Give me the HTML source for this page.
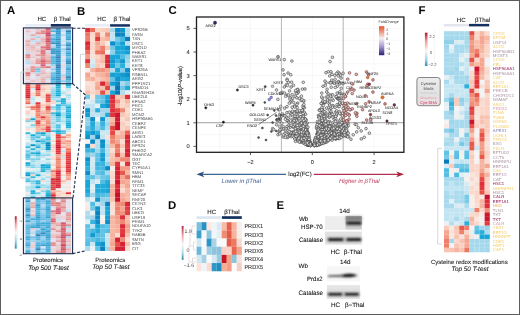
<!DOCTYPE html>
<html><head><meta charset="utf-8"><style>
html,body{margin:0;padding:0;background:#fff;width:520px;height:315px;overflow:hidden;}
svg{display:block;font-family:"Liberation Sans", sans-serif;text-rendering:geometricPrecision;-webkit-font-smoothing:antialiased;will-change:transform;filter:blur(0.3px);}
</style></head><body>
<svg width="520" height="315" viewBox="0 0 520 315" font-family='"Liberation Sans", sans-serif'>
<rect x="0.00" y="0.00" width="520.00" height="315.00" fill="#ffffff" />
<text x="6.90" y="14.30" font-size="11.4" fill="#0a0a0a" text-anchor="start" font-weight="bold" font-style="normal" >A</text>
<text x="77.10" y="14.50" font-size="11.4" fill="#0a0a0a" text-anchor="start" font-weight="bold" font-style="normal" >B</text>
<text x="168.40" y="14.30" font-size="11.4" fill="#0a0a0a" text-anchor="start" font-weight="bold" font-style="normal" >C</text>
<text x="168.10" y="208.80" font-size="11.4" fill="#0a0a0a" text-anchor="start" font-weight="bold" font-style="normal" >D</text>
<text x="276.50" y="208.80" font-size="11.4" fill="#0a0a0a" text-anchor="start" font-weight="bold" font-style="normal" >E</text>
<text x="418.40" y="14.30" font-size="11.4" fill="#0a0a0a" text-anchor="start" font-weight="bold" font-style="normal" >F</text>
<rect x="25.50" y="28.30" width="5.10" height="2.05" fill="#f8e2da" />
<rect x="25.50" y="30.30" width="5.10" height="2.05" fill="#f8c2b1" />
<rect x="25.50" y="32.30" width="5.10" height="2.05" fill="#f8e1d8" />
<rect x="25.50" y="34.30" width="5.10" height="2.05" fill="#f8e4dd" />
<rect x="25.50" y="36.30" width="5.10" height="2.05" fill="#e9f1f4" />
<rect x="25.50" y="38.30" width="5.10" height="2.05" fill="#f9e1d8" />
<rect x="25.50" y="40.30" width="5.10" height="2.05" fill="#f4a590" />
<rect x="25.50" y="42.30" width="5.10" height="2.05" fill="#f9c6b6" />
<rect x="25.50" y="44.30" width="5.10" height="2.05" fill="#f5a994" />
<rect x="25.50" y="46.30" width="5.10" height="2.05" fill="#facebf" />
<rect x="25.50" y="48.30" width="5.10" height="2.05" fill="#f9c8b7" />
<rect x="25.50" y="50.30" width="5.10" height="2.05" fill="#fad1c2" />
<rect x="25.50" y="52.30" width="5.10" height="2.05" fill="#bce6f1" />
<rect x="25.50" y="54.30" width="5.10" height="2.05" fill="#ec705f" />
<rect x="25.50" y="56.30" width="5.10" height="2.05" fill="#ee7a66" />
<rect x="25.50" y="58.30" width="5.10" height="2.05" fill="#f9c3b2" />
<rect x="25.50" y="60.30" width="5.10" height="2.05" fill="#bae5f1" />
<rect x="25.50" y="62.30" width="5.10" height="2.05" fill="#b7e4f0" />
<rect x="25.50" y="64.30" width="5.10" height="2.05" fill="#ecf2f4" />
<rect x="25.50" y="66.30" width="5.10" height="2.05" fill="#f6eae5" />
<rect x="25.50" y="68.30" width="5.10" height="2.05" fill="#faccbc" />
<rect x="25.50" y="70.30" width="5.10" height="2.05" fill="#fadbcf" />
<rect x="25.50" y="72.30" width="5.10" height="2.05" fill="#e75449" />
<rect x="25.50" y="74.30" width="5.10" height="2.05" fill="#ed7562" />
<rect x="25.50" y="76.30" width="5.10" height="2.05" fill="#fad1c2" />
<rect x="25.50" y="78.30" width="5.10" height="2.05" fill="#facdbd" />
<rect x="25.50" y="80.30" width="5.10" height="2.05" fill="#f5f2f1" />
<rect x="25.50" y="82.30" width="5.10" height="2.05" fill="#f18e79" />
<rect x="25.50" y="84.30" width="5.10" height="2.05" fill="#e44844" />
<rect x="25.50" y="86.30" width="5.10" height="2.05" fill="#e33f41" />
<rect x="25.50" y="88.30" width="5.10" height="2.05" fill="#df2f3c" />
<rect x="25.50" y="90.30" width="5.10" height="2.05" fill="#e0303c" />
<rect x="25.50" y="92.30" width="5.10" height="2.05" fill="#de2b3a" />
<rect x="25.50" y="94.30" width="5.10" height="2.05" fill="#db2838" />
<rect x="25.50" y="96.30" width="5.10" height="2.05" fill="#d52034" />
<rect x="25.50" y="98.30" width="5.10" height="2.05" fill="#f18e79" />
<rect x="25.50" y="100.30" width="5.10" height="2.05" fill="#f39b86" />
<rect x="25.50" y="102.30" width="5.10" height="2.05" fill="#e96254" />
<rect x="25.50" y="104.30" width="5.10" height="2.05" fill="#f6ece8" />
<rect x="25.50" y="106.30" width="5.10" height="2.05" fill="#f6af9a" />
<rect x="25.50" y="108.30" width="5.10" height="2.05" fill="#f4f4f4" />
<rect x="25.50" y="110.30" width="5.10" height="2.05" fill="#fbd4c6" />
<rect x="25.50" y="112.30" width="5.10" height="2.05" fill="#facdbe" />
<rect x="25.50" y="114.30" width="5.10" height="2.05" fill="#d2ecf3" />
<rect x="25.50" y="116.30" width="5.10" height="2.05" fill="#f6ece9" />
<rect x="25.50" y="118.30" width="5.10" height="2.05" fill="#f7b9a5" />
<rect x="25.50" y="120.30" width="5.10" height="2.05" fill="#78cee7" />
<rect x="25.50" y="122.30" width="5.10" height="2.05" fill="#ebf2f4" />
<rect x="25.50" y="124.30" width="5.10" height="2.05" fill="#f5f2f1" />
<rect x="25.50" y="126.30" width="5.10" height="2.05" fill="#cdebf2" />
<rect x="25.50" y="128.30" width="5.10" height="2.05" fill="#fadcd1" />
<rect x="25.50" y="130.30" width="5.10" height="2.05" fill="#f5f0ee" />
<rect x="25.50" y="132.30" width="5.10" height="2.05" fill="#2fb6dc" />
<rect x="25.50" y="134.30" width="5.10" height="2.05" fill="#d6edf3" />
<rect x="25.50" y="136.30" width="5.10" height="2.05" fill="#cceaf2" />
<rect x="25.50" y="138.30" width="5.10" height="2.05" fill="#ddeef3" />
<rect x="25.50" y="140.30" width="5.10" height="2.05" fill="#f5f0ee" />
<rect x="25.50" y="142.30" width="5.10" height="2.05" fill="#b8e5f1" />
<rect x="25.50" y="144.30" width="5.10" height="2.05" fill="#a8deee" />
<rect x="25.50" y="146.30" width="5.10" height="2.05" fill="#38b9de" />
<rect x="25.50" y="148.30" width="5.10" height="2.05" fill="#c9eaf2" />
<rect x="25.50" y="150.30" width="5.10" height="2.05" fill="#70cbe6" />
<rect x="25.50" y="152.30" width="5.10" height="2.05" fill="#7ed0e8" />
<rect x="25.50" y="154.30" width="5.10" height="2.05" fill="#3abade" />
<rect x="25.50" y="156.30" width="5.10" height="2.05" fill="#51c1e1" />
<rect x="25.50" y="158.30" width="5.10" height="2.05" fill="#77cee7" />
<rect x="25.50" y="160.30" width="5.10" height="2.05" fill="#f1f3f4" />
<rect x="25.50" y="162.30" width="5.10" height="2.05" fill="#0fa9d5" />
<rect x="25.50" y="164.30" width="5.10" height="2.05" fill="#2fb6dc" />
<rect x="25.50" y="166.30" width="5.10" height="2.05" fill="#b0e1ef" />
<rect x="25.50" y="168.30" width="5.10" height="2.05" fill="#f5f0ee" />
<rect x="25.50" y="170.30" width="5.10" height="2.05" fill="#c7e9f2" />
<rect x="25.50" y="172.30" width="5.10" height="2.05" fill="#16acd7" />
<rect x="25.50" y="174.30" width="5.10" height="2.05" fill="#069ac8" />
<rect x="25.50" y="176.30" width="5.10" height="2.05" fill="#b8e4f0" />
<rect x="25.50" y="178.30" width="5.10" height="2.05" fill="#65c8e4" />
<rect x="25.50" y="180.30" width="5.10" height="2.05" fill="#44bde0" />
<rect x="25.50" y="182.30" width="5.10" height="2.05" fill="#dfeff3" />
<rect x="25.50" y="184.30" width="5.10" height="2.05" fill="#e6f1f3" />
<rect x="25.50" y="186.30" width="5.10" height="2.05" fill="#aadfee" />
<rect x="25.50" y="188.30" width="5.10" height="2.05" fill="#b0e2ef" />
<rect x="25.50" y="190.30" width="5.10" height="2.05" fill="#bde6f1" />
<rect x="25.50" y="192.30" width="5.10" height="2.05" fill="#f6ebe6" />
<rect x="25.50" y="194.30" width="5.10" height="2.05" fill="#c9eaf2" />
<rect x="25.50" y="196.30" width="5.10" height="2.05" fill="#c3e8f2" />
<rect x="25.50" y="198.30" width="5.10" height="2.05" fill="#3dbbdf" />
<rect x="25.50" y="200.30" width="5.10" height="2.05" fill="#008abb" />
<rect x="25.50" y="202.30" width="5.10" height="2.05" fill="#71cce6" />
<rect x="25.50" y="204.30" width="5.10" height="2.05" fill="#5ac4e3" />
<rect x="25.50" y="206.30" width="5.10" height="2.05" fill="#3dbbde" />
<rect x="25.50" y="208.30" width="5.10" height="2.05" fill="#007aae" />
<rect x="25.50" y="210.30" width="5.10" height="2.05" fill="#0ca4d1" />
<rect x="25.50" y="212.30" width="5.10" height="2.05" fill="#51c2e1" />
<rect x="25.50" y="214.30" width="5.10" height="2.05" fill="#0080b3" />
<rect x="25.50" y="216.30" width="5.10" height="2.05" fill="#1aaed8" />
<rect x="25.50" y="218.30" width="5.10" height="2.05" fill="#5ec6e3" />
<rect x="25.50" y="220.30" width="5.10" height="2.05" fill="#0192c2" />
<rect x="25.50" y="222.30" width="5.10" height="2.05" fill="#89d3e9" />
<rect x="25.50" y="224.30" width="5.10" height="2.05" fill="#3ebbdf" />
<rect x="25.50" y="226.30" width="5.10" height="2.05" fill="#1caed8" />
<rect x="25.50" y="228.30" width="5.10" height="2.05" fill="#33b7dd" />
<rect x="25.50" y="230.30" width="5.10" height="2.05" fill="#44bddf" />
<rect x="25.50" y="232.30" width="5.10" height="2.05" fill="#29b3db" />
<rect x="25.50" y="234.30" width="5.10" height="2.05" fill="#67c9e4" />
<rect x="25.50" y="236.30" width="5.10" height="2.05" fill="#0ca3d0" />
<rect x="25.50" y="238.30" width="5.10" height="2.05" fill="#10aad6" />
<rect x="25.50" y="240.30" width="5.10" height="2.05" fill="#60c6e3" />
<rect x="25.50" y="242.30" width="5.10" height="2.05" fill="#24b2da" />
<rect x="25.50" y="244.30" width="5.10" height="2.05" fill="#089ecb" />
<rect x="25.50" y="246.30" width="5.10" height="2.05" fill="#59c4e2" />
<rect x="25.50" y="248.30" width="5.10" height="2.05" fill="#7ed0e8" />
<rect x="25.50" y="250.30" width="5.10" height="2.05" fill="#0fa9d5" />
<rect x="25.50" y="252.30" width="5.10" height="0.75" fill="#0091c0" />
<rect x="30.55" y="28.30" width="5.10" height="2.05" fill="#f7e7e1" />
<rect x="30.55" y="30.30" width="5.10" height="2.05" fill="#f7e7e1" />
<rect x="30.55" y="32.30" width="5.10" height="2.05" fill="#f6ede9" />
<rect x="30.55" y="34.30" width="5.10" height="2.05" fill="#f4a28d" />
<rect x="30.55" y="36.30" width="5.10" height="2.05" fill="#d4ecf3" />
<rect x="30.55" y="38.30" width="5.10" height="2.05" fill="#f5aa95" />
<rect x="30.55" y="40.30" width="5.10" height="2.05" fill="#c6e9f2" />
<rect x="30.55" y="42.30" width="5.10" height="2.05" fill="#e3f0f3" />
<rect x="30.55" y="44.30" width="5.10" height="2.05" fill="#f9c8b8" />
<rect x="30.55" y="46.30" width="5.10" height="2.05" fill="#f6b29d" />
<rect x="30.55" y="48.30" width="5.10" height="2.05" fill="#f8beac" />
<rect x="30.55" y="50.30" width="5.10" height="2.05" fill="#fbd5c7" />
<rect x="30.55" y="52.30" width="5.10" height="2.05" fill="#f9ddd2" />
<rect x="30.55" y="54.30" width="5.10" height="2.05" fill="#f9ddd2" />
<rect x="30.55" y="56.30" width="5.10" height="2.05" fill="#facbbb" />
<rect x="30.55" y="58.30" width="5.10" height="2.05" fill="#f7e8e3" />
<rect x="30.55" y="60.30" width="5.10" height="2.05" fill="#fbd8cb" />
<rect x="30.55" y="62.30" width="5.10" height="2.05" fill="#facbbb" />
<rect x="30.55" y="64.30" width="5.10" height="2.05" fill="#f8e2da" />
<rect x="30.55" y="66.30" width="5.10" height="2.05" fill="#f08671" />
<rect x="30.55" y="68.30" width="5.10" height="2.05" fill="#f18c77" />
<rect x="30.55" y="70.30" width="5.10" height="2.05" fill="#f0836e" />
<rect x="30.55" y="72.30" width="5.10" height="2.05" fill="#fad9cd" />
<rect x="30.55" y="74.30" width="5.10" height="2.05" fill="#f3f4f4" />
<rect x="30.55" y="76.30" width="5.10" height="2.05" fill="#f4f2f2" />
<rect x="30.55" y="78.30" width="5.10" height="2.05" fill="#f7e5df" />
<rect x="30.55" y="80.30" width="5.10" height="2.05" fill="#f8bfad" />
<rect x="30.55" y="82.30" width="5.10" height="2.05" fill="#f5f1f0" />
<rect x="30.55" y="84.30" width="5.10" height="2.05" fill="#fbd5c7" />
<rect x="30.55" y="86.30" width="5.10" height="2.05" fill="#f6b49f" />
<rect x="30.55" y="88.30" width="5.10" height="2.05" fill="#cfebf3" />
<rect x="30.55" y="90.30" width="5.10" height="2.05" fill="#f5f0ee" />
<rect x="30.55" y="92.30" width="5.10" height="2.05" fill="#fbd8ca" />
<rect x="30.55" y="94.30" width="5.10" height="2.05" fill="#fbd5c6" />
<rect x="30.55" y="96.30" width="5.10" height="2.05" fill="#c7e9f2" />
<rect x="30.55" y="98.30" width="5.10" height="2.05" fill="#b8e4f0" />
<rect x="30.55" y="100.30" width="5.10" height="2.05" fill="#cfebf3" />
<rect x="30.55" y="102.30" width="5.10" height="2.05" fill="#c8e9f2" />
<rect x="30.55" y="104.30" width="5.10" height="2.05" fill="#f8e2da" />
<rect x="30.55" y="106.30" width="5.10" height="2.05" fill="#ea6455" />
<rect x="30.55" y="108.30" width="5.10" height="2.05" fill="#f18c77" />
<rect x="30.55" y="110.30" width="5.10" height="2.05" fill="#f6ece8" />
<rect x="30.55" y="112.30" width="5.10" height="2.05" fill="#f8e4dc" />
<rect x="30.55" y="114.30" width="5.10" height="2.05" fill="#f7e6e0" />
<rect x="30.55" y="116.30" width="5.10" height="2.05" fill="#c8e9f2" />
<rect x="30.55" y="118.30" width="5.10" height="2.05" fill="#0fa8d4" />
<rect x="30.55" y="120.30" width="5.10" height="2.05" fill="#ace0ef" />
<rect x="30.55" y="122.30" width="5.10" height="2.05" fill="#f7e8e2" />
<rect x="30.55" y="124.30" width="5.10" height="2.05" fill="#79cee7" />
<rect x="30.55" y="126.30" width="5.10" height="2.05" fill="#c8e9f2" />
<rect x="30.55" y="128.30" width="5.10" height="2.05" fill="#f6eae5" />
<rect x="30.55" y="130.30" width="5.10" height="2.05" fill="#f6edea" />
<rect x="30.55" y="132.30" width="5.10" height="2.05" fill="#e2f0f3" />
<rect x="30.55" y="134.30" width="5.10" height="2.05" fill="#16acd7" />
<rect x="30.55" y="136.30" width="5.10" height="2.05" fill="#6ccae5" />
<rect x="30.55" y="138.30" width="5.10" height="2.05" fill="#6dcae5" />
<rect x="30.55" y="140.30" width="5.10" height="2.05" fill="#b0e1ef" />
<rect x="30.55" y="142.30" width="5.10" height="2.05" fill="#cceaf2" />
<rect x="30.55" y="144.30" width="5.10" height="2.05" fill="#0191c1" />
<rect x="30.55" y="146.30" width="5.10" height="2.05" fill="#cceaf2" />
<rect x="30.55" y="148.30" width="5.10" height="2.05" fill="#24b1da" />
<rect x="30.55" y="150.30" width="5.10" height="2.05" fill="#b4e3f0" />
<rect x="30.55" y="152.30" width="5.10" height="2.05" fill="#21b0d9" />
<rect x="30.55" y="154.30" width="5.10" height="2.05" fill="#93d7eb" />
<rect x="30.55" y="156.30" width="5.10" height="2.05" fill="#d2ecf3" />
<rect x="30.55" y="158.30" width="5.10" height="2.05" fill="#7ccfe7" />
<rect x="30.55" y="160.30" width="5.10" height="2.05" fill="#94d7eb" />
<rect x="30.55" y="162.30" width="5.10" height="2.05" fill="#bbe5f1" />
<rect x="30.55" y="164.30" width="5.10" height="2.05" fill="#91d6ea" />
<rect x="30.55" y="166.30" width="5.10" height="2.05" fill="#81d1e8" />
<rect x="30.55" y="168.30" width="5.10" height="2.05" fill="#e4f0f3" />
<rect x="30.55" y="170.30" width="5.10" height="2.05" fill="#caeaf2" />
<rect x="30.55" y="172.30" width="5.10" height="2.05" fill="#71cce6" />
<rect x="30.55" y="174.30" width="5.10" height="2.05" fill="#fbd5c7" />
<rect x="30.55" y="176.30" width="5.10" height="2.05" fill="#33b7dd" />
<rect x="30.55" y="178.30" width="5.10" height="2.05" fill="#c2e8f2" />
<rect x="30.55" y="180.30" width="5.10" height="2.05" fill="#73cce6" />
<rect x="30.55" y="182.30" width="5.10" height="2.05" fill="#90d6ea" />
<rect x="30.55" y="184.30" width="5.10" height="2.05" fill="#b5e3f0" />
<rect x="30.55" y="186.30" width="5.10" height="2.05" fill="#96d8eb" />
<rect x="30.55" y="188.30" width="5.10" height="2.05" fill="#b1e2ef" />
<rect x="30.55" y="190.30" width="5.10" height="2.05" fill="#1fb0d9" />
<rect x="30.55" y="192.30" width="5.10" height="2.05" fill="#20b0d9" />
<rect x="30.55" y="194.30" width="5.10" height="2.05" fill="#afe1ef" />
<rect x="30.55" y="196.30" width="5.10" height="2.05" fill="#3dbbde" />
<rect x="30.55" y="198.30" width="5.10" height="2.05" fill="#f7e9e3" />
<rect x="30.55" y="200.30" width="5.10" height="2.05" fill="#f4f3f3" />
<rect x="30.55" y="202.30" width="5.10" height="2.05" fill="#f5a691" />
<rect x="30.55" y="204.30" width="5.10" height="2.05" fill="#f7b8a4" />
<rect x="30.55" y="206.30" width="5.10" height="2.05" fill="#f39d88" />
<rect x="30.55" y="208.30" width="5.10" height="2.05" fill="#f7e7e0" />
<rect x="30.55" y="210.30" width="5.10" height="2.05" fill="#facebf" />
<rect x="30.55" y="212.30" width="5.10" height="2.05" fill="#f6ebe7" />
<rect x="30.55" y="214.30" width="5.10" height="2.05" fill="#f7b7a3" />
<rect x="30.55" y="216.30" width="5.10" height="2.05" fill="#8cd5ea" />
<rect x="30.55" y="218.30" width="5.10" height="2.05" fill="#14acd7" />
<rect x="30.55" y="220.30" width="5.10" height="2.05" fill="#8bd4e9" />
<rect x="30.55" y="222.30" width="5.10" height="2.05" fill="#6bcae5" />
<rect x="30.55" y="224.30" width="5.10" height="2.05" fill="#30b6dc" />
<rect x="30.55" y="226.30" width="5.10" height="2.05" fill="#0496c5" />
<rect x="30.55" y="228.30" width="5.10" height="2.05" fill="#fbd3c4" />
<rect x="30.55" y="230.30" width="5.10" height="2.05" fill="#d0ebf3" />
<rect x="30.55" y="232.30" width="5.10" height="2.05" fill="#afe1ef" />
<rect x="30.55" y="234.30" width="5.10" height="2.05" fill="#eef3f4" />
<rect x="30.55" y="236.30" width="5.10" height="2.05" fill="#52c2e1" />
<rect x="30.55" y="238.30" width="5.10" height="2.05" fill="#81d1e8" />
<rect x="30.55" y="240.30" width="5.10" height="2.05" fill="#92d7eb" />
<rect x="30.55" y="242.30" width="5.10" height="2.05" fill="#f9ddd2" />
<rect x="30.55" y="244.30" width="5.10" height="2.05" fill="#facfc0" />
<rect x="30.55" y="246.30" width="5.10" height="2.05" fill="#fad1c2" />
<rect x="30.55" y="248.30" width="5.10" height="2.05" fill="#cbeaf2" />
<rect x="30.55" y="250.30" width="5.10" height="2.05" fill="#a5deee" />
<rect x="30.55" y="252.30" width="5.10" height="0.75" fill="#f8e1d9" />
<rect x="35.60" y="28.30" width="5.10" height="2.05" fill="#f9c9b9" />
<rect x="35.60" y="30.30" width="5.10" height="2.05" fill="#f9c9b8" />
<rect x="35.60" y="32.30" width="5.10" height="2.05" fill="#f0836e" />
<rect x="35.60" y="34.30" width="5.10" height="2.05" fill="#fad9cd" />
<rect x="35.60" y="36.30" width="5.10" height="2.05" fill="#a2dced" />
<rect x="35.60" y="38.30" width="5.10" height="2.05" fill="#f9ded4" />
<rect x="35.60" y="40.30" width="5.10" height="2.05" fill="#c1e7f2" />
<rect x="35.60" y="42.30" width="5.10" height="2.05" fill="#f5a792" />
<rect x="35.60" y="44.30" width="5.10" height="2.05" fill="#f8c0ae" />
<rect x="35.60" y="46.30" width="5.10" height="2.05" fill="#f7e6df" />
<rect x="35.60" y="48.30" width="5.10" height="2.05" fill="#facfc0" />
<rect x="35.60" y="50.30" width="5.10" height="2.05" fill="#f7b4a0" />
<rect x="35.60" y="52.30" width="5.10" height="2.05" fill="#fad9cc" />
<rect x="35.60" y="54.30" width="5.10" height="2.05" fill="#f29681" />
<rect x="35.60" y="56.30" width="5.10" height="2.05" fill="#f9ded4" />
<rect x="35.60" y="58.30" width="5.10" height="2.05" fill="#f5a994" />
<rect x="35.60" y="60.30" width="5.10" height="2.05" fill="#f18c77" />
<rect x="35.60" y="62.30" width="5.10" height="2.05" fill="#f0846f" />
<rect x="35.60" y="64.30" width="5.10" height="2.05" fill="#f0f3f4" />
<rect x="35.60" y="66.30" width="5.10" height="2.05" fill="#f6b29e" />
<rect x="35.60" y="68.30" width="5.10" height="2.05" fill="#54c2e2" />
<rect x="35.60" y="70.30" width="5.10" height="2.05" fill="#76cde6" />
<rect x="35.60" y="72.30" width="5.10" height="2.05" fill="#ade1ef" />
<rect x="35.60" y="74.30" width="5.10" height="2.05" fill="#f4a28d" />
<rect x="35.60" y="76.30" width="5.10" height="2.05" fill="#dceef3" />
<rect x="35.60" y="78.30" width="5.10" height="2.05" fill="#fbd6c9" />
<rect x="35.60" y="80.30" width="5.10" height="2.05" fill="#f9ddd2" />
<rect x="35.60" y="82.30" width="5.10" height="2.05" fill="#fbd7ca" />
<rect x="35.60" y="84.30" width="5.10" height="2.05" fill="#e23c40" />
<rect x="35.60" y="86.30" width="5.10" height="2.05" fill="#e0313c" />
<rect x="35.60" y="88.30" width="5.10" height="2.05" fill="#d31e33" />
<rect x="35.60" y="90.30" width="5.10" height="2.05" fill="#f08772" />
<rect x="35.60" y="92.30" width="5.10" height="2.05" fill="#ee7966" />
<rect x="35.60" y="94.30" width="5.10" height="2.05" fill="#eb6c5c" />
<rect x="35.60" y="96.30" width="5.10" height="2.05" fill="#f7e6df" />
<rect x="35.60" y="98.30" width="5.10" height="2.05" fill="#ecf2f4" />
<rect x="35.60" y="100.30" width="5.10" height="2.05" fill="#f6ece8" />
<rect x="35.60" y="102.30" width="5.10" height="2.05" fill="#e0333d" />
<rect x="35.60" y="104.30" width="5.10" height="2.05" fill="#e85c4f" />
<rect x="35.60" y="106.30" width="5.10" height="2.05" fill="#e54a44" />
<rect x="35.60" y="108.30" width="5.10" height="2.05" fill="#ed7563" />
<rect x="35.60" y="110.30" width="5.10" height="2.05" fill="#ee7b67" />
<rect x="35.60" y="112.30" width="5.10" height="2.05" fill="#f2927d" />
<rect x="35.60" y="114.30" width="5.10" height="2.05" fill="#ee7b67" />
<rect x="35.60" y="116.30" width="5.10" height="2.05" fill="#f18e79" />
<rect x="35.60" y="118.30" width="5.10" height="2.05" fill="#f7b4a0" />
<rect x="35.60" y="120.30" width="5.10" height="2.05" fill="#e65147" />
<rect x="35.60" y="122.30" width="5.10" height="2.05" fill="#e44442" />
<rect x="35.60" y="124.30" width="5.10" height="2.05" fill="#ef816c" />
<rect x="35.60" y="126.30" width="5.10" height="2.05" fill="#f6ad98" />
<rect x="35.60" y="128.30" width="5.10" height="2.05" fill="#f7b5a1" />
<rect x="35.60" y="130.30" width="5.10" height="2.05" fill="#f6b29e" />
<rect x="35.60" y="132.30" width="5.10" height="2.05" fill="#30b6dc" />
<rect x="35.60" y="134.30" width="5.10" height="2.05" fill="#8dd5ea" />
<rect x="35.60" y="136.30" width="5.10" height="2.05" fill="#41bcdf" />
<rect x="35.60" y="138.30" width="5.10" height="2.05" fill="#a9dfee" />
<rect x="35.60" y="140.30" width="5.10" height="2.05" fill="#0da6d2" />
<rect x="35.60" y="142.30" width="5.10" height="2.05" fill="#a7deee" />
<rect x="35.60" y="144.30" width="5.10" height="2.05" fill="#68c9e5" />
<rect x="35.60" y="146.30" width="5.10" height="2.05" fill="#1cafd8" />
<rect x="35.60" y="148.30" width="5.10" height="2.05" fill="#bee6f1" />
<rect x="35.60" y="150.30" width="5.10" height="2.05" fill="#83d1e8" />
<rect x="35.60" y="152.30" width="5.10" height="2.05" fill="#10a9d5" />
<rect x="35.60" y="154.30" width="5.10" height="2.05" fill="#57c3e2" />
<rect x="35.60" y="156.30" width="5.10" height="2.05" fill="#a4dded" />
<rect x="35.60" y="158.30" width="5.10" height="2.05" fill="#75cde6" />
<rect x="35.60" y="160.30" width="5.10" height="2.05" fill="#c1e8f2" />
<rect x="35.60" y="162.30" width="5.10" height="2.05" fill="#bfe7f2" />
<rect x="35.60" y="164.30" width="5.10" height="2.05" fill="#bae5f1" />
<rect x="35.60" y="166.30" width="5.10" height="2.05" fill="#a7deee" />
<rect x="35.60" y="168.30" width="5.10" height="2.05" fill="#ddeef3" />
<rect x="35.60" y="170.30" width="5.10" height="2.05" fill="#bae5f1" />
<rect x="35.60" y="172.30" width="5.10" height="2.05" fill="#aee1ef" />
<rect x="35.60" y="174.30" width="5.10" height="2.05" fill="#16acd7" />
<rect x="35.60" y="176.30" width="5.10" height="2.05" fill="#c7e9f2" />
<rect x="35.60" y="178.30" width="5.10" height="2.05" fill="#dbeef3" />
<rect x="35.60" y="180.30" width="5.10" height="2.05" fill="#2eb5dc" />
<rect x="35.60" y="182.30" width="5.10" height="2.05" fill="#29b3db" />
<rect x="35.60" y="184.30" width="5.10" height="2.05" fill="#85d2e9" />
<rect x="35.60" y="186.30" width="5.10" height="2.05" fill="#0ca3d0" />
<rect x="35.60" y="188.30" width="5.10" height="2.05" fill="#b5e3f0" />
<rect x="35.60" y="190.30" width="5.10" height="2.05" fill="#f6eae5" />
<rect x="35.60" y="192.30" width="5.10" height="2.05" fill="#6fcbe6" />
<rect x="35.60" y="194.30" width="5.10" height="2.05" fill="#bfe7f2" />
<rect x="35.60" y="196.30" width="5.10" height="2.05" fill="#eff3f4" />
<rect x="35.60" y="198.30" width="5.10" height="2.05" fill="#0ea7d3" />
<rect x="35.60" y="200.30" width="5.10" height="2.05" fill="#2bb4db" />
<rect x="35.60" y="202.30" width="5.10" height="2.05" fill="#3bbade" />
<rect x="35.60" y="204.30" width="5.10" height="2.05" fill="#0292c2" />
<rect x="35.60" y="206.30" width="5.10" height="2.05" fill="#0fa8d4" />
<rect x="35.60" y="208.30" width="5.10" height="2.05" fill="#1eafd9" />
<rect x="35.60" y="210.30" width="5.10" height="2.05" fill="#38b9dd" />
<rect x="35.60" y="212.30" width="5.10" height="2.05" fill="#0fa9d5" />
<rect x="35.60" y="214.30" width="5.10" height="2.05" fill="#0da5d2" />
<rect x="35.60" y="216.30" width="5.10" height="2.05" fill="#008fbf" />
<rect x="35.60" y="218.30" width="5.10" height="2.05" fill="#0aa1ce" />
<rect x="35.60" y="220.30" width="5.10" height="2.05" fill="#3bbade" />
<rect x="35.60" y="222.30" width="5.10" height="2.05" fill="#15acd7" />
<rect x="35.60" y="224.30" width="5.10" height="2.05" fill="#0294c3" />
<rect x="35.60" y="226.30" width="5.10" height="2.05" fill="#0394c3" />
<rect x="35.60" y="228.30" width="5.10" height="2.05" fill="#afe1ef" />
<rect x="35.60" y="230.30" width="5.10" height="2.05" fill="#4abfe0" />
<rect x="35.60" y="232.30" width="5.10" height="2.05" fill="#2fb5dc" />
<rect x="35.60" y="234.30" width="5.10" height="2.05" fill="#006aa0" />
<rect x="35.60" y="236.30" width="5.10" height="2.05" fill="#2eb5dc" />
<rect x="35.60" y="238.30" width="5.10" height="2.05" fill="#27b3da" />
<rect x="35.60" y="240.30" width="5.10" height="2.05" fill="#71cce6" />
<rect x="35.60" y="242.30" width="5.10" height="2.05" fill="#25b2da" />
<rect x="35.60" y="244.30" width="5.10" height="2.05" fill="#0fa8d5" />
<rect x="35.60" y="246.30" width="5.10" height="2.05" fill="#29b3db" />
<rect x="35.60" y="248.30" width="5.10" height="2.05" fill="#006ca2" />
<rect x="35.60" y="250.30" width="5.10" height="2.05" fill="#42bddf" />
<rect x="35.60" y="252.30" width="5.10" height="0.75" fill="#20b0d9" />
<rect x="40.65" y="28.30" width="5.10" height="2.05" fill="#fad0c0" />
<rect x="40.65" y="30.30" width="5.10" height="2.05" fill="#ef7f6a" />
<rect x="40.65" y="32.30" width="5.10" height="2.05" fill="#eb6b5b" />
<rect x="40.65" y="34.30" width="5.10" height="2.05" fill="#f8e4dc" />
<rect x="40.65" y="36.30" width="5.10" height="2.05" fill="#facebf" />
<rect x="40.65" y="38.30" width="5.10" height="2.05" fill="#f6ad98" />
<rect x="40.65" y="40.30" width="5.10" height="2.05" fill="#f6b19d" />
<rect x="40.65" y="42.30" width="5.10" height="2.05" fill="#f9c5b4" />
<rect x="40.65" y="44.30" width="5.10" height="2.05" fill="#fad8cb" />
<rect x="40.65" y="46.30" width="5.10" height="2.05" fill="#e95e50" />
<rect x="40.65" y="48.30" width="5.10" height="2.05" fill="#f18c77" />
<rect x="40.65" y="50.30" width="5.10" height="2.05" fill="#e75449" />
<rect x="40.65" y="52.30" width="5.10" height="2.05" fill="#e7564b" />
<rect x="40.65" y="54.30" width="5.10" height="2.05" fill="#ee7764" />
<rect x="40.65" y="56.30" width="5.10" height="2.05" fill="#f2937e" />
<rect x="40.65" y="58.30" width="5.10" height="2.05" fill="#ed7361" />
<rect x="40.65" y="60.30" width="5.10" height="2.05" fill="#e0313c" />
<rect x="40.65" y="62.30" width="5.10" height="2.05" fill="#e7564a" />
<rect x="40.65" y="64.30" width="5.10" height="2.05" fill="#e23d40" />
<rect x="40.65" y="66.30" width="5.10" height="2.05" fill="#ee7a66" />
<rect x="40.65" y="68.30" width="5.10" height="2.05" fill="#fadacf" />
<rect x="40.65" y="70.30" width="5.10" height="2.05" fill="#f8c1b0" />
<rect x="40.65" y="72.30" width="5.10" height="2.05" fill="#f5aa95" />
<rect x="40.65" y="74.30" width="5.10" height="2.05" fill="#fadace" />
<rect x="40.65" y="76.30" width="5.10" height="2.05" fill="#f9c4b3" />
<rect x="40.65" y="78.30" width="5.10" height="2.05" fill="#f6ad98" />
<rect x="40.65" y="80.30" width="5.10" height="2.05" fill="#f6b19c" />
<rect x="40.65" y="82.30" width="5.10" height="2.05" fill="#f4a48f" />
<rect x="40.65" y="84.30" width="5.10" height="2.05" fill="#f9cab9" />
<rect x="40.65" y="86.30" width="5.10" height="2.05" fill="#fbd6c8" />
<rect x="40.65" y="88.30" width="5.10" height="2.05" fill="#f8bcaa" />
<rect x="40.65" y="90.30" width="5.10" height="2.05" fill="#facdbe" />
<rect x="40.65" y="92.30" width="5.10" height="2.05" fill="#f9dfd5" />
<rect x="40.65" y="94.30" width="5.10" height="2.05" fill="#fadbd0" />
<rect x="40.65" y="96.30" width="5.10" height="2.05" fill="#facebf" />
<rect x="40.65" y="98.30" width="5.10" height="2.05" fill="#f6eae5" />
<rect x="40.65" y="100.30" width="5.10" height="2.05" fill="#f7e5de" />
<rect x="40.65" y="102.30" width="5.10" height="2.05" fill="#f7e8e2" />
<rect x="40.65" y="104.30" width="5.10" height="2.05" fill="#f8c3b1" />
<rect x="40.65" y="106.30" width="5.10" height="2.05" fill="#f9caba" />
<rect x="40.65" y="108.30" width="5.10" height="2.05" fill="#f9e1d8" />
<rect x="40.65" y="110.30" width="5.10" height="2.05" fill="#f8bdab" />
<rect x="40.65" y="112.30" width="5.10" height="2.05" fill="#f6ae99" />
<rect x="40.65" y="114.30" width="5.10" height="2.05" fill="#f8bdaa" />
<rect x="40.65" y="116.30" width="5.10" height="2.05" fill="#e1373e" />
<rect x="40.65" y="118.30" width="5.10" height="2.05" fill="#f39984" />
<rect x="40.65" y="120.30" width="5.10" height="2.05" fill="#f8beac" />
<rect x="40.65" y="122.30" width="5.10" height="2.05" fill="#fbd4c5" />
<rect x="40.65" y="124.30" width="5.10" height="2.05" fill="#f4a48f" />
<rect x="40.65" y="126.30" width="5.10" height="2.05" fill="#f8beab" />
<rect x="40.65" y="128.30" width="5.10" height="2.05" fill="#f1907b" />
<rect x="40.65" y="130.30" width="5.10" height="2.05" fill="#f8c1af" />
<rect x="40.65" y="132.30" width="5.10" height="2.05" fill="#099fcd" />
<rect x="40.65" y="134.30" width="5.10" height="2.05" fill="#4cc0e1" />
<rect x="40.65" y="136.30" width="5.10" height="2.05" fill="#e9f1f4" />
<rect x="40.65" y="138.30" width="5.10" height="2.05" fill="#7bcfe7" />
<rect x="40.65" y="140.30" width="5.10" height="2.05" fill="#38b9dd" />
<rect x="40.65" y="142.30" width="5.10" height="2.05" fill="#5fc6e3" />
<rect x="40.65" y="144.30" width="5.10" height="2.05" fill="#b2e2ef" />
<rect x="40.65" y="146.30" width="5.10" height="2.05" fill="#b0e2ef" />
<rect x="40.65" y="148.30" width="5.10" height="2.05" fill="#9edbec" />
<rect x="40.65" y="150.30" width="5.10" height="2.05" fill="#e4f0f3" />
<rect x="40.65" y="152.30" width="5.10" height="2.05" fill="#bde6f1" />
<rect x="40.65" y="154.30" width="5.10" height="2.05" fill="#92d7eb" />
<rect x="40.65" y="156.30" width="5.10" height="2.05" fill="#b6e4f0" />
<rect x="40.65" y="158.30" width="5.10" height="2.05" fill="#edf2f4" />
<rect x="40.65" y="160.30" width="5.10" height="2.05" fill="#cbeaf2" />
<rect x="40.65" y="162.30" width="5.10" height="2.05" fill="#cdebf2" />
<rect x="40.65" y="164.30" width="5.10" height="2.05" fill="#0ca4d1" />
<rect x="40.65" y="166.30" width="5.10" height="2.05" fill="#1fb0d9" />
<rect x="40.65" y="168.30" width="5.10" height="2.05" fill="#38b9de" />
<rect x="40.65" y="170.30" width="5.10" height="2.05" fill="#1baed8" />
<rect x="40.65" y="172.30" width="5.10" height="2.05" fill="#d9eef3" />
<rect x="40.65" y="174.30" width="5.10" height="2.05" fill="#c2e8f2" />
<rect x="40.65" y="176.30" width="5.10" height="2.05" fill="#d1ecf3" />
<rect x="40.65" y="178.30" width="5.10" height="2.05" fill="#93d7eb" />
<rect x="40.65" y="180.30" width="5.10" height="2.05" fill="#fbd8ca" />
<rect x="40.65" y="182.30" width="5.10" height="2.05" fill="#e2f0f3" />
<rect x="40.65" y="184.30" width="5.10" height="2.05" fill="#93d7eb" />
<rect x="40.65" y="186.30" width="5.10" height="2.05" fill="#a4dded" />
<rect x="40.65" y="188.30" width="5.10" height="2.05" fill="#fbd6c8" />
<rect x="40.65" y="190.30" width="5.10" height="2.05" fill="#8bd4ea" />
<rect x="40.65" y="192.30" width="5.10" height="2.05" fill="#d0ebf3" />
<rect x="40.65" y="194.30" width="5.10" height="2.05" fill="#d5edf3" />
<rect x="40.65" y="196.30" width="5.10" height="2.05" fill="#a0dced" />
<rect x="40.65" y="198.30" width="5.10" height="2.05" fill="#099fcc" />
<rect x="40.65" y="200.30" width="5.10" height="2.05" fill="#61c7e4" />
<rect x="40.65" y="202.30" width="5.10" height="2.05" fill="#73cce6" />
<rect x="40.65" y="204.30" width="5.10" height="2.05" fill="#b5e3f0" />
<rect x="40.65" y="206.30" width="5.10" height="2.05" fill="#99d9ec" />
<rect x="40.65" y="208.30" width="5.10" height="2.05" fill="#51c1e1" />
<rect x="40.65" y="210.30" width="5.10" height="2.05" fill="#9fdbed" />
<rect x="40.65" y="212.30" width="5.10" height="2.05" fill="#85d2e9" />
<rect x="40.65" y="214.30" width="5.10" height="2.05" fill="#63c7e4" />
<rect x="40.65" y="216.30" width="5.10" height="2.05" fill="#54c2e2" />
<rect x="40.65" y="218.30" width="5.10" height="2.05" fill="#39b9de" />
<rect x="40.65" y="220.30" width="5.10" height="2.05" fill="#91d6ea" />
<rect x="40.65" y="222.30" width="5.10" height="2.05" fill="#0ca3d0" />
<rect x="40.65" y="224.30" width="5.10" height="2.05" fill="#1fb0d9" />
<rect x="40.65" y="226.30" width="5.10" height="2.05" fill="#4fc1e1" />
<rect x="40.65" y="228.30" width="5.10" height="2.05" fill="#0294c3" />
<rect x="40.65" y="230.30" width="5.10" height="2.05" fill="#2cb5db" />
<rect x="40.65" y="232.30" width="5.10" height="2.05" fill="#0079ac" />
<rect x="40.65" y="234.30" width="5.10" height="2.05" fill="#1caed8" />
<rect x="40.65" y="236.30" width="5.10" height="2.05" fill="#88d3e9" />
<rect x="40.65" y="238.30" width="5.10" height="2.05" fill="#87d3e9" />
<rect x="40.65" y="240.30" width="5.10" height="2.05" fill="#49bfe0" />
<rect x="40.65" y="242.30" width="5.10" height="2.05" fill="#3abade" />
<rect x="40.65" y="244.30" width="5.10" height="2.05" fill="#0396c5" />
<rect x="40.65" y="246.30" width="5.10" height="2.05" fill="#e8f1f4" />
<rect x="40.65" y="248.30" width="5.10" height="2.05" fill="#82d1e8" />
<rect x="40.65" y="250.30" width="5.10" height="2.05" fill="#b2e2f0" />
<rect x="40.65" y="252.30" width="5.10" height="0.75" fill="#0fa9d5" />
<rect x="45.70" y="28.30" width="5.10" height="2.05" fill="#e0313c" />
<rect x="45.70" y="30.30" width="5.10" height="2.05" fill="#e75449" />
<rect x="45.70" y="32.30" width="5.10" height="2.05" fill="#d41f34" />
<rect x="45.70" y="34.30" width="5.10" height="2.05" fill="#d21d32" />
<rect x="45.70" y="36.30" width="5.10" height="2.05" fill="#e7574b" />
<rect x="45.70" y="38.30" width="5.10" height="2.05" fill="#df2e3b" />
<rect x="45.70" y="40.30" width="5.10" height="2.05" fill="#d62235" />
<rect x="45.70" y="42.30" width="5.10" height="2.05" fill="#e75348" />
<rect x="45.70" y="44.30" width="5.10" height="2.05" fill="#e75449" />
<rect x="45.70" y="46.30" width="5.10" height="2.05" fill="#e34342" />
<rect x="45.70" y="48.30" width="5.10" height="2.05" fill="#e23a3f" />
<rect x="45.70" y="50.30" width="5.10" height="2.05" fill="#dceef3" />
<rect x="45.70" y="52.30" width="5.10" height="2.05" fill="#facdbd" />
<rect x="45.70" y="54.30" width="5.10" height="2.05" fill="#f9c3b2" />
<rect x="45.70" y="56.30" width="5.10" height="2.05" fill="#f6b19d" />
<rect x="45.70" y="58.30" width="5.10" height="2.05" fill="#f6ae99" />
<rect x="45.70" y="60.30" width="5.10" height="2.05" fill="#ef7f6a" />
<rect x="45.70" y="62.30" width="5.10" height="2.05" fill="#f2937e" />
<rect x="45.70" y="64.30" width="5.10" height="2.05" fill="#e1f0f3" />
<rect x="45.70" y="66.30" width="5.10" height="2.05" fill="#e85a4d" />
<rect x="45.70" y="68.30" width="5.10" height="2.05" fill="#f0f3f4" />
<rect x="45.70" y="70.30" width="5.10" height="2.05" fill="#eff3f4" />
<rect x="45.70" y="72.30" width="5.10" height="2.05" fill="#fad2c3" />
<rect x="45.70" y="74.30" width="5.10" height="2.05" fill="#facebf" />
<rect x="45.70" y="76.30" width="5.10" height="2.05" fill="#f7b8a5" />
<rect x="45.70" y="78.30" width="5.10" height="2.05" fill="#d1ecf3" />
<rect x="45.70" y="80.30" width="5.10" height="2.05" fill="#e6f1f3" />
<rect x="45.70" y="82.30" width="5.10" height="2.05" fill="#facfc0" />
<rect x="45.70" y="84.30" width="5.10" height="2.05" fill="#fadacd" />
<rect x="45.70" y="86.30" width="5.10" height="2.05" fill="#fadcd0" />
<rect x="45.70" y="88.30" width="5.10" height="2.05" fill="#fbd7ca" />
<rect x="45.70" y="90.30" width="5.10" height="2.05" fill="#f8e4dc" />
<rect x="45.70" y="92.30" width="5.10" height="2.05" fill="#f9c6b5" />
<rect x="45.70" y="94.30" width="5.10" height="2.05" fill="#e44442" />
<rect x="45.70" y="96.30" width="5.10" height="2.05" fill="#e54a44" />
<rect x="45.70" y="98.30" width="5.10" height="2.05" fill="#e75348" />
<rect x="45.70" y="100.30" width="5.10" height="2.05" fill="#e54b45" />
<rect x="45.70" y="102.30" width="5.10" height="2.05" fill="#f9caba" />
<rect x="45.70" y="104.30" width="5.10" height="2.05" fill="#f6b09b" />
<rect x="45.70" y="106.30" width="5.10" height="2.05" fill="#e23a3f" />
<rect x="45.70" y="108.30" width="5.10" height="2.05" fill="#e65046" />
<rect x="45.70" y="110.30" width="5.10" height="2.05" fill="#f29782" />
<rect x="45.70" y="112.30" width="5.10" height="2.05" fill="#f39883" />
<rect x="45.70" y="114.30" width="5.10" height="2.05" fill="#f8c0ae" />
<rect x="45.70" y="116.30" width="5.10" height="2.05" fill="#f4a48f" />
<rect x="45.70" y="118.30" width="5.10" height="2.05" fill="#f5a691" />
<rect x="45.70" y="120.30" width="5.10" height="2.05" fill="#f18f7a" />
<rect x="45.70" y="122.30" width="5.10" height="2.05" fill="#f18a75" />
<rect x="45.70" y="124.30" width="5.10" height="2.05" fill="#f39d88" />
<rect x="45.70" y="126.30" width="5.10" height="2.05" fill="#e44743" />
<rect x="45.70" y="128.30" width="5.10" height="2.05" fill="#e23d40" />
<rect x="45.70" y="130.30" width="5.10" height="2.05" fill="#e23c40" />
<rect x="45.70" y="132.30" width="5.10" height="2.05" fill="#aadfee" />
<rect x="45.70" y="134.30" width="5.10" height="2.05" fill="#96d8eb" />
<rect x="45.70" y="136.30" width="5.10" height="2.05" fill="#5ec6e3" />
<rect x="45.70" y="138.30" width="5.10" height="2.05" fill="#3cbade" />
<rect x="45.70" y="140.30" width="5.10" height="2.05" fill="#73cce6" />
<rect x="45.70" y="142.30" width="5.10" height="2.05" fill="#008ebf" />
<rect x="45.70" y="144.30" width="5.10" height="2.05" fill="#0086b7" />
<rect x="45.70" y="146.30" width="5.10" height="2.05" fill="#0599c7" />
<rect x="45.70" y="148.30" width="5.10" height="2.05" fill="#0293c2" />
<rect x="45.70" y="150.30" width="5.10" height="2.05" fill="#a4dded" />
<rect x="45.70" y="152.30" width="5.10" height="2.05" fill="#b7e4f0" />
<rect x="45.70" y="154.30" width="5.10" height="2.05" fill="#8cd4ea" />
<rect x="45.70" y="156.30" width="5.10" height="2.05" fill="#f6ece9" />
<rect x="45.70" y="158.30" width="5.10" height="2.05" fill="#90d6ea" />
<rect x="45.70" y="160.30" width="5.10" height="2.05" fill="#d0ebf3" />
<rect x="45.70" y="162.30" width="5.10" height="2.05" fill="#a5dded" />
<rect x="45.70" y="164.30" width="5.10" height="2.05" fill="#25b2da" />
<rect x="45.70" y="166.30" width="5.10" height="2.05" fill="#0da5d2" />
<rect x="45.70" y="168.30" width="5.10" height="2.05" fill="#60c6e3" />
<rect x="45.70" y="170.30" width="5.10" height="2.05" fill="#a2dced" />
<rect x="45.70" y="172.30" width="5.10" height="2.05" fill="#b7e4f0" />
<rect x="45.70" y="174.30" width="5.10" height="2.05" fill="#f8e4dc" />
<rect x="45.70" y="176.30" width="5.10" height="2.05" fill="#a6deee" />
<rect x="45.70" y="178.30" width="5.10" height="2.05" fill="#daeef3" />
<rect x="45.70" y="180.30" width="5.10" height="2.05" fill="#c0e7f2" />
<rect x="45.70" y="182.30" width="5.10" height="2.05" fill="#c9eaf2" />
<rect x="45.70" y="184.30" width="5.10" height="2.05" fill="#b1e2ef" />
<rect x="45.70" y="186.30" width="5.10" height="2.05" fill="#8bd4e9" />
<rect x="45.70" y="188.30" width="5.10" height="2.05" fill="#b1e2ef" />
<rect x="45.70" y="190.30" width="5.10" height="2.05" fill="#49bfe0" />
<rect x="45.70" y="192.30" width="5.10" height="2.05" fill="#27b3da" />
<rect x="45.70" y="194.30" width="5.10" height="2.05" fill="#099fcd" />
<rect x="45.70" y="196.30" width="5.10" height="2.05" fill="#15acd7" />
<rect x="45.70" y="198.30" width="5.10" height="2.05" fill="#64c7e4" />
<rect x="45.70" y="200.30" width="5.10" height="2.05" fill="#0aa0ce" />
<rect x="45.70" y="202.30" width="5.10" height="2.05" fill="#0da5d2" />
<rect x="45.70" y="204.30" width="5.10" height="2.05" fill="#33b7dd" />
<rect x="45.70" y="206.30" width="5.10" height="2.05" fill="#0da5d2" />
<rect x="45.70" y="208.30" width="5.10" height="2.05" fill="#0294c3" />
<rect x="45.70" y="210.30" width="5.10" height="2.05" fill="#10aad6" />
<rect x="45.70" y="212.30" width="5.10" height="2.05" fill="#1dafd8" />
<rect x="45.70" y="214.30" width="5.10" height="2.05" fill="#22b1d9" />
<rect x="45.70" y="216.30" width="5.10" height="2.05" fill="#0395c4" />
<rect x="45.70" y="218.30" width="5.10" height="2.05" fill="#4fc1e1" />
<rect x="45.70" y="220.30" width="5.10" height="2.05" fill="#4abfe0" />
<rect x="45.70" y="222.30" width="5.10" height="2.05" fill="#0da5d2" />
<rect x="45.70" y="224.30" width="5.10" height="2.05" fill="#11aad6" />
<rect x="45.70" y="226.30" width="5.10" height="2.05" fill="#079cca" />
<rect x="45.70" y="228.30" width="5.10" height="2.05" fill="#3dbbde" />
<rect x="45.70" y="230.30" width="5.10" height="2.05" fill="#0496c5" />
<rect x="45.70" y="232.30" width="5.10" height="2.05" fill="#20b0d9" />
<rect x="45.70" y="234.30" width="5.10" height="2.05" fill="#079bc9" />
<rect x="45.70" y="236.30" width="5.10" height="2.05" fill="#0496c5" />
<rect x="45.70" y="238.30" width="5.10" height="2.05" fill="#22b1d9" />
<rect x="45.70" y="240.30" width="5.10" height="2.05" fill="#3abade" />
<rect x="45.70" y="242.30" width="5.10" height="2.05" fill="#0da5d1" />
<rect x="45.70" y="244.30" width="5.10" height="2.05" fill="#0497c6" />
<rect x="45.70" y="246.30" width="5.10" height="2.05" fill="#26b2da" />
<rect x="45.70" y="248.30" width="5.10" height="2.05" fill="#0ca4d1" />
<rect x="45.70" y="250.30" width="5.10" height="2.05" fill="#12abd6" />
<rect x="45.70" y="252.30" width="5.10" height="0.75" fill="#41bcdf" />
<rect x="50.75" y="28.30" width="5.10" height="2.05" fill="#91d6ea" />
<rect x="50.75" y="30.30" width="5.10" height="2.05" fill="#18add8" />
<rect x="50.75" y="32.30" width="5.10" height="2.05" fill="#ddeef3" />
<rect x="50.75" y="34.30" width="5.10" height="2.05" fill="#37b8dd" />
<rect x="50.75" y="36.30" width="5.10" height="2.05" fill="#76cde6" />
<rect x="50.75" y="38.30" width="5.10" height="2.05" fill="#11aad6" />
<rect x="50.75" y="40.30" width="5.10" height="2.05" fill="#34b7dd" />
<rect x="50.75" y="42.30" width="5.10" height="2.05" fill="#0085b6" />
<rect x="50.75" y="44.30" width="5.10" height="2.05" fill="#bfe7f1" />
<rect x="50.75" y="46.30" width="5.10" height="2.05" fill="#a1dced" />
<rect x="50.75" y="48.30" width="5.10" height="2.05" fill="#0599c8" />
<rect x="50.75" y="50.30" width="5.10" height="2.05" fill="#0090c0" />
<rect x="50.75" y="52.30" width="5.10" height="2.05" fill="#008abb" />
<rect x="50.75" y="54.30" width="5.10" height="2.05" fill="#94d7eb" />
<rect x="50.75" y="56.30" width="5.10" height="2.05" fill="#1caed8" />
<rect x="50.75" y="58.30" width="5.10" height="2.05" fill="#33b7dd" />
<rect x="50.75" y="60.30" width="5.10" height="2.05" fill="#24b2da" />
<rect x="50.75" y="62.30" width="5.10" height="2.05" fill="#2fb6dc" />
<rect x="50.75" y="64.30" width="5.10" height="2.05" fill="#90d6ea" />
<rect x="50.75" y="66.30" width="5.10" height="2.05" fill="#c3e8f2" />
<rect x="50.75" y="68.30" width="5.10" height="2.05" fill="#7dd0e7" />
<rect x="50.75" y="70.30" width="5.10" height="2.05" fill="#bfe7f1" />
<rect x="50.75" y="72.30" width="5.10" height="2.05" fill="#3cbade" />
<rect x="50.75" y="74.30" width="5.10" height="2.05" fill="#45bee0" />
<rect x="50.75" y="76.30" width="5.10" height="2.05" fill="#22b1d9" />
<rect x="50.75" y="78.30" width="5.10" height="2.05" fill="#0ba2cf" />
<rect x="50.75" y="80.30" width="5.10" height="2.05" fill="#34b8dd" />
<rect x="50.75" y="82.30" width="5.10" height="2.05" fill="#16acd7" />
<rect x="50.75" y="84.30" width="5.10" height="2.05" fill="#d3ecf3" />
<rect x="50.75" y="86.30" width="5.10" height="2.05" fill="#bae5f1" />
<rect x="50.75" y="88.30" width="5.10" height="2.05" fill="#9bdaec" />
<rect x="50.75" y="90.30" width="5.10" height="2.05" fill="#8fd5ea" />
<rect x="50.75" y="92.30" width="5.10" height="2.05" fill="#86d3e9" />
<rect x="50.75" y="94.30" width="5.10" height="2.05" fill="#7ccfe7" />
<rect x="50.75" y="96.30" width="5.10" height="2.05" fill="#93d7eb" />
<rect x="50.75" y="98.30" width="5.10" height="2.05" fill="#a9dfee" />
<rect x="50.75" y="100.30" width="5.10" height="2.05" fill="#fbd6c8" />
<rect x="50.75" y="102.30" width="5.10" height="2.05" fill="#fbd5c7" />
<rect x="50.75" y="104.30" width="5.10" height="2.05" fill="#f5f2f1" />
<rect x="50.75" y="106.30" width="5.10" height="2.05" fill="#7ccfe7" />
<rect x="50.75" y="108.30" width="5.10" height="2.05" fill="#a0dced" />
<rect x="50.75" y="110.30" width="5.10" height="2.05" fill="#f8e1d8" />
<rect x="50.75" y="112.30" width="5.10" height="2.05" fill="#3cbade" />
<rect x="50.75" y="114.30" width="5.10" height="2.05" fill="#87d3e9" />
<rect x="50.75" y="116.30" width="5.10" height="2.05" fill="#a7deee" />
<rect x="50.75" y="118.30" width="5.10" height="2.05" fill="#a6deee" />
<rect x="50.75" y="120.30" width="5.10" height="2.05" fill="#b2e2f0" />
<rect x="50.75" y="122.30" width="5.10" height="2.05" fill="#94d7eb" />
<rect x="50.75" y="124.30" width="5.10" height="2.05" fill="#b0e2ef" />
<rect x="50.75" y="126.30" width="5.10" height="2.05" fill="#a2dced" />
<rect x="50.75" y="128.30" width="5.10" height="2.05" fill="#c3e8f2" />
<rect x="50.75" y="130.30" width="5.10" height="2.05" fill="#3bbade" />
<rect x="50.75" y="132.30" width="5.10" height="2.05" fill="#eff3f4" />
<rect x="50.75" y="134.30" width="5.10" height="2.05" fill="#f8e2da" />
<rect x="50.75" y="136.30" width="5.10" height="2.05" fill="#e9f1f4" />
<rect x="50.75" y="138.30" width="5.10" height="2.05" fill="#e8f1f4" />
<rect x="50.75" y="140.30" width="5.10" height="2.05" fill="#fad2c3" />
<rect x="50.75" y="142.30" width="5.10" height="2.05" fill="#f5f2f0" />
<rect x="50.75" y="144.30" width="5.10" height="2.05" fill="#fad2c3" />
<rect x="50.75" y="146.30" width="5.10" height="2.05" fill="#facfbf" />
<rect x="50.75" y="148.30" width="5.10" height="2.05" fill="#fadbcf" />
<rect x="50.75" y="150.30" width="5.10" height="2.05" fill="#fbd6c8" />
<rect x="50.75" y="152.30" width="5.10" height="2.05" fill="#f8e5dd" />
<rect x="50.75" y="154.30" width="5.10" height="2.05" fill="#daeef3" />
<rect x="50.75" y="156.30" width="5.10" height="2.05" fill="#f8e3db" />
<rect x="50.75" y="158.30" width="5.10" height="2.05" fill="#fbd7ca" />
<rect x="50.75" y="160.30" width="5.10" height="2.05" fill="#f5efec" />
<rect x="50.75" y="162.30" width="5.10" height="2.05" fill="#f8e4dd" />
<rect x="50.75" y="164.30" width="5.10" height="2.05" fill="#facebf" />
<rect x="50.75" y="166.30" width="5.10" height="2.05" fill="#eff3f4" />
<rect x="50.75" y="168.30" width="5.10" height="2.05" fill="#fad2c3" />
<rect x="50.75" y="170.30" width="5.10" height="2.05" fill="#ec705f" />
<rect x="50.75" y="172.30" width="5.10" height="2.05" fill="#f7b5a1" />
<rect x="50.75" y="174.30" width="5.10" height="2.05" fill="#f4a28d" />
<rect x="50.75" y="176.30" width="5.10" height="2.05" fill="#f5ab96" />
<rect x="50.75" y="178.30" width="5.10" height="2.05" fill="#d82436" />
<rect x="50.75" y="180.30" width="5.10" height="2.05" fill="#e23b40" />
<rect x="50.75" y="182.30" width="5.10" height="2.05" fill="#df2f3c" />
<rect x="50.75" y="184.30" width="5.10" height="2.05" fill="#e65147" />
<rect x="50.75" y="186.30" width="5.10" height="2.05" fill="#e34242" />
<rect x="50.75" y="188.30" width="5.10" height="2.05" fill="#e34242" />
<rect x="50.75" y="190.30" width="5.10" height="2.05" fill="#f7b4a0" />
<rect x="50.75" y="192.30" width="5.10" height="2.05" fill="#ed7764" />
<rect x="50.75" y="194.30" width="5.10" height="2.05" fill="#db2838" />
<rect x="50.75" y="196.30" width="5.10" height="2.05" fill="#e54c45" />
<rect x="50.75" y="198.30" width="5.10" height="2.05" fill="#eb6a5a" />
<rect x="50.75" y="200.30" width="5.10" height="2.05" fill="#f0836e" />
<rect x="50.75" y="202.30" width="5.10" height="2.05" fill="#ed7260" />
<rect x="50.75" y="204.30" width="5.10" height="2.05" fill="#ed7562" />
<rect x="50.75" y="206.30" width="5.10" height="2.05" fill="#dbeef3" />
<rect x="50.75" y="208.30" width="5.10" height="2.05" fill="#f6ece8" />
<rect x="50.75" y="210.30" width="5.10" height="2.05" fill="#e95e51" />
<rect x="50.75" y="212.30" width="5.10" height="2.05" fill="#f39a85" />
<rect x="50.75" y="214.30" width="5.10" height="2.05" fill="#f5a792" />
<rect x="50.75" y="216.30" width="5.10" height="2.05" fill="#f6b19c" />
<rect x="50.75" y="218.30" width="5.10" height="2.05" fill="#e75449" />
<rect x="50.75" y="220.30" width="5.10" height="2.05" fill="#e23d40" />
<rect x="50.75" y="222.30" width="5.10" height="2.05" fill="#f29580" />
<rect x="50.75" y="224.30" width="5.10" height="2.05" fill="#f8c1b0" />
<rect x="50.75" y="226.30" width="5.10" height="2.05" fill="#f9c7b6" />
<rect x="50.75" y="228.30" width="5.10" height="2.05" fill="#ef806b" />
<rect x="50.75" y="230.30" width="5.10" height="2.05" fill="#f9dcd1" />
<rect x="50.75" y="232.30" width="5.10" height="2.05" fill="#f9e0d7" />
<rect x="50.75" y="234.30" width="5.10" height="2.05" fill="#f8beac" />
<rect x="50.75" y="236.30" width="5.10" height="2.05" fill="#f8beab" />
<rect x="50.75" y="238.30" width="5.10" height="2.05" fill="#f7e8e3" />
<rect x="50.75" y="240.30" width="5.10" height="2.05" fill="#f6ece8" />
<rect x="50.75" y="242.30" width="5.10" height="2.05" fill="#ee7a66" />
<rect x="50.75" y="244.30" width="5.10" height="2.05" fill="#ee7a66" />
<rect x="50.75" y="246.30" width="5.10" height="2.05" fill="#f7e8e2" />
<rect x="50.75" y="248.30" width="5.10" height="2.05" fill="#fbd3c4" />
<rect x="50.75" y="250.30" width="5.10" height="2.05" fill="#fadace" />
<rect x="50.75" y="252.30" width="5.10" height="0.75" fill="#f9c4b3" />
<rect x="55.80" y="28.30" width="5.10" height="2.05" fill="#008dbd" />
<rect x="55.80" y="30.30" width="5.10" height="2.05" fill="#008ebe" />
<rect x="55.80" y="32.30" width="5.10" height="2.05" fill="#0087b8" />
<rect x="55.80" y="34.30" width="5.10" height="2.05" fill="#0ca3d0" />
<rect x="55.80" y="36.30" width="5.10" height="2.05" fill="#10a9d5" />
<rect x="55.80" y="38.30" width="5.10" height="2.05" fill="#0086b8" />
<rect x="55.80" y="40.30" width="5.10" height="2.05" fill="#099fcd" />
<rect x="55.80" y="42.30" width="5.10" height="2.05" fill="#007caf" />
<rect x="55.80" y="44.30" width="5.10" height="2.05" fill="#0191c1" />
<rect x="55.80" y="46.30" width="5.10" height="2.05" fill="#089ecc" />
<rect x="55.80" y="48.30" width="5.10" height="2.05" fill="#13abd7" />
<rect x="55.80" y="50.30" width="5.10" height="2.05" fill="#0086b7" />
<rect x="55.80" y="52.30" width="5.10" height="2.05" fill="#008ebe" />
<rect x="55.80" y="54.30" width="5.10" height="2.05" fill="#0294c3" />
<rect x="55.80" y="56.30" width="5.10" height="2.05" fill="#006aa0" />
<rect x="55.80" y="58.30" width="5.10" height="2.05" fill="#0090c0" />
<rect x="55.80" y="60.30" width="5.10" height="2.05" fill="#007eb1" />
<rect x="55.80" y="62.30" width="5.10" height="2.05" fill="#0497c6" />
<rect x="55.80" y="64.30" width="5.10" height="2.05" fill="#0072a7" />
<rect x="55.80" y="66.30" width="5.10" height="2.05" fill="#006aa0" />
<rect x="55.80" y="68.30" width="5.10" height="2.05" fill="#0091c1" />
<rect x="55.80" y="70.30" width="5.10" height="2.05" fill="#0395c4" />
<rect x="55.80" y="72.30" width="5.10" height="2.05" fill="#0081b4" />
<rect x="55.80" y="74.30" width="5.10" height="2.05" fill="#0aa0ce" />
<rect x="55.80" y="76.30" width="5.10" height="2.05" fill="#0089ba" />
<rect x="55.80" y="78.30" width="5.10" height="2.05" fill="#0080b2" />
<rect x="55.80" y="80.30" width="5.10" height="2.05" fill="#0599c7" />
<rect x="55.80" y="82.30" width="5.10" height="2.05" fill="#006aa0" />
<rect x="55.80" y="84.30" width="5.10" height="2.05" fill="#10aad6" />
<rect x="55.80" y="86.30" width="5.10" height="2.05" fill="#23b1d9" />
<rect x="55.80" y="88.30" width="5.10" height="2.05" fill="#3cbade" />
<rect x="55.80" y="90.30" width="5.10" height="2.05" fill="#1fafd9" />
<rect x="55.80" y="92.30" width="5.10" height="2.05" fill="#2cb5db" />
<rect x="55.80" y="94.30" width="5.10" height="2.05" fill="#10aad6" />
<rect x="55.80" y="96.30" width="5.10" height="2.05" fill="#87d3e9" />
<rect x="55.80" y="98.30" width="5.10" height="2.05" fill="#b6e4f0" />
<rect x="55.80" y="100.30" width="5.10" height="2.05" fill="#5cc5e3" />
<rect x="55.80" y="102.30" width="5.10" height="2.05" fill="#cdebf2" />
<rect x="55.80" y="104.30" width="5.10" height="2.05" fill="#27b3da" />
<rect x="55.80" y="106.30" width="5.10" height="2.05" fill="#41bcdf" />
<rect x="55.80" y="108.30" width="5.10" height="2.05" fill="#4abfe0" />
<rect x="55.80" y="110.30" width="5.10" height="2.05" fill="#7bcfe7" />
<rect x="55.80" y="112.30" width="5.10" height="2.05" fill="#10aad6" />
<rect x="55.80" y="114.30" width="5.10" height="2.05" fill="#0598c7" />
<rect x="55.80" y="116.30" width="5.10" height="2.05" fill="#63c7e4" />
<rect x="55.80" y="118.30" width="5.10" height="2.05" fill="#6ecbe5" />
<rect x="55.80" y="120.30" width="5.10" height="2.05" fill="#64c7e4" />
<rect x="55.80" y="122.30" width="5.10" height="2.05" fill="#c7e9f2" />
<rect x="55.80" y="124.30" width="5.10" height="2.05" fill="#4cc0e1" />
<rect x="55.80" y="126.30" width="5.10" height="2.05" fill="#4fc1e1" />
<rect x="55.80" y="128.30" width="5.10" height="2.05" fill="#76cde6" />
<rect x="55.80" y="130.30" width="5.10" height="2.05" fill="#0fa9d5" />
<rect x="55.80" y="132.30" width="5.10" height="2.05" fill="#26b2da" />
<rect x="55.80" y="134.30" width="5.10" height="2.05" fill="#e23e40" />
<rect x="55.80" y="136.30" width="5.10" height="2.05" fill="#e0323d" />
<rect x="55.80" y="138.30" width="5.10" height="2.05" fill="#e96254" />
<rect x="55.80" y="140.30" width="5.10" height="2.05" fill="#d82436" />
<rect x="55.80" y="142.30" width="5.10" height="2.05" fill="#e0323d" />
<rect x="55.80" y="144.30" width="5.10" height="2.05" fill="#d62235" />
<rect x="55.80" y="146.30" width="5.10" height="2.05" fill="#cb142d" />
<rect x="55.80" y="148.30" width="5.10" height="2.05" fill="#df2d3b" />
<rect x="55.80" y="150.30" width="5.10" height="2.05" fill="#e0313c" />
<rect x="55.80" y="152.30" width="5.10" height="2.05" fill="#e0343d" />
<rect x="55.80" y="154.30" width="5.10" height="2.05" fill="#f4a18c" />
<rect x="55.80" y="156.30" width="5.10" height="2.05" fill="#f39b86" />
<rect x="55.80" y="158.30" width="5.10" height="2.05" fill="#ed7663" />
<rect x="55.80" y="160.30" width="5.10" height="2.05" fill="#f08873" />
<rect x="55.80" y="162.30" width="5.10" height="2.05" fill="#f08772" />
<rect x="55.80" y="164.30" width="5.10" height="2.05" fill="#f18e79" />
<rect x="55.80" y="166.30" width="5.10" height="2.05" fill="#ec6f5d" />
<rect x="55.80" y="168.30" width="5.10" height="2.05" fill="#ee7a67" />
<rect x="55.80" y="170.30" width="5.10" height="2.05" fill="#df2f3c" />
<rect x="55.80" y="172.30" width="5.10" height="2.05" fill="#d92537" />
<rect x="55.80" y="174.30" width="5.10" height="2.05" fill="#df2f3c" />
<rect x="55.80" y="176.30" width="5.10" height="2.05" fill="#e23d40" />
<rect x="55.80" y="178.30" width="5.10" height="2.05" fill="#d21c32" />
<rect x="55.80" y="180.30" width="5.10" height="2.05" fill="#db2838" />
<rect x="55.80" y="182.30" width="5.10" height="2.05" fill="#e23a3f" />
<rect x="55.80" y="184.30" width="5.10" height="2.05" fill="#d52034" />
<rect x="55.80" y="186.30" width="5.10" height="2.05" fill="#dc2939" />
<rect x="55.80" y="188.30" width="5.10" height="2.05" fill="#edf2f4" />
<rect x="55.80" y="190.30" width="5.10" height="2.05" fill="#f7b9a6" />
<rect x="55.80" y="192.30" width="5.10" height="2.05" fill="#fbd6c8" />
<rect x="55.80" y="194.30" width="5.10" height="2.05" fill="#f9c9b9" />
<rect x="55.80" y="196.30" width="5.10" height="2.05" fill="#fad8cc" />
<rect x="55.80" y="198.30" width="5.10" height="2.05" fill="#fad9cc" />
<rect x="55.80" y="200.30" width="5.10" height="2.05" fill="#f4f2f1" />
<rect x="55.80" y="202.30" width="5.10" height="2.05" fill="#e85a4e" />
<rect x="55.80" y="204.30" width="5.10" height="2.05" fill="#ed7562" />
<rect x="55.80" y="206.30" width="5.10" height="2.05" fill="#ef7e69" />
<rect x="55.80" y="208.30" width="5.10" height="2.05" fill="#e1363e" />
<rect x="55.80" y="210.30" width="5.10" height="2.05" fill="#e23a3f" />
<rect x="55.80" y="212.30" width="5.10" height="2.05" fill="#e0323c" />
<rect x="55.80" y="214.30" width="5.10" height="2.05" fill="#fadbd0" />
<rect x="55.80" y="216.30" width="5.10" height="2.05" fill="#fad0c1" />
<rect x="55.80" y="218.30" width="5.10" height="2.05" fill="#c5e9f2" />
<rect x="55.80" y="220.30" width="5.10" height="2.05" fill="#f9ddd2" />
<rect x="55.80" y="222.30" width="5.10" height="2.05" fill="#f7b5a1" />
<rect x="55.80" y="224.30" width="5.10" height="2.05" fill="#f29681" />
<rect x="55.80" y="226.30" width="5.10" height="2.05" fill="#fadbcf" />
<rect x="55.80" y="228.30" width="5.10" height="2.05" fill="#fbd3c4" />
<rect x="55.80" y="230.30" width="5.10" height="2.05" fill="#f18a75" />
<rect x="55.80" y="232.30" width="5.10" height="2.05" fill="#fadace" />
<rect x="55.80" y="234.30" width="5.10" height="2.05" fill="#f6b39e" />
<rect x="55.80" y="236.30" width="5.10" height="2.05" fill="#f08570" />
<rect x="55.80" y="238.30" width="5.10" height="2.05" fill="#facdbd" />
<rect x="55.80" y="240.30" width="5.10" height="2.05" fill="#f39b86" />
<rect x="55.80" y="242.30" width="5.10" height="2.05" fill="#f7e5de" />
<rect x="55.80" y="244.30" width="5.10" height="2.05" fill="#f9c7b6" />
<rect x="55.80" y="246.30" width="5.10" height="2.05" fill="#fad1c2" />
<rect x="55.80" y="248.30" width="5.10" height="2.05" fill="#f9caba" />
<rect x="55.80" y="250.30" width="5.10" height="2.05" fill="#f4a08b" />
<rect x="55.80" y="252.30" width="5.10" height="0.75" fill="#ea6355" />
<rect x="60.85" y="28.30" width="5.10" height="2.05" fill="#bae5f1" />
<rect x="60.85" y="30.30" width="5.10" height="2.05" fill="#bfe7f1" />
<rect x="60.85" y="32.30" width="5.10" height="2.05" fill="#eaf2f4" />
<rect x="60.85" y="34.30" width="5.10" height="2.05" fill="#a8dfee" />
<rect x="60.85" y="36.30" width="5.10" height="2.05" fill="#eaf2f4" />
<rect x="60.85" y="38.30" width="5.10" height="2.05" fill="#edf2f4" />
<rect x="60.85" y="40.30" width="5.10" height="2.05" fill="#cbeaf2" />
<rect x="60.85" y="42.30" width="5.10" height="2.05" fill="#ebf2f4" />
<rect x="60.85" y="44.30" width="5.10" height="2.05" fill="#91d6ea" />
<rect x="60.85" y="46.30" width="5.10" height="2.05" fill="#f4f4f4" />
<rect x="60.85" y="48.30" width="5.10" height="2.05" fill="#92d6ea" />
<rect x="60.85" y="50.30" width="5.10" height="2.05" fill="#b9e5f1" />
<rect x="60.85" y="52.30" width="5.10" height="2.05" fill="#bfe7f2" />
<rect x="60.85" y="54.30" width="5.10" height="2.05" fill="#c6e9f2" />
<rect x="60.85" y="56.30" width="5.10" height="2.05" fill="#f5f1f0" />
<rect x="60.85" y="58.30" width="5.10" height="2.05" fill="#d9eef3" />
<rect x="60.85" y="60.30" width="5.10" height="2.05" fill="#c6e9f2" />
<rect x="60.85" y="62.30" width="5.10" height="2.05" fill="#ecf2f4" />
<rect x="60.85" y="64.30" width="5.10" height="2.05" fill="#f9e0d7" />
<rect x="60.85" y="66.30" width="5.10" height="2.05" fill="#d6edf3" />
<rect x="60.85" y="68.30" width="5.10" height="2.05" fill="#e5f0f3" />
<rect x="60.85" y="70.30" width="5.10" height="2.05" fill="#f7e8e3" />
<rect x="60.85" y="72.30" width="5.10" height="2.05" fill="#e1eff3" />
<rect x="60.85" y="74.30" width="5.10" height="2.05" fill="#9edbec" />
<rect x="60.85" y="76.30" width="5.10" height="2.05" fill="#f9c7b6" />
<rect x="60.85" y="78.30" width="5.10" height="2.05" fill="#fad0c0" />
<rect x="60.85" y="80.30" width="5.10" height="2.05" fill="#7acfe7" />
<rect x="60.85" y="82.30" width="5.10" height="2.05" fill="#d4ecf3" />
<rect x="60.85" y="84.30" width="5.10" height="2.05" fill="#e7f1f3" />
<rect x="60.85" y="86.30" width="5.10" height="2.05" fill="#f5efec" />
<rect x="60.85" y="88.30" width="5.10" height="2.05" fill="#f1f3f4" />
<rect x="60.85" y="90.30" width="5.10" height="2.05" fill="#cbeaf2" />
<rect x="60.85" y="92.30" width="5.10" height="2.05" fill="#a8dfee" />
<rect x="60.85" y="94.30" width="5.10" height="2.05" fill="#daeef3" />
<rect x="60.85" y="96.30" width="5.10" height="2.05" fill="#f6edea" />
<rect x="60.85" y="98.30" width="5.10" height="2.05" fill="#17add7" />
<rect x="60.85" y="100.30" width="5.10" height="2.05" fill="#19add8" />
<rect x="60.85" y="102.30" width="5.10" height="2.05" fill="#36b8dd" />
<rect x="60.85" y="104.30" width="5.10" height="2.05" fill="#60c6e4" />
<rect x="60.85" y="106.30" width="5.10" height="2.05" fill="#b6e4f0" />
<rect x="60.85" y="108.30" width="5.10" height="2.05" fill="#aee1ef" />
<rect x="60.85" y="110.30" width="5.10" height="2.05" fill="#d4ecf3" />
<rect x="60.85" y="112.30" width="5.10" height="2.05" fill="#a1dced" />
<rect x="60.85" y="114.30" width="5.10" height="2.05" fill="#99d9ec" />
<rect x="60.85" y="116.30" width="5.10" height="2.05" fill="#b0e1ef" />
<rect x="60.85" y="118.30" width="5.10" height="2.05" fill="#c0e7f2" />
<rect x="60.85" y="120.30" width="5.10" height="2.05" fill="#a3dded" />
<rect x="60.85" y="122.30" width="5.10" height="2.05" fill="#c2e8f2" />
<rect x="60.85" y="124.30" width="5.10" height="2.05" fill="#e0eff3" />
<rect x="60.85" y="126.30" width="5.10" height="2.05" fill="#f1f3f4" />
<rect x="60.85" y="128.30" width="5.10" height="2.05" fill="#f7e9e4" />
<rect x="60.85" y="130.30" width="5.10" height="2.05" fill="#49bfe0" />
<rect x="60.85" y="132.30" width="5.10" height="2.05" fill="#59c4e2" />
<rect x="60.85" y="134.30" width="5.10" height="2.05" fill="#f8e5de" />
<rect x="60.85" y="136.30" width="5.10" height="2.05" fill="#ee7865" />
<rect x="60.85" y="138.30" width="5.10" height="2.05" fill="#f8c1af" />
<rect x="60.85" y="140.30" width="5.10" height="2.05" fill="#f6b19c" />
<rect x="60.85" y="142.30" width="5.10" height="2.05" fill="#f4a18c" />
<rect x="60.85" y="144.30" width="5.10" height="2.05" fill="#facfc0" />
<rect x="60.85" y="146.30" width="5.10" height="2.05" fill="#f4a28d" />
<rect x="60.85" y="148.30" width="5.10" height="2.05" fill="#f7e9e3" />
<rect x="60.85" y="150.30" width="5.10" height="2.05" fill="#bee7f1" />
<rect x="60.85" y="152.30" width="5.10" height="2.05" fill="#f8e1d8" />
<rect x="60.85" y="154.30" width="5.10" height="2.05" fill="#f9c8b8" />
<rect x="60.85" y="156.30" width="5.10" height="2.05" fill="#bde6f1" />
<rect x="60.85" y="158.30" width="5.10" height="2.05" fill="#fbd4c6" />
<rect x="60.85" y="160.30" width="5.10" height="2.05" fill="#f8e3db" />
<rect x="60.85" y="162.30" width="5.10" height="2.05" fill="#f9ddd2" />
<rect x="60.85" y="164.30" width="5.10" height="2.05" fill="#f9ddd3" />
<rect x="60.85" y="166.30" width="5.10" height="2.05" fill="#f9c5b4" />
<rect x="60.85" y="168.30" width="5.10" height="2.05" fill="#f6edea" />
<rect x="60.85" y="170.30" width="5.10" height="2.05" fill="#fbd2c4" />
<rect x="60.85" y="172.30" width="5.10" height="2.05" fill="#f5f2f1" />
<rect x="60.85" y="174.30" width="5.10" height="2.05" fill="#fbd7c9" />
<rect x="60.85" y="176.30" width="5.10" height="2.05" fill="#e7f1f3" />
<rect x="60.85" y="178.30" width="5.10" height="2.05" fill="#f6ebe6" />
<rect x="60.85" y="180.30" width="5.10" height="2.05" fill="#f7b8a5" />
<rect x="60.85" y="182.30" width="5.10" height="2.05" fill="#f9ddd3" />
<rect x="60.85" y="184.30" width="5.10" height="2.05" fill="#f6ece8" />
<rect x="60.85" y="186.30" width="5.10" height="2.05" fill="#daeef3" />
<rect x="60.85" y="188.30" width="5.10" height="2.05" fill="#e8f1f4" />
<rect x="60.85" y="190.30" width="5.10" height="2.05" fill="#f8e3dc" />
<rect x="60.85" y="192.30" width="5.10" height="2.05" fill="#fad0c1" />
<rect x="60.85" y="194.30" width="5.10" height="2.05" fill="#f9ded3" />
<rect x="60.85" y="196.30" width="5.10" height="2.05" fill="#fadbd0" />
<rect x="60.85" y="198.30" width="5.10" height="2.05" fill="#f39e89" />
<rect x="60.85" y="200.30" width="5.10" height="2.05" fill="#eb6859" />
<rect x="60.85" y="202.30" width="5.10" height="2.05" fill="#f5ac97" />
<rect x="60.85" y="204.30" width="5.10" height="2.05" fill="#f6b29d" />
<rect x="60.85" y="206.30" width="5.10" height="2.05" fill="#ee7a66" />
<rect x="60.85" y="208.30" width="5.10" height="2.05" fill="#f39a85" />
<rect x="60.85" y="210.30" width="5.10" height="2.05" fill="#f5a792" />
<rect x="60.85" y="212.30" width="5.10" height="2.05" fill="#f5f0ee" />
<rect x="60.85" y="214.30" width="5.10" height="2.05" fill="#f7e8e3" />
<rect x="60.85" y="216.30" width="5.10" height="2.05" fill="#fbd2c4" />
<rect x="60.85" y="218.30" width="5.10" height="2.05" fill="#fadacd" />
<rect x="60.85" y="220.30" width="5.10" height="2.05" fill="#e2f0f3" />
<rect x="60.85" y="222.30" width="5.10" height="2.05" fill="#e1363e" />
<rect x="60.85" y="224.30" width="5.10" height="2.05" fill="#e23d40" />
<rect x="60.85" y="226.30" width="5.10" height="2.05" fill="#ea6354" />
<rect x="60.85" y="228.30" width="5.10" height="2.05" fill="#df2c3b" />
<rect x="60.85" y="230.30" width="5.10" height="2.05" fill="#e54a44" />
<rect x="60.85" y="232.30" width="5.10" height="2.05" fill="#e54b45" />
<rect x="60.85" y="234.30" width="5.10" height="2.05" fill="#de2c3a" />
<rect x="60.85" y="236.30" width="5.10" height="2.05" fill="#d42034" />
<rect x="60.85" y="238.30" width="5.10" height="2.05" fill="#e7574b" />
<rect x="60.85" y="240.30" width="5.10" height="2.05" fill="#e1363e" />
<rect x="60.85" y="242.30" width="5.10" height="2.05" fill="#e95e51" />
<rect x="60.85" y="244.30" width="5.10" height="2.05" fill="#c8102b" />
<rect x="60.85" y="246.30" width="5.10" height="2.05" fill="#e65046" />
<rect x="60.85" y="248.30" width="5.10" height="2.05" fill="#d72335" />
<rect x="60.85" y="250.30" width="5.10" height="2.05" fill="#e7564a" />
<rect x="60.85" y="252.30" width="5.10" height="0.75" fill="#de2c3a" />
<rect x="65.90" y="28.30" width="5.10" height="2.05" fill="#95d8eb" />
<rect x="65.90" y="30.30" width="5.10" height="2.05" fill="#006aa0" />
<rect x="65.90" y="32.30" width="5.10" height="2.05" fill="#099fcc" />
<rect x="65.90" y="34.30" width="5.10" height="2.05" fill="#28b3db" />
<rect x="65.90" y="36.30" width="5.10" height="2.05" fill="#0fa8d4" />
<rect x="65.90" y="38.30" width="5.10" height="2.05" fill="#0599c7" />
<rect x="65.90" y="40.30" width="5.10" height="2.05" fill="#91d6ea" />
<rect x="65.90" y="42.30" width="5.10" height="2.05" fill="#14abd7" />
<rect x="65.90" y="44.30" width="5.10" height="2.05" fill="#0078ab" />
<rect x="65.90" y="46.30" width="5.10" height="2.05" fill="#39b9de" />
<rect x="65.90" y="48.30" width="5.10" height="2.05" fill="#0075a9" />
<rect x="65.90" y="50.30" width="5.10" height="2.05" fill="#4bbfe1" />
<rect x="65.90" y="52.30" width="5.10" height="2.05" fill="#079bc9" />
<rect x="65.90" y="54.30" width="5.10" height="2.05" fill="#17add7" />
<rect x="65.90" y="56.30" width="5.10" height="2.05" fill="#53c2e2" />
<rect x="65.90" y="58.30" width="5.10" height="2.05" fill="#16acd7" />
<rect x="65.90" y="60.30" width="5.10" height="2.05" fill="#0081b3" />
<rect x="65.90" y="62.30" width="5.10" height="2.05" fill="#0076aa" />
<rect x="65.90" y="64.30" width="5.10" height="2.05" fill="#4dc0e1" />
<rect x="65.90" y="66.30" width="5.10" height="2.05" fill="#34b7dd" />
<rect x="65.90" y="68.30" width="5.10" height="2.05" fill="#0395c4" />
<rect x="65.90" y="70.30" width="5.10" height="2.05" fill="#39b9de" />
<rect x="65.90" y="72.30" width="5.10" height="2.05" fill="#28b3da" />
<rect x="65.90" y="74.30" width="5.10" height="2.05" fill="#2fb6dc" />
<rect x="65.90" y="76.30" width="5.10" height="2.05" fill="#006aa0" />
<rect x="65.90" y="78.30" width="5.10" height="2.05" fill="#0ba2cf" />
<rect x="65.90" y="80.30" width="5.10" height="2.05" fill="#3bbade" />
<rect x="65.90" y="82.30" width="5.10" height="2.05" fill="#33b7dd" />
<rect x="65.90" y="84.30" width="5.10" height="2.05" fill="#17add7" />
<rect x="65.90" y="86.30" width="5.10" height="2.05" fill="#66c8e4" />
<rect x="65.90" y="88.30" width="5.10" height="2.05" fill="#c7e9f2" />
<rect x="65.90" y="90.30" width="5.10" height="2.05" fill="#d1ecf3" />
<rect x="65.90" y="92.30" width="5.10" height="2.05" fill="#f8e4dd" />
<rect x="65.90" y="94.30" width="5.10" height="2.05" fill="#a1dced" />
<rect x="65.90" y="96.30" width="5.10" height="2.05" fill="#b7e4f0" />
<rect x="65.90" y="98.30" width="5.10" height="2.05" fill="#c3e8f2" />
<rect x="65.90" y="100.30" width="5.10" height="2.05" fill="#ddeef3" />
<rect x="65.90" y="102.30" width="5.10" height="2.05" fill="#b3e2f0" />
<rect x="65.90" y="104.30" width="5.10" height="2.05" fill="#6bcae5" />
<rect x="65.90" y="106.30" width="5.10" height="2.05" fill="#1caed8" />
<rect x="65.90" y="108.30" width="5.10" height="2.05" fill="#3fbcdf" />
<rect x="65.90" y="110.30" width="5.10" height="2.05" fill="#25b2da" />
<rect x="65.90" y="112.30" width="5.10" height="2.05" fill="#3cbade" />
<rect x="65.90" y="114.30" width="5.10" height="2.05" fill="#1fb0d9" />
<rect x="65.90" y="116.30" width="5.10" height="2.05" fill="#0ba2cf" />
<rect x="65.90" y="118.30" width="5.10" height="2.05" fill="#69c9e5" />
<rect x="65.90" y="120.30" width="5.10" height="2.05" fill="#41bcdf" />
<rect x="65.90" y="122.30" width="5.10" height="2.05" fill="#24b1da" />
<rect x="65.90" y="124.30" width="5.10" height="2.05" fill="#14abd7" />
<rect x="65.90" y="126.30" width="5.10" height="2.05" fill="#23b1da" />
<rect x="65.90" y="128.30" width="5.10" height="2.05" fill="#ace0ef" />
<rect x="65.90" y="130.30" width="5.10" height="2.05" fill="#c9eaf2" />
<rect x="65.90" y="132.30" width="5.10" height="2.05" fill="#f6eae6" />
<rect x="65.90" y="134.30" width="5.10" height="2.05" fill="#f5aa95" />
<rect x="65.90" y="136.30" width="5.10" height="2.05" fill="#f8bfad" />
<rect x="65.90" y="138.30" width="5.10" height="2.05" fill="#f8e4dc" />
<rect x="65.90" y="140.30" width="5.10" height="2.05" fill="#f29580" />
<rect x="65.90" y="142.30" width="5.10" height="2.05" fill="#f6b09b" />
<rect x="65.90" y="144.30" width="5.10" height="2.05" fill="#f7b7a4" />
<rect x="65.90" y="146.30" width="5.10" height="2.05" fill="#f8beac" />
<rect x="65.90" y="148.30" width="5.10" height="2.05" fill="#ec715f" />
<rect x="65.90" y="150.30" width="5.10" height="2.05" fill="#ef7e69" />
<rect x="65.90" y="152.30" width="5.10" height="2.05" fill="#e34242" />
<rect x="65.90" y="154.30" width="5.10" height="2.05" fill="#e23e40" />
<rect x="65.90" y="156.30" width="5.10" height="2.05" fill="#e23c40" />
<rect x="65.90" y="158.30" width="5.10" height="2.05" fill="#e23d40" />
<rect x="65.90" y="160.30" width="5.10" height="2.05" fill="#e44442" />
<rect x="65.90" y="162.30" width="5.10" height="2.05" fill="#de2b3a" />
<rect x="65.90" y="164.30" width="5.10" height="2.05" fill="#e44643" />
<rect x="65.90" y="166.30" width="5.10" height="2.05" fill="#de2b3a" />
<rect x="65.90" y="168.30" width="5.10" height="2.05" fill="#e34242" />
<rect x="65.90" y="170.30" width="5.10" height="2.05" fill="#df2f3c" />
<rect x="65.90" y="172.30" width="5.10" height="2.05" fill="#ed7462" />
<rect x="65.90" y="174.30" width="5.10" height="2.05" fill="#f29681" />
<rect x="65.90" y="176.30" width="5.10" height="2.05" fill="#f6b19d" />
<rect x="65.90" y="178.30" width="5.10" height="2.05" fill="#f39b86" />
<rect x="65.90" y="180.30" width="5.10" height="2.05" fill="#f9dfd6" />
<rect x="65.90" y="182.30" width="5.10" height="2.05" fill="#deeff3" />
<rect x="65.90" y="184.30" width="5.10" height="2.05" fill="#f6edea" />
<rect x="65.90" y="186.30" width="5.10" height="2.05" fill="#f9dfd5" />
<rect x="65.90" y="188.30" width="5.10" height="2.05" fill="#f6eae6" />
<rect x="65.90" y="190.30" width="5.10" height="2.05" fill="#f9e1d7" />
<rect x="65.90" y="192.30" width="5.10" height="2.05" fill="#e0313c" />
<rect x="65.90" y="194.30" width="5.10" height="2.05" fill="#fad9cc" />
<rect x="65.90" y="196.30" width="5.10" height="2.05" fill="#fbd7ca" />
<rect x="65.90" y="198.30" width="5.10" height="2.05" fill="#fadace" />
<rect x="65.90" y="200.30" width="5.10" height="2.05" fill="#f5efed" />
<rect x="65.90" y="202.30" width="5.10" height="2.05" fill="#f7e8e3" />
<rect x="65.90" y="204.30" width="5.10" height="2.05" fill="#f5efec" />
<rect x="65.90" y="206.30" width="5.10" height="2.05" fill="#f5f0ed" />
<rect x="65.90" y="208.30" width="5.10" height="2.05" fill="#f6ece9" />
<rect x="65.90" y="210.30" width="5.10" height="2.05" fill="#c3e8f2" />
<rect x="65.90" y="212.30" width="5.10" height="2.05" fill="#f2937e" />
<rect x="65.90" y="214.30" width="5.10" height="2.05" fill="#f18a75" />
<rect x="65.90" y="216.30" width="5.10" height="2.05" fill="#f4a590" />
<rect x="65.90" y="218.30" width="5.10" height="2.05" fill="#f18a75" />
<rect x="65.90" y="220.30" width="5.10" height="2.05" fill="#f7bba8" />
<rect x="65.90" y="222.30" width="5.10" height="2.05" fill="#fbd5c6" />
<rect x="65.90" y="224.30" width="5.10" height="2.05" fill="#ed7260" />
<rect x="65.90" y="226.30" width="5.10" height="2.05" fill="#aadfee" />
<rect x="65.90" y="228.30" width="5.10" height="2.05" fill="#fbd6c8" />
<rect x="65.90" y="230.30" width="5.10" height="2.05" fill="#d5ecf3" />
<rect x="65.90" y="232.30" width="5.10" height="2.05" fill="#f5a792" />
<rect x="65.90" y="234.30" width="5.10" height="2.05" fill="#e7574b" />
<rect x="65.90" y="236.30" width="5.10" height="2.05" fill="#b0e2ef" />
<rect x="65.90" y="238.30" width="5.10" height="2.05" fill="#f9cab9" />
<rect x="65.90" y="240.30" width="5.10" height="2.05" fill="#f7bba8" />
<rect x="65.90" y="242.30" width="5.10" height="2.05" fill="#fad9cd" />
<rect x="65.90" y="244.30" width="5.10" height="2.05" fill="#f7b9a6" />
<rect x="65.90" y="246.30" width="5.10" height="2.05" fill="#c0e7f2" />
<rect x="65.90" y="248.30" width="5.10" height="2.05" fill="#f6ad98" />
<rect x="65.90" y="250.30" width="5.10" height="2.05" fill="#f8c0ae" />
<rect x="65.90" y="252.30" width="5.10" height="0.75" fill="#facebe" />
<rect x="23.60" y="28.30" width="48.80" height="55.20" fill="rgba(196,192,240,0.27)" />
<rect x="23.60" y="198.30" width="48.80" height="55.20" fill="rgba(196,192,240,0.27)" />
<rect x="25.30" y="24.00" width="25.50" height="2.60" fill="#e6edf5" />
<rect x="50.80" y="24.00" width="20.00" height="2.70" fill="#15305e" />
<text x="37.40" y="20.90" font-size="6.1" fill="#222" text-anchor="start" font-weight="normal" font-style="normal" stroke="#222" stroke-width="0.08" >HC</text>
<text x="53.80" y="20.90" font-size="6.0" fill="#222" text-anchor="start" font-weight="normal" font-style="normal" stroke="#222" stroke-width="0.08" >β Thal</text>
<rect x="23.4" y="27.9" width="49.2" height="55.8" fill="none" stroke="#1c2c4c" stroke-width="1.1"/>
<rect x="23.4" y="197.9" width="49.2" height="55.8" fill="none" stroke="#1c2c4c" stroke-width="1.1"/>
<path d="M25 72 H20.9 V178 H25" fill="none" stroke="#c4c4c4" stroke-width="0.8"/>
<defs><linearGradient id="lgA" x1="0" y1="0" x2="0" y2="1"><stop offset="0" stop-color="#b2182b"/><stop offset="0.25" stop-color="#ef9a9a"/><stop offset="0.5" stop-color="#f7f7f7"/><stop offset="0.75" stop-color="#9fd3e6"/><stop offset="1" stop-color="#2a8fa8"/></linearGradient></defs>
<rect x="14.80" y="216.30" width="1.90" height="32.30" fill="url(#lgA)" />
<line x1="17.60" y1="216.50" x2="17.60" y2="248.50" stroke="#dddddd" stroke-width="0.4" />
<text x="21.50" y="222.00" font-size="3.2" fill="#555" text-anchor="start" font-weight="normal" font-style="normal" transform="rotate(-90 21.5 222)">2</text>
<text x="21.50" y="240.00" font-size="3.2" fill="#555" text-anchor="start" font-weight="normal" font-style="normal" transform="rotate(-90 21.5 240)">0</text>
<text x="19.00" y="256.00" font-size="3.2" fill="#555" text-anchor="start" font-weight="normal" font-style="normal" >-2</text>
<text x="48.00" y="262.00" font-size="6.0" fill="#111" text-anchor="middle" font-weight="normal" font-style="normal" stroke="#111" stroke-width="0.08" >Proteomics</text>
<text x="48.50" y="269.60" font-size="6.4" fill="#111" text-anchor="middle" font-weight="normal" font-style="italic" stroke="#111" stroke-width="0.08" >Top 500 T-test</text>
<rect x="85.20" y="27.90" width="5.03" height="4.51" fill="#df2d3b" />
<rect x="90.18" y="27.90" width="5.03" height="4.51" fill="#eb6c5c" />
<rect x="95.16" y="27.90" width="5.03" height="4.51" fill="#fbd6c8" />
<rect x="100.14" y="27.90" width="5.03" height="4.51" fill="#facebf" />
<rect x="105.12" y="27.90" width="5.03" height="4.51" fill="#f9c7b6" />
<rect x="110.10" y="27.90" width="5.03" height="4.51" fill="#a0d6eb" />
<rect x="115.08" y="27.90" width="5.03" height="4.51" fill="#0c88c4" />
<rect x="120.06" y="27.90" width="5.03" height="4.51" fill="#1094cc" />
<rect x="125.04" y="27.90" width="5.03" height="4.51" fill="#b8e0ef" />
<rect x="85.20" y="32.36" width="5.03" height="4.51" fill="#ed7663" />
<rect x="90.18" y="32.36" width="5.03" height="4.51" fill="#fbd6c8" />
<rect x="95.16" y="32.36" width="5.03" height="4.51" fill="#ef7f6a" />
<rect x="100.14" y="32.36" width="5.03" height="4.51" fill="#fadcd1" />
<rect x="105.12" y="32.36" width="5.03" height="4.51" fill="#f08974" />
<rect x="110.10" y="32.36" width="5.03" height="4.51" fill="#c0e4f1" />
<rect x="115.08" y="32.36" width="5.03" height="4.51" fill="#0c82be" />
<rect x="120.06" y="32.36" width="5.03" height="4.51" fill="#0c88c4" />
<rect x="125.04" y="32.36" width="5.03" height="4.51" fill="#b8e0ef" />
<rect x="85.20" y="36.82" width="5.03" height="4.51" fill="#ef7f6a" />
<rect x="90.18" y="36.82" width="5.03" height="4.51" fill="#fadcd1" />
<rect x="95.16" y="36.82" width="5.03" height="4.51" fill="#e23b3f" />
<rect x="100.14" y="36.82" width="5.03" height="4.51" fill="#f8bfad" />
<rect x="105.12" y="36.82" width="5.03" height="4.51" fill="#f6b09b" />
<rect x="110.10" y="36.82" width="5.03" height="4.51" fill="#c0e4f1" />
<rect x="115.08" y="36.82" width="5.03" height="4.51" fill="#70c7e6" />
<rect x="120.06" y="36.82" width="5.03" height="4.51" fill="#44b8e1" />
<rect x="125.04" y="36.82" width="5.03" height="4.51" fill="#0b7cb9" />
<rect x="85.20" y="41.28" width="5.03" height="4.51" fill="#da2738" />
<rect x="90.18" y="41.28" width="5.03" height="4.51" fill="#fbd6c8" />
<rect x="95.16" y="41.28" width="5.03" height="4.51" fill="#f5a691" />
<rect x="100.14" y="41.28" width="5.03" height="4.51" fill="#f9c7b6" />
<rect x="105.12" y="41.28" width="5.03" height="4.51" fill="#f7e8e2" />
<rect x="110.10" y="41.28" width="5.03" height="4.51" fill="#0e8ec8" />
<rect x="115.08" y="41.28" width="5.03" height="4.51" fill="#44b8e1" />
<rect x="120.06" y="41.28" width="5.03" height="4.51" fill="#14a0d4" />
<rect x="125.04" y="41.28" width="5.03" height="4.51" fill="#b8e0ef" />
<rect x="85.20" y="45.74" width="5.03" height="4.51" fill="#e23b3f" />
<rect x="90.18" y="45.74" width="5.03" height="4.51" fill="#fbd6c8" />
<rect x="95.16" y="45.74" width="5.03" height="4.51" fill="#f6b09b" />
<rect x="100.14" y="45.74" width="5.03" height="4.51" fill="#ef7f6a" />
<rect x="105.12" y="45.74" width="5.03" height="4.51" fill="#f9c7b6" />
<rect x="110.10" y="45.74" width="5.03" height="4.51" fill="#70c7e6" />
<rect x="115.08" y="45.74" width="5.03" height="4.51" fill="#16a6d8" />
<rect x="120.06" y="45.74" width="5.03" height="4.51" fill="#16a6d8" />
<rect x="125.04" y="45.74" width="5.03" height="4.51" fill="#1094cc" />
<rect x="85.20" y="50.20" width="5.03" height="4.51" fill="#eb6c5c" />
<rect x="90.18" y="50.20" width="5.03" height="4.51" fill="#fadcd1" />
<rect x="95.16" y="50.20" width="5.03" height="4.51" fill="#ed7663" />
<rect x="100.14" y="50.20" width="5.03" height="4.51" fill="#eb6c5c" />
<rect x="105.12" y="50.20" width="5.03" height="4.51" fill="#f5eeeb" />
<rect x="110.10" y="50.20" width="5.03" height="4.51" fill="#90d1e9" />
<rect x="115.08" y="50.20" width="5.03" height="4.51" fill="#22abda" />
<rect x="120.06" y="50.20" width="5.03" height="4.51" fill="#22abda" />
<rect x="125.04" y="50.20" width="5.03" height="4.51" fill="#14a0d4" />
<rect x="85.20" y="54.66" width="5.03" height="4.51" fill="#f39c87" />
<rect x="90.18" y="54.66" width="5.03" height="4.51" fill="#f8e2da" />
<rect x="95.16" y="54.66" width="5.03" height="4.51" fill="#fbd6c8" />
<rect x="100.14" y="54.66" width="5.03" height="4.51" fill="#f8bfad" />
<rect x="105.12" y="54.66" width="5.03" height="4.51" fill="#df2d3b" />
<rect x="110.10" y="54.66" width="5.03" height="4.51" fill="#16a6d8" />
<rect x="115.08" y="54.66" width="5.03" height="4.51" fill="#16a6d8" />
<rect x="120.06" y="54.66" width="5.03" height="4.51" fill="#50bde3" />
<rect x="125.04" y="54.66" width="5.03" height="4.51" fill="#90d1e9" />
<rect x="85.20" y="59.12" width="5.03" height="4.51" fill="#e0343d" />
<rect x="90.18" y="59.12" width="5.03" height="4.51" fill="#daecf3" />
<rect x="95.16" y="59.12" width="5.03" height="4.51" fill="#f9c7b6" />
<rect x="100.14" y="59.12" width="5.03" height="4.51" fill="#f7b8a4" />
<rect x="105.12" y="59.12" width="5.03" height="4.51" fill="#da2738" />
<rect x="110.10" y="59.12" width="5.03" height="4.51" fill="#129ad0" />
<rect x="115.08" y="59.12" width="5.03" height="4.51" fill="#39b4df" />
<rect x="120.06" y="59.12" width="5.03" height="4.51" fill="#129ad0" />
<rect x="125.04" y="59.12" width="5.03" height="4.51" fill="#a0d6eb" />
<rect x="85.20" y="63.58" width="5.03" height="4.51" fill="#f08974" />
<rect x="90.18" y="63.58" width="5.03" height="4.51" fill="#c8e7f2" />
<rect x="95.16" y="63.58" width="5.03" height="4.51" fill="#f9c7b6" />
<rect x="100.14" y="63.58" width="5.03" height="4.51" fill="#fbd6c8" />
<rect x="105.12" y="63.58" width="5.03" height="4.51" fill="#da2738" />
<rect x="110.10" y="63.58" width="5.03" height="4.51" fill="#16a6d8" />
<rect x="115.08" y="63.58" width="5.03" height="4.51" fill="#70c7e6" />
<rect x="120.06" y="63.58" width="5.03" height="4.51" fill="#2dafdc" />
<rect x="125.04" y="63.58" width="5.03" height="4.51" fill="#b8e0ef" />
<rect x="85.20" y="68.04" width="5.03" height="4.51" fill="#f5eeeb" />
<rect x="90.18" y="68.04" width="5.03" height="4.51" fill="#f6b09b" />
<rect x="95.16" y="68.04" width="5.03" height="4.51" fill="#f2937e" />
<rect x="100.14" y="68.04" width="5.03" height="4.51" fill="#f2937e" />
<rect x="105.12" y="68.04" width="5.03" height="4.51" fill="#f5a691" />
<rect x="110.10" y="68.04" width="5.03" height="4.51" fill="#b0ddee" />
<rect x="115.08" y="68.04" width="5.03" height="4.51" fill="#16a6d8" />
<rect x="120.06" y="68.04" width="5.03" height="4.51" fill="#80cce8" />
<rect x="125.04" y="68.04" width="5.03" height="4.51" fill="#0e8ec8" />
<rect x="85.20" y="72.50" width="5.03" height="4.51" fill="#f5a691" />
<rect x="90.18" y="72.50" width="5.03" height="4.51" fill="#fbd6c8" />
<rect x="95.16" y="72.50" width="5.03" height="4.51" fill="#f7b8a4" />
<rect x="100.14" y="72.50" width="5.03" height="4.51" fill="#f6b09b" />
<rect x="105.12" y="72.50" width="5.03" height="4.51" fill="#f39c87" />
<rect x="110.10" y="72.50" width="5.03" height="4.51" fill="#14a0d4" />
<rect x="115.08" y="72.50" width="5.03" height="4.51" fill="#16a6d8" />
<rect x="120.06" y="72.50" width="5.03" height="4.51" fill="#129ad0" />
<rect x="125.04" y="72.50" width="5.03" height="4.51" fill="#0e8ec8" />
<rect x="85.20" y="76.96" width="5.03" height="4.51" fill="#f7b8a4" />
<rect x="90.18" y="76.96" width="5.03" height="4.51" fill="#f6b09b" />
<rect x="95.16" y="76.96" width="5.03" height="4.51" fill="#facebf" />
<rect x="100.14" y="76.96" width="5.03" height="4.51" fill="#f8bfad" />
<rect x="105.12" y="76.96" width="5.03" height="4.51" fill="#f6b09b" />
<rect x="110.10" y="76.96" width="5.03" height="4.51" fill="#60c2e5" />
<rect x="115.08" y="76.96" width="5.03" height="4.51" fill="#1094cc" />
<rect x="120.06" y="76.96" width="5.03" height="4.51" fill="#22abda" />
<rect x="125.04" y="76.96" width="5.03" height="4.51" fill="#16a6d8" />
<rect x="85.20" y="81.42" width="5.03" height="4.51" fill="#f8e2da" />
<rect x="90.18" y="81.42" width="5.03" height="4.51" fill="#fadcd1" />
<rect x="95.16" y="81.42" width="5.03" height="4.51" fill="#f6b09b" />
<rect x="100.14" y="81.42" width="5.03" height="4.51" fill="#da2738" />
<rect x="105.12" y="81.42" width="5.03" height="4.51" fill="#f08974" />
<rect x="110.10" y="81.42" width="5.03" height="4.51" fill="#14a0d4" />
<rect x="115.08" y="81.42" width="5.03" height="4.51" fill="#0c88c4" />
<rect x="120.06" y="81.42" width="5.03" height="4.51" fill="#a8d9ec" />
<rect x="125.04" y="81.42" width="5.03" height="4.51" fill="#80cce8" />
<rect x="85.20" y="85.88" width="5.03" height="4.51" fill="#fbd6c8" />
<rect x="90.18" y="85.88" width="5.03" height="4.51" fill="#fadcd1" />
<rect x="95.16" y="85.88" width="5.03" height="4.51" fill="#f5a691" />
<rect x="100.14" y="85.88" width="5.03" height="4.51" fill="#f8bfad" />
<rect x="105.12" y="85.88" width="5.03" height="4.51" fill="#e34242" />
<rect x="110.10" y="85.88" width="5.03" height="4.51" fill="#a0d6eb" />
<rect x="115.08" y="85.88" width="5.03" height="4.51" fill="#0b76b3" />
<rect x="120.06" y="85.88" width="5.03" height="4.51" fill="#70c7e6" />
<rect x="125.04" y="85.88" width="5.03" height="4.51" fill="#22abda" />
<rect x="85.20" y="90.34" width="5.03" height="4.51" fill="#f8bfad" />
<rect x="90.18" y="90.34" width="5.03" height="4.51" fill="#fbd6c8" />
<rect x="95.16" y="90.34" width="5.03" height="4.51" fill="#f9c7b6" />
<rect x="100.14" y="90.34" width="5.03" height="4.51" fill="#e65046" />
<rect x="105.12" y="90.34" width="5.03" height="4.51" fill="#f8bfad" />
<rect x="110.10" y="90.34" width="5.03" height="4.51" fill="#16a6d8" />
<rect x="115.08" y="90.34" width="5.03" height="4.51" fill="#0b76b3" />
<rect x="120.06" y="90.34" width="5.03" height="4.51" fill="#b0ddee" />
<rect x="125.04" y="90.34" width="5.03" height="4.51" fill="#e2eff3" />
<rect x="85.20" y="94.80" width="5.03" height="4.51" fill="#70c7e6" />
<rect x="90.18" y="94.80" width="5.03" height="4.51" fill="#f7e8e2" />
<rect x="95.16" y="94.80" width="5.03" height="4.51" fill="#70c7e6" />
<rect x="100.14" y="94.80" width="5.03" height="4.51" fill="#60c2e5" />
<rect x="105.12" y="94.80" width="5.03" height="4.51" fill="#16a6d8" />
<rect x="110.10" y="94.80" width="5.03" height="4.51" fill="#da2738" />
<rect x="115.08" y="94.80" width="5.03" height="4.51" fill="#f9c7b6" />
<rect x="120.06" y="94.80" width="5.03" height="4.51" fill="#f8bfad" />
<rect x="125.04" y="94.80" width="5.03" height="4.51" fill="#df2d3b" />
<rect x="85.20" y="99.26" width="5.03" height="4.51" fill="#e2eff3" />
<rect x="90.18" y="99.26" width="5.03" height="4.51" fill="#d1eaf2" />
<rect x="95.16" y="99.26" width="5.03" height="4.51" fill="#70c7e6" />
<rect x="100.14" y="99.26" width="5.03" height="4.51" fill="#60c2e5" />
<rect x="105.12" y="99.26" width="5.03" height="4.51" fill="#129ad0" />
<rect x="110.10" y="99.26" width="5.03" height="4.51" fill="#df2d3b" />
<rect x="115.08" y="99.26" width="5.03" height="4.51" fill="#f2937e" />
<rect x="120.06" y="99.26" width="5.03" height="4.51" fill="#fbd6c8" />
<rect x="125.04" y="99.26" width="5.03" height="4.51" fill="#f7b8a4" />
<rect x="85.20" y="103.72" width="5.03" height="4.51" fill="#b8e0ef" />
<rect x="90.18" y="103.72" width="5.03" height="4.51" fill="#c0e4f1" />
<rect x="95.16" y="103.72" width="5.03" height="4.51" fill="#e2eff3" />
<rect x="100.14" y="103.72" width="5.03" height="4.51" fill="#16a6d8" />
<rect x="105.12" y="103.72" width="5.03" height="4.51" fill="#1094cc" />
<rect x="110.10" y="103.72" width="5.03" height="4.51" fill="#e23b3f" />
<rect x="115.08" y="103.72" width="5.03" height="4.51" fill="#f7b8a4" />
<rect x="120.06" y="103.72" width="5.03" height="4.51" fill="#fbd6c8" />
<rect x="125.04" y="103.72" width="5.03" height="4.51" fill="#facebf" />
<rect x="85.20" y="108.18" width="5.03" height="4.51" fill="#0e8ec8" />
<rect x="90.18" y="108.18" width="5.03" height="4.51" fill="#b8e0ef" />
<rect x="95.16" y="108.18" width="5.03" height="4.51" fill="#2dafdc" />
<rect x="100.14" y="108.18" width="5.03" height="4.51" fill="#a0d6eb" />
<rect x="105.12" y="108.18" width="5.03" height="4.51" fill="#a0d6eb" />
<rect x="110.10" y="108.18" width="5.03" height="4.51" fill="#df2d3b" />
<rect x="115.08" y="108.18" width="5.03" height="4.51" fill="#e54944" />
<rect x="120.06" y="108.18" width="5.03" height="4.51" fill="#f08974" />
<rect x="125.04" y="108.18" width="5.03" height="4.51" fill="#fadcd1" />
<rect x="85.20" y="112.64" width="5.03" height="4.51" fill="#14a0d4" />
<rect x="90.18" y="112.64" width="5.03" height="4.51" fill="#c0e4f1" />
<rect x="95.16" y="112.64" width="5.03" height="4.51" fill="#c0e4f1" />
<rect x="100.14" y="112.64" width="5.03" height="4.51" fill="#a8d9ec" />
<rect x="105.12" y="112.64" width="5.03" height="4.51" fill="#22abda" />
<rect x="110.10" y="112.64" width="5.03" height="4.51" fill="#e0343d" />
<rect x="115.08" y="112.64" width="5.03" height="4.51" fill="#cd162e" />
<rect x="120.06" y="112.64" width="5.03" height="4.51" fill="#f9c7b6" />
<rect x="125.04" y="112.64" width="5.03" height="4.51" fill="#fbd6c8" />
<rect x="85.20" y="117.10" width="5.03" height="4.51" fill="#90d1e9" />
<rect x="90.18" y="117.10" width="5.03" height="4.51" fill="#0e8ec8" />
<rect x="95.16" y="117.10" width="5.03" height="4.51" fill="#f0f3f4" />
<rect x="100.14" y="117.10" width="5.03" height="4.51" fill="#1094cc" />
<rect x="105.12" y="117.10" width="5.03" height="4.51" fill="#b8e0ef" />
<rect x="110.10" y="117.10" width="5.03" height="4.51" fill="#f7b8a4" />
<rect x="115.08" y="117.10" width="5.03" height="4.51" fill="#d11c31" />
<rect x="120.06" y="117.10" width="5.03" height="4.51" fill="#fadcd1" />
<rect x="125.04" y="117.10" width="5.03" height="4.51" fill="#f9c7b6" />
<rect x="85.20" y="121.56" width="5.03" height="4.51" fill="#90d1e9" />
<rect x="90.18" y="121.56" width="5.03" height="4.51" fill="#22abda" />
<rect x="95.16" y="121.56" width="5.03" height="4.51" fill="#a0d6eb" />
<rect x="100.14" y="121.56" width="5.03" height="4.51" fill="#39b4df" />
<rect x="105.12" y="121.56" width="5.03" height="4.51" fill="#a0d6eb" />
<rect x="110.10" y="121.56" width="5.03" height="4.51" fill="#f5a691" />
<rect x="115.08" y="121.56" width="5.03" height="4.51" fill="#c8102b" />
<rect x="120.06" y="121.56" width="5.03" height="4.51" fill="#facebf" />
<rect x="125.04" y="121.56" width="5.03" height="4.51" fill="#fadcd1" />
<rect x="85.20" y="126.02" width="5.03" height="4.51" fill="#60c2e5" />
<rect x="90.18" y="126.02" width="5.03" height="4.51" fill="#2dafdc" />
<rect x="95.16" y="126.02" width="5.03" height="4.51" fill="#90d1e9" />
<rect x="100.14" y="126.02" width="5.03" height="4.51" fill="#50bde3" />
<rect x="105.12" y="126.02" width="5.03" height="4.51" fill="#b0ddee" />
<rect x="110.10" y="126.02" width="5.03" height="4.51" fill="#e34242" />
<rect x="115.08" y="126.02" width="5.03" height="4.51" fill="#c8102b" />
<rect x="120.06" y="126.02" width="5.03" height="4.51" fill="#fbd6c8" />
<rect x="125.04" y="126.02" width="5.03" height="4.51" fill="#f9c7b6" />
<rect x="85.20" y="130.48" width="5.03" height="4.51" fill="#16a6d8" />
<rect x="90.18" y="130.48" width="5.03" height="4.51" fill="#129ad0" />
<rect x="95.16" y="130.48" width="5.03" height="4.51" fill="#2dafdc" />
<rect x="100.14" y="130.48" width="5.03" height="4.51" fill="#d1eaf2" />
<rect x="105.12" y="130.48" width="5.03" height="4.51" fill="#c8e7f2" />
<rect x="110.10" y="130.48" width="5.03" height="4.51" fill="#e54944" />
<rect x="115.08" y="130.48" width="5.03" height="4.51" fill="#facebf" />
<rect x="120.06" y="130.48" width="5.03" height="4.51" fill="#f7b8a4" />
<rect x="125.04" y="130.48" width="5.03" height="4.51" fill="#ea6354" />
<rect x="85.20" y="134.94" width="5.03" height="4.51" fill="#1094cc" />
<rect x="90.18" y="134.94" width="5.03" height="4.51" fill="#a0d6eb" />
<rect x="95.16" y="134.94" width="5.03" height="4.51" fill="#0c88c4" />
<rect x="100.14" y="134.94" width="5.03" height="4.51" fill="#c0e4f1" />
<rect x="105.12" y="134.94" width="5.03" height="4.51" fill="#f8e2da" />
<rect x="110.10" y="134.94" width="5.03" height="4.51" fill="#ef7f6a" />
<rect x="115.08" y="134.94" width="5.03" height="4.51" fill="#f6b09b" />
<rect x="120.06" y="134.94" width="5.03" height="4.51" fill="#f6b09b" />
<rect x="125.04" y="134.94" width="5.03" height="4.51" fill="#da2738" />
<rect x="85.20" y="139.40" width="5.03" height="4.51" fill="#f4f4f4" />
<rect x="90.18" y="139.40" width="5.03" height="4.51" fill="#0c88c4" />
<rect x="95.16" y="139.40" width="5.03" height="4.51" fill="#b8e0ef" />
<rect x="100.14" y="139.40" width="5.03" height="4.51" fill="#0e8ec8" />
<rect x="105.12" y="139.40" width="5.03" height="4.51" fill="#c0e4f1" />
<rect x="110.10" y="139.40" width="5.03" height="4.51" fill="#f08974" />
<rect x="115.08" y="139.40" width="5.03" height="4.51" fill="#f5a691" />
<rect x="120.06" y="139.40" width="5.03" height="4.51" fill="#fadcd1" />
<rect x="125.04" y="139.40" width="5.03" height="4.51" fill="#da2738" />
<rect x="85.20" y="143.86" width="5.03" height="4.51" fill="#0e8ec8" />
<rect x="90.18" y="143.86" width="5.03" height="4.51" fill="#fadcd1" />
<rect x="95.16" y="143.86" width="5.03" height="4.51" fill="#b0ddee" />
<rect x="100.14" y="143.86" width="5.03" height="4.51" fill="#1094cc" />
<rect x="105.12" y="143.86" width="5.03" height="4.51" fill="#b0ddee" />
<rect x="110.10" y="143.86" width="5.03" height="4.51" fill="#f7b8a4" />
<rect x="115.08" y="143.86" width="5.03" height="4.51" fill="#ed7663" />
<rect x="120.06" y="143.86" width="5.03" height="4.51" fill="#f9c7b6" />
<rect x="125.04" y="143.86" width="5.03" height="4.51" fill="#e0343d" />
<rect x="85.20" y="148.32" width="5.03" height="4.51" fill="#39b4df" />
<rect x="90.18" y="148.32" width="5.03" height="4.51" fill="#39b4df" />
<rect x="95.16" y="148.32" width="5.03" height="4.51" fill="#a0d6eb" />
<rect x="100.14" y="148.32" width="5.03" height="4.51" fill="#44b8e1" />
<rect x="105.12" y="148.32" width="5.03" height="4.51" fill="#b8e0ef" />
<rect x="110.10" y="148.32" width="5.03" height="4.51" fill="#fadcd1" />
<rect x="115.08" y="148.32" width="5.03" height="4.51" fill="#ef7f6a" />
<rect x="120.06" y="148.32" width="5.03" height="4.51" fill="#fadcd1" />
<rect x="125.04" y="148.32" width="5.03" height="4.51" fill="#d62135" />
<rect x="85.20" y="152.78" width="5.03" height="4.51" fill="#80cce8" />
<rect x="90.18" y="152.78" width="5.03" height="4.51" fill="#a0d6eb" />
<rect x="95.16" y="152.78" width="5.03" height="4.51" fill="#60c2e5" />
<rect x="100.14" y="152.78" width="5.03" height="4.51" fill="#14a0d4" />
<rect x="105.12" y="152.78" width="5.03" height="4.51" fill="#b0ddee" />
<rect x="110.10" y="152.78" width="5.03" height="4.51" fill="#f9c7b6" />
<rect x="115.08" y="152.78" width="5.03" height="4.51" fill="#e65046" />
<rect x="120.06" y="152.78" width="5.03" height="4.51" fill="#f8bfad" />
<rect x="125.04" y="152.78" width="5.03" height="4.51" fill="#da2738" />
<rect x="85.20" y="157.24" width="5.03" height="4.51" fill="#0e8ec8" />
<rect x="90.18" y="157.24" width="5.03" height="4.51" fill="#d1eaf2" />
<rect x="95.16" y="157.24" width="5.03" height="4.51" fill="#60c2e5" />
<rect x="100.14" y="157.24" width="5.03" height="4.51" fill="#129ad0" />
<rect x="105.12" y="157.24" width="5.03" height="4.51" fill="#c0e4f1" />
<rect x="110.10" y="157.24" width="5.03" height="4.51" fill="#f8bfad" />
<rect x="115.08" y="157.24" width="5.03" height="4.51" fill="#f6b09b" />
<rect x="120.06" y="157.24" width="5.03" height="4.51" fill="#f08974" />
<rect x="125.04" y="157.24" width="5.03" height="4.51" fill="#f08974" />
<rect x="85.20" y="161.70" width="5.03" height="4.51" fill="#16a6d8" />
<rect x="90.18" y="161.70" width="5.03" height="4.51" fill="#d1eaf2" />
<rect x="95.16" y="161.70" width="5.03" height="4.51" fill="#39b4df" />
<rect x="100.14" y="161.70" width="5.03" height="4.51" fill="#39b4df" />
<rect x="105.12" y="161.70" width="5.03" height="4.51" fill="#90d1e9" />
<rect x="110.10" y="161.70" width="5.03" height="4.51" fill="#f6b09b" />
<rect x="115.08" y="161.70" width="5.03" height="4.51" fill="#e0343d" />
<rect x="120.06" y="161.70" width="5.03" height="4.51" fill="#f8e2da" />
<rect x="125.04" y="161.70" width="5.03" height="4.51" fill="#df2d3b" />
<rect x="85.20" y="166.16" width="5.03" height="4.51" fill="#2dafdc" />
<rect x="90.18" y="166.16" width="5.03" height="4.51" fill="#c8e7f2" />
<rect x="95.16" y="166.16" width="5.03" height="4.51" fill="#44b8e1" />
<rect x="100.14" y="166.16" width="5.03" height="4.51" fill="#44b8e1" />
<rect x="105.12" y="166.16" width="5.03" height="4.51" fill="#0c88c4" />
<rect x="110.10" y="166.16" width="5.03" height="4.51" fill="#f5eeeb" />
<rect x="115.08" y="166.16" width="5.03" height="4.51" fill="#d62135" />
<rect x="120.06" y="166.16" width="5.03" height="4.51" fill="#f39c87" />
<rect x="125.04" y="166.16" width="5.03" height="4.51" fill="#f39c87" />
<rect x="85.20" y="170.62" width="5.03" height="4.51" fill="#0e8ec8" />
<rect x="90.18" y="170.62" width="5.03" height="4.51" fill="#c0e4f1" />
<rect x="95.16" y="170.62" width="5.03" height="4.51" fill="#60c2e5" />
<rect x="100.14" y="170.62" width="5.03" height="4.51" fill="#50bde3" />
<rect x="105.12" y="170.62" width="5.03" height="4.51" fill="#a8d9ec" />
<rect x="110.10" y="170.62" width="5.03" height="4.51" fill="#fadcd1" />
<rect x="115.08" y="170.62" width="5.03" height="4.51" fill="#d62135" />
<rect x="120.06" y="170.62" width="5.03" height="4.51" fill="#e8594d" />
<rect x="125.04" y="170.62" width="5.03" height="4.51" fill="#f7b8a4" />
<rect x="85.20" y="175.08" width="5.03" height="4.51" fill="#50bde3" />
<rect x="90.18" y="175.08" width="5.03" height="4.51" fill="#60c2e5" />
<rect x="95.16" y="175.08" width="5.03" height="4.51" fill="#a0d6eb" />
<rect x="100.14" y="175.08" width="5.03" height="4.51" fill="#70c7e6" />
<rect x="105.12" y="175.08" width="5.03" height="4.51" fill="#60c2e5" />
<rect x="110.10" y="175.08" width="5.03" height="4.51" fill="#fbd6c8" />
<rect x="115.08" y="175.08" width="5.03" height="4.51" fill="#da2738" />
<rect x="120.06" y="175.08" width="5.03" height="4.51" fill="#f5a691" />
<rect x="125.04" y="175.08" width="5.03" height="4.51" fill="#eb6c5c" />
<rect x="85.20" y="179.54" width="5.03" height="4.51" fill="#16a6d8" />
<rect x="90.18" y="179.54" width="5.03" height="4.51" fill="#c0e4f1" />
<rect x="95.16" y="179.54" width="5.03" height="4.51" fill="#daecf3" />
<rect x="100.14" y="179.54" width="5.03" height="4.51" fill="#50bde3" />
<rect x="105.12" y="179.54" width="5.03" height="4.51" fill="#22abda" />
<rect x="110.10" y="179.54" width="5.03" height="4.51" fill="#fadcd1" />
<rect x="115.08" y="179.54" width="5.03" height="4.51" fill="#cd162e" />
<rect x="120.06" y="179.54" width="5.03" height="4.51" fill="#f5a691" />
<rect x="125.04" y="179.54" width="5.03" height="4.51" fill="#f6b09b" />
<rect x="85.20" y="184.00" width="5.03" height="4.51" fill="#16a6d8" />
<rect x="90.18" y="184.00" width="5.03" height="4.51" fill="#e2eff3" />
<rect x="95.16" y="184.00" width="5.03" height="4.51" fill="#22abda" />
<rect x="100.14" y="184.00" width="5.03" height="4.51" fill="#22abda" />
<rect x="105.12" y="184.00" width="5.03" height="4.51" fill="#16a6d8" />
<rect x="110.10" y="184.00" width="5.03" height="4.51" fill="#f6b09b" />
<rect x="115.08" y="184.00" width="5.03" height="4.51" fill="#df2d3b" />
<rect x="120.06" y="184.00" width="5.03" height="4.51" fill="#f9c7b6" />
<rect x="125.04" y="184.00" width="5.03" height="4.51" fill="#f5a691" />
<rect x="85.20" y="188.46" width="5.03" height="4.51" fill="#16a6d8" />
<rect x="90.18" y="188.46" width="5.03" height="4.51" fill="#daecf3" />
<rect x="95.16" y="188.46" width="5.03" height="4.51" fill="#22abda" />
<rect x="100.14" y="188.46" width="5.03" height="4.51" fill="#22abda" />
<rect x="105.12" y="188.46" width="5.03" height="4.51" fill="#16a6d8" />
<rect x="110.10" y="188.46" width="5.03" height="4.51" fill="#f6b09b" />
<rect x="115.08" y="188.46" width="5.03" height="4.51" fill="#d62135" />
<rect x="120.06" y="188.46" width="5.03" height="4.51" fill="#fadcd1" />
<rect x="125.04" y="188.46" width="5.03" height="4.51" fill="#f7b8a4" />
<rect x="85.20" y="192.92" width="5.03" height="4.51" fill="#39b4df" />
<rect x="90.18" y="192.92" width="5.03" height="4.51" fill="#a0d6eb" />
<rect x="95.16" y="192.92" width="5.03" height="4.51" fill="#44b8e1" />
<rect x="100.14" y="192.92" width="5.03" height="4.51" fill="#50bde3" />
<rect x="105.12" y="192.92" width="5.03" height="4.51" fill="#60c2e5" />
<rect x="110.10" y="192.92" width="5.03" height="4.51" fill="#f6b09b" />
<rect x="115.08" y="192.92" width="5.03" height="4.51" fill="#c8102b" />
<rect x="120.06" y="192.92" width="5.03" height="4.51" fill="#f6b09b" />
<rect x="125.04" y="192.92" width="5.03" height="4.51" fill="#f7b8a4" />
<rect x="85.20" y="197.38" width="5.03" height="4.51" fill="#c0e4f1" />
<rect x="90.18" y="197.38" width="5.03" height="4.51" fill="#e2eff3" />
<rect x="95.16" y="197.38" width="5.03" height="4.51" fill="#1094cc" />
<rect x="100.14" y="197.38" width="5.03" height="4.51" fill="#90d1e9" />
<rect x="105.12" y="197.38" width="5.03" height="4.51" fill="#90d1e9" />
<rect x="110.10" y="197.38" width="5.03" height="4.51" fill="#f8bfad" />
<rect x="115.08" y="197.38" width="5.03" height="4.51" fill="#c8102b" />
<rect x="120.06" y="197.38" width="5.03" height="4.51" fill="#f5a691" />
<rect x="125.04" y="197.38" width="5.03" height="4.51" fill="#f7b8a4" />
<rect x="85.20" y="201.84" width="5.03" height="4.51" fill="#f5eeeb" />
<rect x="90.18" y="201.84" width="5.03" height="4.51" fill="#50bde3" />
<rect x="95.16" y="201.84" width="5.03" height="4.51" fill="#c0e4f1" />
<rect x="100.14" y="201.84" width="5.03" height="4.51" fill="#a0d6eb" />
<rect x="105.12" y="201.84" width="5.03" height="4.51" fill="#0c82be" />
<rect x="110.10" y="201.84" width="5.03" height="4.51" fill="#fadcd1" />
<rect x="115.08" y="201.84" width="5.03" height="4.51" fill="#f08974" />
<rect x="120.06" y="201.84" width="5.03" height="4.51" fill="#f08974" />
<rect x="125.04" y="201.84" width="5.03" height="4.51" fill="#da2738" />
<rect x="85.20" y="206.30" width="5.03" height="4.51" fill="#f7e8e2" />
<rect x="90.18" y="206.30" width="5.03" height="4.51" fill="#70c7e6" />
<rect x="95.16" y="206.30" width="5.03" height="4.51" fill="#1094cc" />
<rect x="100.14" y="206.30" width="5.03" height="4.51" fill="#c0e4f1" />
<rect x="105.12" y="206.30" width="5.03" height="4.51" fill="#16a6d8" />
<rect x="110.10" y="206.30" width="5.03" height="4.51" fill="#fadcd1" />
<rect x="115.08" y="206.30" width="5.03" height="4.51" fill="#ef7f6a" />
<rect x="120.06" y="206.30" width="5.03" height="4.51" fill="#f5a691" />
<rect x="125.04" y="206.30" width="5.03" height="4.51" fill="#e23b3f" />
<rect x="85.20" y="210.76" width="5.03" height="4.51" fill="#b0ddee" />
<rect x="90.18" y="210.76" width="5.03" height="4.51" fill="#e2eff3" />
<rect x="95.16" y="210.76" width="5.03" height="4.51" fill="#0c82be" />
<rect x="100.14" y="210.76" width="5.03" height="4.51" fill="#c0e4f1" />
<rect x="105.12" y="210.76" width="5.03" height="4.51" fill="#16a6d8" />
<rect x="110.10" y="210.76" width="5.03" height="4.51" fill="#f8e2da" />
<rect x="115.08" y="210.76" width="5.03" height="4.51" fill="#f08974" />
<rect x="120.06" y="210.76" width="5.03" height="4.51" fill="#f2937e" />
<rect x="125.04" y="210.76" width="5.03" height="4.51" fill="#e34242" />
<rect x="85.20" y="215.22" width="5.03" height="4.51" fill="#a8d9ec" />
<rect x="90.18" y="215.22" width="5.03" height="4.51" fill="#a0d6eb" />
<rect x="95.16" y="215.22" width="5.03" height="4.51" fill="#0c88c4" />
<rect x="100.14" y="215.22" width="5.03" height="4.51" fill="#f4f4f4" />
<rect x="105.12" y="215.22" width="5.03" height="4.51" fill="#14a0d4" />
<rect x="110.10" y="215.22" width="5.03" height="4.51" fill="#f6b09b" />
<rect x="115.08" y="215.22" width="5.03" height="4.51" fill="#f39c87" />
<rect x="120.06" y="215.22" width="5.03" height="4.51" fill="#df2d3b" />
<rect x="125.04" y="215.22" width="5.03" height="4.51" fill="#f8bfad" />
<rect x="85.20" y="219.68" width="5.03" height="4.51" fill="#e2eff3" />
<rect x="90.18" y="219.68" width="5.03" height="4.51" fill="#39b4df" />
<rect x="95.16" y="219.68" width="5.03" height="4.51" fill="#0e8ec8" />
<rect x="100.14" y="219.68" width="5.03" height="4.51" fill="#f5eeeb" />
<rect x="105.12" y="219.68" width="5.03" height="4.51" fill="#0e8ec8" />
<rect x="110.10" y="219.68" width="5.03" height="4.51" fill="#f7b8a4" />
<rect x="115.08" y="219.68" width="5.03" height="4.51" fill="#f5a691" />
<rect x="120.06" y="219.68" width="5.03" height="4.51" fill="#f08974" />
<rect x="125.04" y="219.68" width="5.03" height="4.51" fill="#f7b8a4" />
<rect x="85.20" y="224.14" width="5.03" height="4.51" fill="#60c2e5" />
<rect x="90.18" y="224.14" width="5.03" height="4.51" fill="#c0e4f1" />
<rect x="95.16" y="224.14" width="5.03" height="4.51" fill="#16a6d8" />
<rect x="100.14" y="224.14" width="5.03" height="4.51" fill="#50bde3" />
<rect x="105.12" y="224.14" width="5.03" height="4.51" fill="#60c2e5" />
<rect x="110.10" y="224.14" width="5.03" height="4.51" fill="#f7b8a4" />
<rect x="115.08" y="224.14" width="5.03" height="4.51" fill="#f6b09b" />
<rect x="120.06" y="224.14" width="5.03" height="4.51" fill="#da2738" />
<rect x="125.04" y="224.14" width="5.03" height="4.51" fill="#f39c87" />
<rect x="85.20" y="228.60" width="5.03" height="4.51" fill="#60c2e5" />
<rect x="90.18" y="228.60" width="5.03" height="4.51" fill="#44b8e1" />
<rect x="95.16" y="228.60" width="5.03" height="4.51" fill="#22abda" />
<rect x="100.14" y="228.60" width="5.03" height="4.51" fill="#60c2e5" />
<rect x="105.12" y="228.60" width="5.03" height="4.51" fill="#50bde3" />
<rect x="110.10" y="228.60" width="5.03" height="4.51" fill="#f7b8a4" />
<rect x="115.08" y="228.60" width="5.03" height="4.51" fill="#f6b09b" />
<rect x="120.06" y="228.60" width="5.03" height="4.51" fill="#e23b3f" />
<rect x="125.04" y="228.60" width="5.03" height="4.51" fill="#f5a691" />
<rect x="85.20" y="233.06" width="5.03" height="4.51" fill="#60c2e5" />
<rect x="90.18" y="233.06" width="5.03" height="4.51" fill="#129ad0" />
<rect x="95.16" y="233.06" width="5.03" height="4.51" fill="#50bde3" />
<rect x="100.14" y="233.06" width="5.03" height="4.51" fill="#60c2e5" />
<rect x="105.12" y="233.06" width="5.03" height="4.51" fill="#c8e7f2" />
<rect x="110.10" y="233.06" width="5.03" height="4.51" fill="#f6b09b" />
<rect x="115.08" y="233.06" width="5.03" height="4.51" fill="#fadcd1" />
<rect x="120.06" y="233.06" width="5.03" height="4.51" fill="#df2d3b" />
<rect x="125.04" y="233.06" width="5.03" height="4.51" fill="#f8bfad" />
<rect x="85.20" y="237.52" width="5.03" height="4.51" fill="#60c2e5" />
<rect x="90.18" y="237.52" width="5.03" height="4.51" fill="#60c2e5" />
<rect x="95.16" y="237.52" width="5.03" height="4.51" fill="#44b8e1" />
<rect x="100.14" y="237.52" width="5.03" height="4.51" fill="#60c2e5" />
<rect x="105.12" y="237.52" width="5.03" height="4.51" fill="#c0e4f1" />
<rect x="110.10" y="237.52" width="5.03" height="4.51" fill="#f6b09b" />
<rect x="115.08" y="237.52" width="5.03" height="4.51" fill="#d62135" />
<rect x="120.06" y="237.52" width="5.03" height="4.51" fill="#f08974" />
<rect x="125.04" y="237.52" width="5.03" height="4.51" fill="#fadcd1" />
<rect x="85.20" y="241.98" width="5.03" height="4.51" fill="#50bde3" />
<rect x="90.18" y="241.98" width="5.03" height="4.51" fill="#c8e7f2" />
<rect x="95.16" y="241.98" width="5.03" height="4.51" fill="#16a6d8" />
<rect x="100.14" y="241.98" width="5.03" height="4.51" fill="#1094cc" />
<rect x="105.12" y="241.98" width="5.03" height="4.51" fill="#c0e4f1" />
<rect x="110.10" y="241.98" width="5.03" height="4.51" fill="#f5a691" />
<rect x="115.08" y="241.98" width="5.03" height="4.51" fill="#e65046" />
<rect x="120.06" y="241.98" width="5.03" height="4.51" fill="#d62135" />
<rect x="125.04" y="241.98" width="5.03" height="4.51" fill="#f8bfad" />
<rect x="85.20" y="246.44" width="5.03" height="4.51" fill="#a8d9ec" />
<rect x="90.18" y="246.44" width="5.03" height="4.51" fill="#ebf1f4" />
<rect x="95.16" y="246.44" width="5.03" height="4.51" fill="#60c2e5" />
<rect x="100.14" y="246.44" width="5.03" height="4.51" fill="#0c82be" />
<rect x="105.12" y="246.44" width="5.03" height="4.51" fill="#a0d6eb" />
<rect x="110.10" y="246.44" width="5.03" height="4.51" fill="#f6b09b" />
<rect x="115.08" y="246.44" width="5.03" height="4.51" fill="#d62135" />
<rect x="120.06" y="246.44" width="5.03" height="4.51" fill="#d62135" />
<rect x="125.04" y="246.44" width="5.03" height="4.51" fill="#fadcd1" />
<rect x="85.20" y="24.10" width="24.90" height="2.50" fill="#e6edf5" />
<rect x="110.10" y="24.20" width="19.80" height="2.50" fill="#15305e" />
<text x="101.70" y="20.50" font-size="6.1" fill="#222" text-anchor="middle" font-weight="normal" font-style="normal" stroke="#222" stroke-width="0.08" >HC</text>
<text x="113.40" y="20.50" font-size="6.1" fill="#222" text-anchor="start" font-weight="normal" font-style="normal" stroke="#222" stroke-width="0.08" >β Thal</text>
<text x="132.00" y="31.20" font-size="4.15" fill="#444" text-anchor="start" font-weight="normal" font-style="normal" >VPS26B</text>
<text x="132.00" y="35.66" font-size="4.15" fill="#444" text-anchor="start" font-weight="normal" font-style="normal" >FASN</text>
<text x="132.00" y="40.12" font-size="4.15" fill="#444" text-anchor="start" font-weight="normal" font-style="normal" >TXN</text>
<text x="132.00" y="44.58" font-size="4.15" fill="#444" text-anchor="start" font-weight="normal" font-style="normal" >DSC1</text>
<text x="132.00" y="49.04" font-size="4.15" fill="#444" text-anchor="start" font-weight="normal" font-style="normal" >MYO1D</text>
<text x="132.00" y="53.50" font-size="4.15" fill="#444" text-anchor="start" font-weight="normal" font-style="normal" >PHKA2</text>
<text x="132.00" y="57.96" font-size="4.15" fill="#444" text-anchor="start" font-weight="normal" font-style="normal" >WARS1</text>
<text x="132.00" y="62.42" font-size="4.15" fill="#444" text-anchor="start" font-weight="normal" font-style="normal" >KRT1</text>
<text x="132.00" y="66.88" font-size="4.15" fill="#444" text-anchor="start" font-weight="normal" font-style="normal" >KRT8</text>
<text x="132.00" y="71.34" font-size="4.15" fill="#444" text-anchor="start" font-weight="normal" font-style="normal" >VPS26A</text>
<text x="132.00" y="75.80" font-size="4.15" fill="#444" text-anchor="start" font-weight="normal" font-style="normal" >RSBN1L</text>
<text x="132.00" y="80.26" font-size="4.15" fill="#444" text-anchor="start" font-weight="normal" font-style="normal" >ARG2</text>
<text x="132.00" y="84.72" font-size="4.15" fill="#444" text-anchor="start" font-weight="normal" font-style="normal" >PPP1R21</text>
<text x="132.00" y="89.18" font-size="4.15" fill="#444" text-anchor="start" font-weight="normal" font-style="normal" >PSMD14</text>
<text x="132.00" y="93.64" font-size="4.15" fill="#444" text-anchor="start" font-weight="normal" font-style="normal" >RNASEH2A</text>
<text x="132.00" y="98.10" font-size="4.15" fill="#444" text-anchor="start" font-weight="normal" font-style="normal" >UBE2L6</text>
<text x="132.00" y="102.56" font-size="4.15" fill="#444" text-anchor="start" font-weight="normal" font-style="normal" >KPNA2</text>
<text x="132.00" y="107.02" font-size="4.15" fill="#444" text-anchor="start" font-weight="normal" font-style="normal" >PRC1</text>
<text x="132.00" y="111.48" font-size="4.15" fill="#444" text-anchor="start" font-weight="normal" font-style="normal" >CDK1</text>
<text x="132.00" y="115.94" font-size="4.15" fill="#444" text-anchor="start" font-weight="normal" font-style="normal" >MCM2</text>
<text x="132.00" y="120.40" font-size="4.15" fill="#444" text-anchor="start" font-weight="normal" font-style="normal" >HSP90AB1</text>
<text x="132.00" y="124.86" font-size="4.15" fill="#444" text-anchor="start" font-weight="normal" font-style="normal" >CEBPZ</text>
<text x="132.00" y="129.32" font-size="4.15" fill="#444" text-anchor="start" font-weight="normal" font-style="normal" >CENPE</text>
<text x="132.00" y="133.78" font-size="4.15" fill="#444" text-anchor="start" font-weight="normal" font-style="normal" >ARG1</text>
<text x="132.00" y="138.24" font-size="4.15" fill="#444" text-anchor="start" font-weight="normal" font-style="normal" >LAGE3</text>
<text x="132.00" y="142.70" font-size="4.15" fill="#444" text-anchor="start" font-weight="normal" font-style="normal" >ABCE1</text>
<text x="132.00" y="147.16" font-size="4.15" fill="#444" text-anchor="start" font-weight="normal" font-style="normal" >RPS24</text>
<text x="132.00" y="151.62" font-size="4.15" fill="#444" text-anchor="start" font-weight="normal" font-style="normal" >PHKG2</text>
<text x="132.00" y="156.08" font-size="4.15" fill="#444" text-anchor="start" font-weight="normal" font-style="normal" >SMARCA2</text>
<text x="132.00" y="160.54" font-size="4.15" fill="#444" text-anchor="start" font-weight="normal" font-style="normal" >OGT</text>
<text x="132.00" y="165.00" font-size="4.15" fill="#444" text-anchor="start" font-weight="normal" font-style="normal" >TEC</text>
<text x="132.00" y="169.46" font-size="4.15" fill="#444" text-anchor="start" font-weight="normal" font-style="normal" >CYP51A1</text>
<text x="132.00" y="173.92" font-size="4.15" fill="#444" text-anchor="start" font-weight="normal" font-style="normal" >SMN1</text>
<text x="132.00" y="178.38" font-size="4.15" fill="#444" text-anchor="start" font-weight="normal" font-style="normal" >HBM</text>
<text x="132.00" y="182.84" font-size="4.15" fill="#444" text-anchor="start" font-weight="normal" font-style="normal" >RRM1</text>
<text x="132.00" y="187.30" font-size="4.15" fill="#444" text-anchor="start" font-weight="normal" font-style="normal" >TTC33</text>
<text x="132.00" y="191.76" font-size="4.15" fill="#444" text-anchor="start" font-weight="normal" font-style="normal" >NEMF</text>
<text x="132.00" y="196.22" font-size="4.15" fill="#444" text-anchor="start" font-weight="normal" font-style="normal" >SRCAP</text>
<text x="132.00" y="200.68" font-size="4.15" fill="#444" text-anchor="start" font-weight="normal" font-style="normal" >RNF20</text>
<text x="132.00" y="205.14" font-size="4.15" fill="#444" text-anchor="start" font-weight="normal" font-style="normal" >CETN3</text>
<text x="132.00" y="209.60" font-size="4.15" fill="#444" text-anchor="start" font-weight="normal" font-style="normal" >CLK3</text>
<text x="132.00" y="214.06" font-size="4.15" fill="#444" text-anchor="start" font-weight="normal" font-style="normal" >UBE2I</text>
<text x="132.00" y="218.52" font-size="4.15" fill="#444" text-anchor="start" font-weight="normal" font-style="normal" >USP19</text>
<text x="132.00" y="222.98" font-size="4.15" fill="#444" text-anchor="start" font-weight="normal" font-style="normal" >PRIM1</text>
<text x="132.00" y="227.44" font-size="4.15" fill="#444" text-anchor="start" font-weight="normal" font-style="normal" >NDUFA10</text>
<text x="132.00" y="231.90" font-size="4.15" fill="#444" text-anchor="start" font-weight="normal" font-style="normal" >TYK2</text>
<text x="132.00" y="236.36" font-size="4.15" fill="#444" text-anchor="start" font-weight="normal" font-style="normal" >RAB5B</text>
<text x="132.00" y="240.82" font-size="4.15" fill="#444" text-anchor="start" font-weight="normal" font-style="normal" >SMTN</text>
<text x="132.00" y="245.28" font-size="4.15" fill="#444" text-anchor="start" font-weight="normal" font-style="normal" >BSG</text>
<text x="132.00" y="249.74" font-size="4.15" fill="#444" text-anchor="start" font-weight="normal" font-style="normal" >CIT</text>
<path d="M84.7 54.2 H80.4 V139 H85" fill="none" stroke="#c8c8c8" stroke-width="0.8"/>
<path d="M72.6 28.3 L85.2 28.3" stroke="#1c2c4c" stroke-width="1.1" stroke-dasharray="3,1.7" fill="none"/>
<path d="M72.6 83.6 L85.2 94.8 L73.0 197.9" stroke="#1c2c4c" stroke-width="1.1" stroke-dasharray="3,1.7" fill="none"/>
<path d="M72.6 253.6 L85.2 250.9" stroke="#1c2c4c" stroke-width="1.1" stroke-dasharray="3,1.7" fill="none"/>
<text x="110.30" y="262.00" font-size="6.0" fill="#222" text-anchor="middle" font-weight="normal" font-style="normal" stroke="#222" stroke-width="0.08" >Proteomics</text>
<text x="110.90" y="269.40" font-size="6.5" fill="#222" text-anchor="middle" font-weight="normal" font-style="italic" stroke="#222" stroke-width="0.08" >Top 50 T-test</text>
<line x1="219.60" y1="17.00" x2="219.60" y2="152.30" stroke="#efefef" stroke-width="0.5" />
<line x1="250.50" y1="17.00" x2="250.50" y2="152.30" stroke="#efefef" stroke-width="0.5" />
<line x1="281.40" y1="17.00" x2="281.40" y2="152.30" stroke="#efefef" stroke-width="0.5" />
<line x1="312.30" y1="17.00" x2="312.30" y2="152.30" stroke="#efefef" stroke-width="0.5" />
<line x1="343.20" y1="17.00" x2="343.20" y2="152.30" stroke="#efefef" stroke-width="0.5" />
<line x1="374.10" y1="17.00" x2="374.10" y2="152.30" stroke="#efefef" stroke-width="0.5" />
<line x1="196.50" y1="146.40" x2="403.90" y2="146.40" stroke="#f0f0f0" stroke-width="0.5" />
<line x1="196.50" y1="134.60" x2="403.90" y2="134.60" stroke="#f0f0f0" stroke-width="0.5" />
<line x1="196.50" y1="122.80" x2="403.90" y2="122.80" stroke="#f0f0f0" stroke-width="0.5" />
<line x1="196.50" y1="111.00" x2="403.90" y2="111.00" stroke="#f0f0f0" stroke-width="0.5" />
<line x1="196.50" y1="99.20" x2="403.90" y2="99.20" stroke="#f0f0f0" stroke-width="0.5" />
<line x1="196.50" y1="87.40" x2="403.90" y2="87.40" stroke="#f0f0f0" stroke-width="0.5" />
<line x1="196.50" y1="75.60" x2="403.90" y2="75.60" stroke="#f0f0f0" stroke-width="0.5" />
<line x1="196.50" y1="63.80" x2="403.90" y2="63.80" stroke="#f0f0f0" stroke-width="0.5" />
<line x1="196.50" y1="52.00" x2="403.90" y2="52.00" stroke="#f0f0f0" stroke-width="0.5" />
<line x1="196.50" y1="40.20" x2="403.90" y2="40.20" stroke="#f0f0f0" stroke-width="0.5" />
<line x1="196.50" y1="28.40" x2="403.90" y2="28.40" stroke="#f0f0f0" stroke-width="0.5" />
<line x1="281.40" y1="17.00" x2="281.40" y2="152.30" stroke="#8c8c8c" stroke-width="0.6" />
<line x1="343.20" y1="17.00" x2="343.20" y2="152.30" stroke="#8c8c8c" stroke-width="0.6" />
<line x1="196.50" y1="122.60" x2="403.90" y2="122.60" stroke="#b4b4b4" stroke-width="1.2" />
<circle cx="329.89" cy="136.71" r="1.35" fill="#dcdcdc" stroke="#363636" stroke-width="0.55"/>
<circle cx="332.30" cy="132.90" r="1.35" fill="#dcdcdc" stroke="#363636" stroke-width="0.55"/>
<circle cx="298.14" cy="126.27" r="1.35" fill="#dcdcdc" stroke="#363636" stroke-width="0.55"/>
<circle cx="309.25" cy="142.54" r="1.35" fill="#dcdcdc" stroke="#363636" stroke-width="0.55"/>
<circle cx="308.45" cy="144.55" r="1.35" fill="#dcdcdc" stroke="#363636" stroke-width="0.55"/>
<circle cx="302.26" cy="142.05" r="1.35" fill="#dcdcdc" stroke="#363636" stroke-width="0.55"/>
<circle cx="365.64" cy="103.78" r="1.35" fill="#ddab9b" stroke="#7a4646" stroke-width="0.65"/>
<circle cx="321.91" cy="123.64" r="1.35" fill="#dcdcdc" stroke="#363636" stroke-width="0.55"/>
<circle cx="328.55" cy="107.66" r="1.35" fill="#dcdcdc" stroke="#363636" stroke-width="0.55"/>
<circle cx="309.72" cy="143.58" r="1.35" fill="#dcdcdc" stroke="#363636" stroke-width="0.55"/>
<circle cx="344.00" cy="133.68" r="1.35" fill="#dcdcdc" stroke="#363636" stroke-width="0.55"/>
<circle cx="306.19" cy="138.57" r="1.35" fill="#dcdcdc" stroke="#363636" stroke-width="0.55"/>
<circle cx="338.79" cy="128.40" r="1.35" fill="#dcdcdc" stroke="#363636" stroke-width="0.55"/>
<circle cx="292.93" cy="126.85" r="1.35" fill="#dcdcdc" stroke="#363636" stroke-width="0.55"/>
<circle cx="285.39" cy="130.32" r="1.35" fill="#dcdcdc" stroke="#363636" stroke-width="0.55"/>
<circle cx="309.89" cy="141.79" r="1.35" fill="#dcdcdc" stroke="#363636" stroke-width="0.55"/>
<circle cx="335.46" cy="112.12" r="1.35" fill="#dcdcdc" stroke="#363636" stroke-width="0.55"/>
<circle cx="346.33" cy="110.04" r="1.35" fill="#dcbfbc" stroke="#7a4646" stroke-width="0.65"/>
<circle cx="321.69" cy="142.45" r="1.35" fill="#dcdcdc" stroke="#363636" stroke-width="0.55"/>
<circle cx="323.37" cy="142.56" r="1.35" fill="#dcdcdc" stroke="#363636" stroke-width="0.55"/>
<circle cx="300.47" cy="139.17" r="1.35" fill="#dcdcdc" stroke="#363636" stroke-width="0.55"/>
<circle cx="327.73" cy="139.81" r="1.35" fill="#dcdcdc" stroke="#363636" stroke-width="0.55"/>
<circle cx="322.62" cy="132.86" r="1.35" fill="#dcdcdc" stroke="#363636" stroke-width="0.55"/>
<circle cx="318.27" cy="137.24" r="1.35" fill="#dcdcdc" stroke="#363636" stroke-width="0.55"/>
<circle cx="281.85" cy="129.24" r="1.35" fill="#dcdcdc" stroke="#363636" stroke-width="0.55"/>
<circle cx="340.47" cy="132.79" r="1.35" fill="#dcdcdc" stroke="#363636" stroke-width="0.55"/>
<circle cx="331.45" cy="128.65" r="1.35" fill="#dcdcdc" stroke="#363636" stroke-width="0.55"/>
<circle cx="327.00" cy="130.86" r="1.35" fill="#dcdcdc" stroke="#363636" stroke-width="0.55"/>
<circle cx="316.73" cy="139.92" r="1.35" fill="#dcdcdc" stroke="#363636" stroke-width="0.55"/>
<circle cx="295.71" cy="117.68" r="1.35" fill="#dcdcdc" stroke="#363636" stroke-width="0.55"/>
<circle cx="308.67" cy="144.82" r="1.35" fill="#dcdcdc" stroke="#363636" stroke-width="0.55"/>
<circle cx="345.07" cy="107.89" r="1.35" fill="#dcc1be" stroke="#7a4646" stroke-width="0.65"/>
<circle cx="309.19" cy="142.83" r="1.35" fill="#dcdcdc" stroke="#363636" stroke-width="0.55"/>
<circle cx="344.50" cy="104.61" r="1.35" fill="#dcc1bf" stroke="#7a4646" stroke-width="0.65"/>
<circle cx="301.58" cy="141.61" r="1.35" fill="#dcdcdc" stroke="#363636" stroke-width="0.55"/>
<circle cx="345.14" cy="122.39" r="1.35" fill="#dcc1be" stroke="#7a4646" stroke-width="0.65"/>
<circle cx="337.08" cy="127.91" r="1.35" fill="#dcdcdc" stroke="#363636" stroke-width="0.55"/>
<circle cx="310.64" cy="144.81" r="1.35" fill="#dcdcdc" stroke="#363636" stroke-width="0.55"/>
<circle cx="308.79" cy="144.94" r="1.35" fill="#dcdcdc" stroke="#363636" stroke-width="0.55"/>
<circle cx="318.51" cy="115.43" r="1.35" fill="#dcdcdc" stroke="#363636" stroke-width="0.55"/>
<circle cx="337.78" cy="121.03" r="1.35" fill="#dcdcdc" stroke="#363636" stroke-width="0.55"/>
<circle cx="310.35" cy="144.13" r="1.35" fill="#dcdcdc" stroke="#363636" stroke-width="0.55"/>
<circle cx="316.06" cy="142.80" r="1.35" fill="#dcdcdc" stroke="#363636" stroke-width="0.55"/>
<circle cx="350.33" cy="109.77" r="1.35" fill="#ddbbb5" stroke="#7a4646" stroke-width="0.65"/>
<circle cx="332.92" cy="105.64" r="1.35" fill="#dcdcdc" stroke="#363636" stroke-width="0.55"/>
<circle cx="319.98" cy="141.92" r="1.35" fill="#dcdcdc" stroke="#363636" stroke-width="0.55"/>
<circle cx="308.16" cy="144.58" r="1.35" fill="#dcdcdc" stroke="#363636" stroke-width="0.55"/>
<circle cx="300.08" cy="139.41" r="1.35" fill="#dcdcdc" stroke="#363636" stroke-width="0.55"/>
<circle cx="295.31" cy="116.43" r="1.35" fill="#dcdcdc" stroke="#363636" stroke-width="0.55"/>
<circle cx="329.61" cy="131.80" r="1.35" fill="#dcdcdc" stroke="#363636" stroke-width="0.55"/>
<circle cx="302.44" cy="138.87" r="1.35" fill="#dcdcdc" stroke="#363636" stroke-width="0.55"/>
<circle cx="293.76" cy="131.84" r="1.35" fill="#dcdcdc" stroke="#363636" stroke-width="0.55"/>
<circle cx="319.08" cy="131.53" r="1.35" fill="#dcdcdc" stroke="#363636" stroke-width="0.55"/>
<circle cx="324.64" cy="138.30" r="1.35" fill="#dcdcdc" stroke="#363636" stroke-width="0.55"/>
<circle cx="303.03" cy="133.12" r="1.35" fill="#dcdcdc" stroke="#363636" stroke-width="0.55"/>
<circle cx="335.60" cy="127.37" r="1.35" fill="#dcdcdc" stroke="#363636" stroke-width="0.55"/>
<circle cx="332.57" cy="137.27" r="1.35" fill="#dcdcdc" stroke="#363636" stroke-width="0.55"/>
<circle cx="297.11" cy="139.29" r="1.35" fill="#dcdcdc" stroke="#363636" stroke-width="0.55"/>
<circle cx="321.54" cy="141.38" r="1.35" fill="#dcdcdc" stroke="#363636" stroke-width="0.55"/>
<circle cx="316.72" cy="143.80" r="1.35" fill="#dcdcdc" stroke="#363636" stroke-width="0.55"/>
<circle cx="303.98" cy="118.59" r="1.35" fill="#dcdcdc" stroke="#363636" stroke-width="0.55"/>
<circle cx="323.37" cy="141.97" r="1.35" fill="#dcdcdc" stroke="#363636" stroke-width="0.55"/>
<circle cx="297.68" cy="103.02" r="1.35" fill="#dcdcdc" stroke="#363636" stroke-width="0.55"/>
<circle cx="329.10" cy="139.98" r="1.35" fill="#dcdcdc" stroke="#363636" stroke-width="0.55"/>
<circle cx="317.02" cy="126.76" r="1.35" fill="#dcdcdc" stroke="#363636" stroke-width="0.55"/>
<circle cx="348.30" cy="125.56" r="1.35" fill="#dcdcdc" stroke="#363636" stroke-width="0.55"/>
<circle cx="307.19" cy="123.07" r="1.35" fill="#dcdcdc" stroke="#363636" stroke-width="0.55"/>
<circle cx="283.20" cy="136.96" r="1.35" fill="#dcdcdc" stroke="#363636" stroke-width="0.55"/>
<circle cx="316.36" cy="139.77" r="1.35" fill="#dcdcdc" stroke="#363636" stroke-width="0.55"/>
<circle cx="335.02" cy="107.41" r="1.35" fill="#dcdcdc" stroke="#363636" stroke-width="0.55"/>
<circle cx="325.02" cy="119.49" r="1.35" fill="#dcdcdc" stroke="#363636" stroke-width="0.55"/>
<circle cx="331.46" cy="82.28" r="1.35" fill="#dcdcdc" stroke="#363636" stroke-width="0.55"/>
<circle cx="314.23" cy="144.91" r="1.35" fill="#dcdcdc" stroke="#363636" stroke-width="0.55"/>
<circle cx="309.98" cy="144.45" r="1.35" fill="#dcdcdc" stroke="#363636" stroke-width="0.55"/>
<circle cx="295.93" cy="135.24" r="1.35" fill="#dcdcdc" stroke="#363636" stroke-width="0.55"/>
<circle cx="309.28" cy="142.95" r="1.35" fill="#dcdcdc" stroke="#363636" stroke-width="0.55"/>
<circle cx="300.84" cy="138.48" r="1.35" fill="#dcdcdc" stroke="#363636" stroke-width="0.55"/>
<circle cx="327.33" cy="137.21" r="1.35" fill="#dcdcdc" stroke="#363636" stroke-width="0.55"/>
<circle cx="286.89" cy="112.65" r="1.35" fill="#dcdcdc" stroke="#363636" stroke-width="0.55"/>
<circle cx="319.48" cy="142.10" r="1.35" fill="#dcdcdc" stroke="#363636" stroke-width="0.55"/>
<circle cx="318.08" cy="142.21" r="1.35" fill="#dcdcdc" stroke="#363636" stroke-width="0.55"/>
<circle cx="306.68" cy="136.52" r="1.35" fill="#dcdcdc" stroke="#363636" stroke-width="0.55"/>
<circle cx="323.05" cy="86.27" r="1.35" fill="#dcdcdc" stroke="#363636" stroke-width="0.55"/>
<circle cx="303.78" cy="142.65" r="1.35" fill="#dcdcdc" stroke="#363636" stroke-width="0.55"/>
<circle cx="305.90" cy="143.57" r="1.35" fill="#dcdcdc" stroke="#363636" stroke-width="0.55"/>
<circle cx="314.46" cy="144.52" r="1.35" fill="#dcdcdc" stroke="#363636" stroke-width="0.55"/>
<circle cx="323.05" cy="139.95" r="1.35" fill="#dcdcdc" stroke="#363636" stroke-width="0.55"/>
<circle cx="318.70" cy="141.43" r="1.35" fill="#dcdcdc" stroke="#363636" stroke-width="0.55"/>
<circle cx="299.26" cy="126.18" r="1.35" fill="#dcdcdc" stroke="#363636" stroke-width="0.55"/>
<circle cx="334.36" cy="133.88" r="1.35" fill="#dcdcdc" stroke="#363636" stroke-width="0.55"/>
<circle cx="320.36" cy="143.07" r="1.35" fill="#dcdcdc" stroke="#363636" stroke-width="0.55"/>
<circle cx="339.91" cy="100.76" r="1.35" fill="#dcdcdc" stroke="#363636" stroke-width="0.55"/>
<circle cx="335.59" cy="133.35" r="1.35" fill="#dcdcdc" stroke="#363636" stroke-width="0.55"/>
<circle cx="303.37" cy="139.95" r="1.35" fill="#dcdcdc" stroke="#363636" stroke-width="0.55"/>
<circle cx="301.16" cy="100.58" r="1.35" fill="#dcdcdc" stroke="#363636" stroke-width="0.55"/>
<circle cx="301.06" cy="116.76" r="1.35" fill="#dcdcdc" stroke="#363636" stroke-width="0.55"/>
<circle cx="316.93" cy="134.02" r="1.35" fill="#dcdcdc" stroke="#363636" stroke-width="0.55"/>
<circle cx="307.23" cy="128.15" r="1.35" fill="#dcdcdc" stroke="#363636" stroke-width="0.55"/>
<circle cx="325.15" cy="102.46" r="1.35" fill="#dcdcdc" stroke="#363636" stroke-width="0.55"/>
<circle cx="328.07" cy="93.82" r="1.35" fill="#dcdcdc" stroke="#363636" stroke-width="0.55"/>
<circle cx="338.35" cy="106.62" r="1.35" fill="#dcdcdc" stroke="#363636" stroke-width="0.55"/>
<circle cx="295.37" cy="132.35" r="1.35" fill="#dcdcdc" stroke="#363636" stroke-width="0.55"/>
<circle cx="328.98" cy="126.27" r="1.35" fill="#dcdcdc" stroke="#363636" stroke-width="0.55"/>
<circle cx="314.75" cy="145.41" r="1.35" fill="#dcdcdc" stroke="#363636" stroke-width="0.55"/>
<circle cx="322.27" cy="97.91" r="1.35" fill="#dcdcdc" stroke="#363636" stroke-width="0.55"/>
<circle cx="290.54" cy="115.59" r="1.35" fill="#dcdcdc" stroke="#363636" stroke-width="0.55"/>
<circle cx="292.36" cy="132.91" r="1.35" fill="#dcdcdc" stroke="#363636" stroke-width="0.55"/>
<circle cx="346.53" cy="114.07" r="1.35" fill="#dcbfbb" stroke="#7a4646" stroke-width="0.65"/>
<circle cx="345.73" cy="136.31" r="1.35" fill="#dcdcdc" stroke="#363636" stroke-width="0.55"/>
<circle cx="325.70" cy="140.42" r="1.35" fill="#dcdcdc" stroke="#363636" stroke-width="0.55"/>
<circle cx="296.52" cy="138.73" r="1.35" fill="#dcdcdc" stroke="#363636" stroke-width="0.55"/>
<circle cx="308.60" cy="144.23" r="1.35" fill="#dcdcdc" stroke="#363636" stroke-width="0.55"/>
<circle cx="303.72" cy="142.41" r="1.35" fill="#dcdcdc" stroke="#363636" stroke-width="0.55"/>
<circle cx="304.69" cy="139.98" r="1.35" fill="#dcdcdc" stroke="#363636" stroke-width="0.55"/>
<circle cx="316.85" cy="140.80" r="1.35" fill="#dcdcdc" stroke="#363636" stroke-width="0.55"/>
<circle cx="297.56" cy="93.26" r="1.35" fill="#dcdcdc" stroke="#363636" stroke-width="0.55"/>
<circle cx="310.48" cy="144.39" r="1.35" fill="#dcdcdc" stroke="#363636" stroke-width="0.55"/>
<circle cx="338.91" cy="138.49" r="1.35" fill="#dcdcdc" stroke="#363636" stroke-width="0.55"/>
<circle cx="306.68" cy="129.90" r="1.35" fill="#dcdcdc" stroke="#363636" stroke-width="0.55"/>
<circle cx="272.55" cy="128.64" r="1.35" fill="#dcdcdc" stroke="#363636" stroke-width="0.55"/>
<circle cx="326.47" cy="108.14" r="1.35" fill="#dcdcdc" stroke="#363636" stroke-width="0.55"/>
<circle cx="310.19" cy="144.55" r="1.35" fill="#dcdcdc" stroke="#363636" stroke-width="0.55"/>
<circle cx="307.00" cy="144.48" r="1.35" fill="#dcdcdc" stroke="#363636" stroke-width="0.55"/>
<circle cx="348.02" cy="123.10" r="1.35" fill="#dcdcdc" stroke="#363636" stroke-width="0.55"/>
<circle cx="367.81" cy="84.14" r="1.35" fill="#dda898" stroke="#7a4646" stroke-width="0.65"/>
<circle cx="315.24" cy="144.85" r="1.35" fill="#dcdcdc" stroke="#363636" stroke-width="0.55"/>
<circle cx="322.50" cy="142.04" r="1.35" fill="#dcdcdc" stroke="#363636" stroke-width="0.55"/>
<circle cx="318.83" cy="142.91" r="1.35" fill="#dcdcdc" stroke="#363636" stroke-width="0.55"/>
<circle cx="306.07" cy="119.81" r="1.35" fill="#dcdcdc" stroke="#363636" stroke-width="0.55"/>
<circle cx="304.24" cy="142.64" r="1.35" fill="#dcdcdc" stroke="#363636" stroke-width="0.55"/>
<circle cx="347.46" cy="102.99" r="1.35" fill="#dcbeba" stroke="#7a4646" stroke-width="0.65"/>
<circle cx="322.37" cy="102.84" r="1.35" fill="#dcdcdc" stroke="#363636" stroke-width="0.55"/>
<circle cx="277.92" cy="99.41" r="1.35" fill="#dcdcdc" stroke="#363636" stroke-width="0.55"/>
<circle cx="341.26" cy="88.29" r="1.35" fill="#dcdcdc" stroke="#363636" stroke-width="0.55"/>
<circle cx="342.64" cy="136.32" r="1.35" fill="#dcdcdc" stroke="#363636" stroke-width="0.55"/>
<circle cx="287.12" cy="95.22" r="1.35" fill="#dcdcdc" stroke="#363636" stroke-width="0.55"/>
<circle cx="290.02" cy="97.53" r="1.35" fill="#dcdcdc" stroke="#363636" stroke-width="0.55"/>
<circle cx="344.58" cy="111.68" r="1.35" fill="#dcc1bf" stroke="#7a4646" stroke-width="0.65"/>
<circle cx="315.34" cy="142.30" r="1.35" fill="#dcdcdc" stroke="#363636" stroke-width="0.55"/>
<circle cx="305.81" cy="127.01" r="1.35" fill="#dcdcdc" stroke="#363636" stroke-width="0.55"/>
<circle cx="318.97" cy="138.29" r="1.35" fill="#dcdcdc" stroke="#363636" stroke-width="0.55"/>
<circle cx="295.44" cy="133.61" r="1.35" fill="#dcdcdc" stroke="#363636" stroke-width="0.55"/>
<circle cx="287.24" cy="128.33" r="1.35" fill="#dcdcdc" stroke="#363636" stroke-width="0.55"/>
<circle cx="330.34" cy="136.21" r="1.35" fill="#dcdcdc" stroke="#363636" stroke-width="0.55"/>
<circle cx="305.94" cy="134.75" r="1.35" fill="#dcdcdc" stroke="#363636" stroke-width="0.55"/>
<circle cx="296.45" cy="93.51" r="1.35" fill="#dcdcdc" stroke="#363636" stroke-width="0.55"/>
<circle cx="303.08" cy="141.11" r="1.35" fill="#dcdcdc" stroke="#363636" stroke-width="0.55"/>
<circle cx="293.86" cy="133.00" r="1.35" fill="#dcdcdc" stroke="#363636" stroke-width="0.55"/>
<circle cx="293.59" cy="131.63" r="1.35" fill="#dcdcdc" stroke="#363636" stroke-width="0.55"/>
<circle cx="336.70" cy="110.88" r="1.35" fill="#dcdcdc" stroke="#363636" stroke-width="0.55"/>
<circle cx="345.68" cy="123.91" r="1.35" fill="#dcdcdc" stroke="#363636" stroke-width="0.55"/>
<circle cx="318.90" cy="123.59" r="1.35" fill="#dcdcdc" stroke="#363636" stroke-width="0.55"/>
<circle cx="290.51" cy="131.83" r="1.35" fill="#dcdcdc" stroke="#363636" stroke-width="0.55"/>
<circle cx="346.74" cy="105.64" r="1.35" fill="#dcbfbb" stroke="#7a4646" stroke-width="0.65"/>
<circle cx="324.15" cy="140.49" r="1.35" fill="#dcdcdc" stroke="#363636" stroke-width="0.55"/>
<circle cx="333.49" cy="116.62" r="1.35" fill="#dcdcdc" stroke="#363636" stroke-width="0.55"/>
<circle cx="325.34" cy="140.37" r="1.35" fill="#dcdcdc" stroke="#363636" stroke-width="0.55"/>
<circle cx="304.48" cy="140.63" r="1.35" fill="#dcdcdc" stroke="#363636" stroke-width="0.55"/>
<circle cx="341.65" cy="130.23" r="1.35" fill="#dcdcdc" stroke="#363636" stroke-width="0.55"/>
<circle cx="280.41" cy="119.08" r="1.35" fill="#dcdcdc" stroke="#363636" stroke-width="0.55"/>
<circle cx="309.70" cy="143.35" r="1.35" fill="#dcdcdc" stroke="#363636" stroke-width="0.55"/>
<circle cx="284.07" cy="74.74" r="1.35" fill="#dcdcdc" stroke="#363636" stroke-width="0.55"/>
<circle cx="291.68" cy="99.91" r="1.35" fill="#dcdcdc" stroke="#363636" stroke-width="0.55"/>
<circle cx="314.79" cy="145.34" r="1.35" fill="#dcdcdc" stroke="#363636" stroke-width="0.55"/>
<circle cx="323.54" cy="115.88" r="1.35" fill="#dcdcdc" stroke="#363636" stroke-width="0.55"/>
<circle cx="330.07" cy="61.52" r="1.35" fill="#dcdcdc" stroke="#363636" stroke-width="0.55"/>
<circle cx="321.00" cy="120.88" r="1.35" fill="#dcdcdc" stroke="#363636" stroke-width="0.55"/>
<circle cx="279.87" cy="121.61" r="1.35" fill="#dcdcdc" stroke="#363636" stroke-width="0.55"/>
<circle cx="330.25" cy="134.51" r="1.35" fill="#dcdcdc" stroke="#363636" stroke-width="0.55"/>
<circle cx="297.16" cy="112.23" r="1.35" fill="#dcdcdc" stroke="#363636" stroke-width="0.55"/>
<circle cx="325.28" cy="85.36" r="1.35" fill="#dcdcdc" stroke="#363636" stroke-width="0.55"/>
<circle cx="355.17" cy="124.26" r="1.35" fill="#dcdcdc" stroke="#363636" stroke-width="0.55"/>
<circle cx="314.14" cy="144.02" r="1.35" fill="#dcdcdc" stroke="#363636" stroke-width="0.55"/>
<circle cx="322.36" cy="112.78" r="1.35" fill="#dcdcdc" stroke="#363636" stroke-width="0.55"/>
<circle cx="305.10" cy="120.22" r="1.35" fill="#dcdcdc" stroke="#363636" stroke-width="0.55"/>
<circle cx="362.60" cy="109.66" r="1.35" fill="#ddaea0" stroke="#7a4646" stroke-width="0.65"/>
<circle cx="338.77" cy="133.69" r="1.35" fill="#dcdcdc" stroke="#363636" stroke-width="0.55"/>
<circle cx="306.81" cy="139.46" r="1.35" fill="#dcdcdc" stroke="#363636" stroke-width="0.55"/>
<circle cx="302.67" cy="138.85" r="1.35" fill="#dcdcdc" stroke="#363636" stroke-width="0.55"/>
<circle cx="298.61" cy="91.84" r="1.35" fill="#dcdcdc" stroke="#363636" stroke-width="0.55"/>
<circle cx="295.43" cy="126.30" r="1.35" fill="#dcdcdc" stroke="#363636" stroke-width="0.55"/>
<circle cx="279.11" cy="131.49" r="1.35" fill="#dcdcdc" stroke="#363636" stroke-width="0.55"/>
<circle cx="314.59" cy="144.59" r="1.35" fill="#dcdcdc" stroke="#363636" stroke-width="0.55"/>
<circle cx="299.32" cy="135.69" r="1.35" fill="#dcdcdc" stroke="#363636" stroke-width="0.55"/>
<circle cx="337.07" cy="104.55" r="1.35" fill="#dcdcdc" stroke="#363636" stroke-width="0.55"/>
<circle cx="320.04" cy="132.89" r="1.35" fill="#dcdcdc" stroke="#363636" stroke-width="0.55"/>
<circle cx="323.45" cy="124.64" r="1.35" fill="#dcdcdc" stroke="#363636" stroke-width="0.55"/>
<circle cx="279.09" cy="119.35" r="1.35" fill="#dcdcdc" stroke="#363636" stroke-width="0.55"/>
<circle cx="301.83" cy="140.11" r="1.35" fill="#dcdcdc" stroke="#363636" stroke-width="0.55"/>
<circle cx="310.36" cy="143.81" r="1.35" fill="#dcdcdc" stroke="#363636" stroke-width="0.55"/>
<circle cx="281.33" cy="116.46" r="1.35" fill="#dcdcdc" stroke="#363636" stroke-width="0.55"/>
<circle cx="294.46" cy="123.64" r="1.35" fill="#dcdcdc" stroke="#363636" stroke-width="0.55"/>
<circle cx="303.19" cy="113.63" r="1.35" fill="#dcdcdc" stroke="#363636" stroke-width="0.55"/>
<circle cx="317.47" cy="121.61" r="1.35" fill="#dcdcdc" stroke="#363636" stroke-width="0.55"/>
<circle cx="299.80" cy="131.32" r="1.35" fill="#dcdcdc" stroke="#363636" stroke-width="0.55"/>
<circle cx="326.71" cy="91.99" r="1.35" fill="#dcdcdc" stroke="#363636" stroke-width="0.55"/>
<circle cx="345.21" cy="107.90" r="1.35" fill="#dcc1bd" stroke="#7a4646" stroke-width="0.65"/>
<circle cx="321.04" cy="125.58" r="1.35" fill="#dcdcdc" stroke="#363636" stroke-width="0.55"/>
<circle cx="290.42" cy="102.37" r="1.35" fill="#dcdcdc" stroke="#363636" stroke-width="0.55"/>
<circle cx="329.49" cy="113.78" r="1.35" fill="#dcdcdc" stroke="#363636" stroke-width="0.55"/>
<circle cx="300.29" cy="137.36" r="1.35" fill="#dcdcdc" stroke="#363636" stroke-width="0.55"/>
<circle cx="337.35" cy="124.85" r="1.35" fill="#dcdcdc" stroke="#363636" stroke-width="0.55"/>
<circle cx="291.29" cy="112.70" r="1.35" fill="#dcdcdc" stroke="#363636" stroke-width="0.55"/>
<circle cx="356.42" cy="103.71" r="1.35" fill="#ddb5ab" stroke="#7a4646" stroke-width="0.65"/>
<circle cx="325.50" cy="129.40" r="1.35" fill="#dcdcdc" stroke="#363636" stroke-width="0.55"/>
<circle cx="325.25" cy="127.71" r="1.35" fill="#dcdcdc" stroke="#363636" stroke-width="0.55"/>
<circle cx="329.27" cy="114.73" r="1.35" fill="#dcdcdc" stroke="#363636" stroke-width="0.55"/>
<circle cx="320.73" cy="129.62" r="1.35" fill="#dcdcdc" stroke="#363636" stroke-width="0.55"/>
<circle cx="333.31" cy="129.67" r="1.35" fill="#dcdcdc" stroke="#363636" stroke-width="0.55"/>
<circle cx="305.25" cy="138.40" r="1.35" fill="#dcdcdc" stroke="#363636" stroke-width="0.55"/>
<circle cx="296.36" cy="120.37" r="1.35" fill="#dcdcdc" stroke="#363636" stroke-width="0.55"/>
<circle cx="306.63" cy="139.72" r="1.35" fill="#dcdcdc" stroke="#363636" stroke-width="0.55"/>
<circle cx="306.84" cy="144.25" r="1.35" fill="#dcdcdc" stroke="#363636" stroke-width="0.55"/>
<circle cx="325.15" cy="117.39" r="1.35" fill="#dcdcdc" stroke="#363636" stroke-width="0.55"/>
<circle cx="341.56" cy="135.50" r="1.35" fill="#dcdcdc" stroke="#363636" stroke-width="0.55"/>
<circle cx="300.72" cy="140.91" r="1.35" fill="#dcdcdc" stroke="#363636" stroke-width="0.55"/>
<circle cx="317.55" cy="134.09" r="1.35" fill="#dcdcdc" stroke="#363636" stroke-width="0.55"/>
<circle cx="323.79" cy="139.89" r="1.35" fill="#dcdcdc" stroke="#363636" stroke-width="0.55"/>
<circle cx="330.27" cy="127.99" r="1.35" fill="#dcdcdc" stroke="#363636" stroke-width="0.55"/>
<circle cx="303.66" cy="107.57" r="1.35" fill="#dcdcdc" stroke="#363636" stroke-width="0.55"/>
<circle cx="327.48" cy="141.12" r="1.35" fill="#dcdcdc" stroke="#363636" stroke-width="0.55"/>
<circle cx="334.05" cy="119.25" r="1.35" fill="#dcdcdc" stroke="#363636" stroke-width="0.55"/>
<circle cx="308.63" cy="145.03" r="1.35" fill="#dcdcdc" stroke="#363636" stroke-width="0.55"/>
<circle cx="326.35" cy="129.22" r="1.35" fill="#dcdcdc" stroke="#363636" stroke-width="0.55"/>
<circle cx="290.63" cy="113.42" r="1.35" fill="#dcdcdc" stroke="#363636" stroke-width="0.55"/>
<circle cx="339.44" cy="111.60" r="1.35" fill="#dcdcdc" stroke="#363636" stroke-width="0.55"/>
<circle cx="319.10" cy="117.04" r="1.35" fill="#dcdcdc" stroke="#363636" stroke-width="0.55"/>
<circle cx="299.68" cy="112.34" r="1.35" fill="#dcdcdc" stroke="#363636" stroke-width="0.55"/>
<circle cx="319.81" cy="116.96" r="1.35" fill="#dcdcdc" stroke="#363636" stroke-width="0.55"/>
<circle cx="336.16" cy="137.83" r="1.35" fill="#dcdcdc" stroke="#363636" stroke-width="0.55"/>
<circle cx="307.04" cy="145.00" r="1.35" fill="#dcdcdc" stroke="#363636" stroke-width="0.55"/>
<circle cx="329.74" cy="75.93" r="1.35" fill="#dcdcdc" stroke="#363636" stroke-width="0.55"/>
<circle cx="294.55" cy="105.93" r="1.35" fill="#dcdcdc" stroke="#363636" stroke-width="0.55"/>
<circle cx="306.21" cy="124.12" r="1.35" fill="#dcdcdc" stroke="#363636" stroke-width="0.55"/>
<circle cx="339.69" cy="125.88" r="1.35" fill="#dcdcdc" stroke="#363636" stroke-width="0.55"/>
<circle cx="335.38" cy="138.64" r="1.35" fill="#dcdcdc" stroke="#363636" stroke-width="0.55"/>
<circle cx="349.05" cy="114.54" r="1.35" fill="#dcbcb7" stroke="#7a4646" stroke-width="0.65"/>
<circle cx="306.90" cy="141.22" r="1.35" fill="#dcdcdc" stroke="#363636" stroke-width="0.55"/>
<circle cx="343.24" cy="128.72" r="1.35" fill="#dcdcdc" stroke="#363636" stroke-width="0.55"/>
<circle cx="323.27" cy="102.91" r="1.35" fill="#dcdcdc" stroke="#363636" stroke-width="0.55"/>
<circle cx="278.63" cy="109.67" r="1.35" fill="#dcdcdc" stroke="#363636" stroke-width="0.55"/>
<circle cx="318.01" cy="132.66" r="1.35" fill="#dcdcdc" stroke="#363636" stroke-width="0.55"/>
<circle cx="321.08" cy="134.84" r="1.35" fill="#dcdcdc" stroke="#363636" stroke-width="0.55"/>
<circle cx="335.53" cy="135.75" r="1.35" fill="#dcdcdc" stroke="#363636" stroke-width="0.55"/>
<circle cx="349.15" cy="115.19" r="1.35" fill="#dcbcb7" stroke="#7a4646" stroke-width="0.65"/>
<circle cx="288.85" cy="122.08" r="1.35" fill="#dcdcdc" stroke="#363636" stroke-width="0.55"/>
<circle cx="288.83" cy="136.60" r="1.35" fill="#dcdcdc" stroke="#363636" stroke-width="0.55"/>
<circle cx="316.77" cy="140.67" r="1.35" fill="#dcdcdc" stroke="#363636" stroke-width="0.55"/>
<circle cx="335.79" cy="139.15" r="1.35" fill="#dcdcdc" stroke="#363636" stroke-width="0.55"/>
<circle cx="348.10" cy="107.61" r="1.35" fill="#dcbdb9" stroke="#7a4646" stroke-width="0.65"/>
<circle cx="320.73" cy="140.97" r="1.35" fill="#dcdcdc" stroke="#363636" stroke-width="0.55"/>
<circle cx="287.01" cy="126.54" r="1.35" fill="#dcdcdc" stroke="#363636" stroke-width="0.55"/>
<circle cx="333.62" cy="82.99" r="1.35" fill="#dcdcdc" stroke="#363636" stroke-width="0.55"/>
<circle cx="294.77" cy="118.59" r="1.35" fill="#dcdcdc" stroke="#363636" stroke-width="0.55"/>
<circle cx="318.57" cy="133.87" r="1.35" fill="#dcdcdc" stroke="#363636" stroke-width="0.55"/>
<circle cx="296.31" cy="132.80" r="1.35" fill="#dcdcdc" stroke="#363636" stroke-width="0.55"/>
<circle cx="295.59" cy="138.17" r="1.35" fill="#dcdcdc" stroke="#363636" stroke-width="0.55"/>
<circle cx="303.82" cy="101.10" r="1.35" fill="#dcdcdc" stroke="#363636" stroke-width="0.55"/>
<circle cx="304.88" cy="142.02" r="1.35" fill="#dcdcdc" stroke="#363636" stroke-width="0.55"/>
<circle cx="310.48" cy="145.35" r="1.35" fill="#dcdcdc" stroke="#363636" stroke-width="0.55"/>
<circle cx="317.13" cy="143.50" r="1.35" fill="#dcdcdc" stroke="#363636" stroke-width="0.55"/>
<circle cx="300.26" cy="142.16" r="1.35" fill="#dcdcdc" stroke="#363636" stroke-width="0.55"/>
<circle cx="334.78" cy="83.28" r="1.35" fill="#dcdcdc" stroke="#363636" stroke-width="0.55"/>
<circle cx="307.88" cy="140.34" r="1.35" fill="#dcdcdc" stroke="#363636" stroke-width="0.55"/>
<circle cx="276.50" cy="89.95" r="1.35" fill="#dcdcdc" stroke="#363636" stroke-width="0.55"/>
<circle cx="297.64" cy="124.16" r="1.35" fill="#dcdcdc" stroke="#363636" stroke-width="0.55"/>
<circle cx="309.01" cy="144.84" r="1.35" fill="#dcdcdc" stroke="#363636" stroke-width="0.55"/>
<circle cx="339.87" cy="91.83" r="1.35" fill="#dcdcdc" stroke="#363636" stroke-width="0.55"/>
<circle cx="297.71" cy="115.52" r="1.35" fill="#dcdcdc" stroke="#363636" stroke-width="0.55"/>
<circle cx="353.22" cy="134.80" r="1.35" fill="#dcdcdc" stroke="#363636" stroke-width="0.55"/>
<circle cx="302.14" cy="139.00" r="1.35" fill="#dcdcdc" stroke="#363636" stroke-width="0.55"/>
<circle cx="314.69" cy="140.03" r="1.35" fill="#dcdcdc" stroke="#363636" stroke-width="0.55"/>
<circle cx="322.68" cy="141.84" r="1.35" fill="#dcdcdc" stroke="#363636" stroke-width="0.55"/>
<circle cx="341.71" cy="123.45" r="1.35" fill="#dcdcdc" stroke="#363636" stroke-width="0.55"/>
<circle cx="331.39" cy="113.07" r="1.35" fill="#dcdcdc" stroke="#363636" stroke-width="0.55"/>
<circle cx="328.59" cy="122.41" r="1.35" fill="#dcdcdc" stroke="#363636" stroke-width="0.55"/>
<circle cx="328.11" cy="123.31" r="1.35" fill="#dcdcdc" stroke="#363636" stroke-width="0.55"/>
<circle cx="319.12" cy="144.62" r="1.35" fill="#dcdcdc" stroke="#363636" stroke-width="0.55"/>
<circle cx="339.33" cy="106.42" r="1.35" fill="#dcdcdc" stroke="#363636" stroke-width="0.55"/>
<circle cx="342.28" cy="132.84" r="1.35" fill="#dcdcdc" stroke="#363636" stroke-width="0.55"/>
<circle cx="318.24" cy="132.91" r="1.35" fill="#dcdcdc" stroke="#363636" stroke-width="0.55"/>
<circle cx="320.99" cy="143.17" r="1.35" fill="#dcdcdc" stroke="#363636" stroke-width="0.55"/>
<circle cx="304.53" cy="129.32" r="1.35" fill="#dcdcdc" stroke="#363636" stroke-width="0.55"/>
<circle cx="356.91" cy="113.31" r="1.35" fill="#ddb4aa" stroke="#7a4646" stroke-width="0.65"/>
<circle cx="332.83" cy="117.09" r="1.35" fill="#dcdcdc" stroke="#363636" stroke-width="0.55"/>
<circle cx="325.31" cy="115.42" r="1.35" fill="#dcdcdc" stroke="#363636" stroke-width="0.55"/>
<circle cx="344.09" cy="105.51" r="1.35" fill="#dcc2bf" stroke="#7a4646" stroke-width="0.65"/>
<circle cx="308.43" cy="145.21" r="1.35" fill="#dcdcdc" stroke="#363636" stroke-width="0.55"/>
<circle cx="308.46" cy="140.37" r="1.35" fill="#dcdcdc" stroke="#363636" stroke-width="0.55"/>
<circle cx="336.27" cy="96.41" r="1.35" fill="#dcdcdc" stroke="#363636" stroke-width="0.55"/>
<circle cx="319.59" cy="144.25" r="1.35" fill="#dcdcdc" stroke="#363636" stroke-width="0.55"/>
<circle cx="343.08" cy="73.26" r="1.35" fill="#dcdcdc" stroke="#363636" stroke-width="0.55"/>
<circle cx="320.17" cy="135.33" r="1.35" fill="#dcdcdc" stroke="#363636" stroke-width="0.55"/>
<circle cx="326.17" cy="132.22" r="1.35" fill="#dcdcdc" stroke="#363636" stroke-width="0.55"/>
<circle cx="319.92" cy="124.90" r="1.35" fill="#dcdcdc" stroke="#363636" stroke-width="0.55"/>
<circle cx="339.02" cy="97.92" r="1.35" fill="#dcdcdc" stroke="#363636" stroke-width="0.55"/>
<circle cx="307.57" cy="142.87" r="1.35" fill="#dcdcdc" stroke="#363636" stroke-width="0.55"/>
<circle cx="365.33" cy="95.69" r="1.35" fill="#ddab9c" stroke="#7a4646" stroke-width="0.65"/>
<circle cx="326.02" cy="137.23" r="1.35" fill="#dcdcdc" stroke="#363636" stroke-width="0.55"/>
<circle cx="343.29" cy="115.41" r="1.35" fill="#dcc3c1" stroke="#7a4646" stroke-width="0.65"/>
<circle cx="308.87" cy="141.45" r="1.35" fill="#dcdcdc" stroke="#363636" stroke-width="0.55"/>
<circle cx="305.56" cy="127.44" r="1.35" fill="#dcdcdc" stroke="#363636" stroke-width="0.55"/>
<circle cx="288.29" cy="120.70" r="1.35" fill="#dcdcdc" stroke="#363636" stroke-width="0.55"/>
<circle cx="308.58" cy="141.37" r="1.35" fill="#dcdcdc" stroke="#363636" stroke-width="0.55"/>
<circle cx="341.49" cy="95.38" r="1.35" fill="#dcdcdc" stroke="#363636" stroke-width="0.55"/>
<circle cx="309.92" cy="143.23" r="1.35" fill="#dcdcdc" stroke="#363636" stroke-width="0.55"/>
<circle cx="329.95" cy="133.61" r="1.35" fill="#dcdcdc" stroke="#363636" stroke-width="0.55"/>
<circle cx="292.19" cy="107.25" r="1.35" fill="#dcdcdc" stroke="#363636" stroke-width="0.55"/>
<circle cx="296.70" cy="128.47" r="1.35" fill="#dcdcdc" stroke="#363636" stroke-width="0.55"/>
<circle cx="324.24" cy="127.46" r="1.35" fill="#dcdcdc" stroke="#363636" stroke-width="0.55"/>
<circle cx="344.56" cy="125.17" r="1.35" fill="#dcdcdc" stroke="#363636" stroke-width="0.55"/>
<circle cx="329.00" cy="103.38" r="1.35" fill="#dcdcdc" stroke="#363636" stroke-width="0.55"/>
<circle cx="304.60" cy="131.87" r="1.35" fill="#dcdcdc" stroke="#363636" stroke-width="0.55"/>
<circle cx="350.19" cy="89.86" r="1.35" fill="#ddbbb5" stroke="#7a4646" stroke-width="0.65"/>
<circle cx="316.95" cy="144.08" r="1.35" fill="#dcdcdc" stroke="#363636" stroke-width="0.55"/>
<circle cx="296.05" cy="138.64" r="1.35" fill="#dcdcdc" stroke="#363636" stroke-width="0.55"/>
<circle cx="279.60" cy="126.50" r="1.35" fill="#dcdcdc" stroke="#363636" stroke-width="0.55"/>
<circle cx="286.99" cy="120.35" r="1.35" fill="#dcdcdc" stroke="#363636" stroke-width="0.55"/>
<circle cx="282.18" cy="92.33" r="1.35" fill="#dcdcdc" stroke="#363636" stroke-width="0.55"/>
<circle cx="300.78" cy="140.84" r="1.35" fill="#dcdcdc" stroke="#363636" stroke-width="0.55"/>
<circle cx="292.43" cy="119.24" r="1.35" fill="#dcdcdc" stroke="#363636" stroke-width="0.55"/>
<circle cx="310.58" cy="145.12" r="1.35" fill="#dcdcdc" stroke="#363636" stroke-width="0.55"/>
<circle cx="338.67" cy="81.50" r="1.35" fill="#dcdcdc" stroke="#363636" stroke-width="0.55"/>
<circle cx="328.40" cy="137.34" r="1.35" fill="#dcdcdc" stroke="#363636" stroke-width="0.55"/>
<circle cx="301.92" cy="132.87" r="1.35" fill="#dcdcdc" stroke="#363636" stroke-width="0.55"/>
<circle cx="290.11" cy="133.47" r="1.35" fill="#dcdcdc" stroke="#363636" stroke-width="0.55"/>
<circle cx="330.13" cy="136.88" r="1.35" fill="#dcdcdc" stroke="#363636" stroke-width="0.55"/>
<circle cx="298.90" cy="138.44" r="1.35" fill="#dcdcdc" stroke="#363636" stroke-width="0.55"/>
<circle cx="293.01" cy="133.11" r="1.35" fill="#dcdcdc" stroke="#363636" stroke-width="0.55"/>
<circle cx="285.44" cy="119.26" r="1.35" fill="#dcdcdc" stroke="#363636" stroke-width="0.55"/>
<circle cx="352.32" cy="108.79" r="1.35" fill="#ddb9b2" stroke="#7a4646" stroke-width="0.65"/>
<circle cx="309.35" cy="142.20" r="1.35" fill="#dcdcdc" stroke="#363636" stroke-width="0.55"/>
<circle cx="288.95" cy="125.06" r="1.35" fill="#dcdcdc" stroke="#363636" stroke-width="0.55"/>
<circle cx="317.58" cy="132.03" r="1.35" fill="#dcdcdc" stroke="#363636" stroke-width="0.55"/>
<circle cx="303.27" cy="141.39" r="1.35" fill="#dcdcdc" stroke="#363636" stroke-width="0.55"/>
<circle cx="304.95" cy="122.83" r="1.35" fill="#dcdcdc" stroke="#363636" stroke-width="0.55"/>
<circle cx="297.17" cy="107.61" r="1.35" fill="#dcdcdc" stroke="#363636" stroke-width="0.55"/>
<circle cx="323.90" cy="124.89" r="1.35" fill="#dcdcdc" stroke="#363636" stroke-width="0.55"/>
<circle cx="292.63" cy="98.16" r="1.35" fill="#dcdcdc" stroke="#363636" stroke-width="0.55"/>
<circle cx="328.91" cy="139.21" r="1.35" fill="#dcdcdc" stroke="#363636" stroke-width="0.55"/>
<circle cx="307.71" cy="143.05" r="1.35" fill="#dcdcdc" stroke="#363636" stroke-width="0.55"/>
<circle cx="326.02" cy="138.64" r="1.35" fill="#dcdcdc" stroke="#363636" stroke-width="0.55"/>
<circle cx="322.72" cy="142.92" r="1.35" fill="#dcdcdc" stroke="#363636" stroke-width="0.55"/>
<circle cx="302.47" cy="110.33" r="1.35" fill="#dcdcdc" stroke="#363636" stroke-width="0.55"/>
<circle cx="343.57" cy="119.90" r="1.35" fill="#dcc2c0" stroke="#7a4646" stroke-width="0.65"/>
<circle cx="320.30" cy="114.67" r="1.35" fill="#dcdcdc" stroke="#363636" stroke-width="0.55"/>
<circle cx="279.59" cy="130.59" r="1.35" fill="#dcdcdc" stroke="#363636" stroke-width="0.55"/>
<circle cx="319.59" cy="136.48" r="1.35" fill="#dcdcdc" stroke="#363636" stroke-width="0.55"/>
<circle cx="284.60" cy="108.22" r="1.35" fill="#dcdcdc" stroke="#363636" stroke-width="0.55"/>
<circle cx="298.71" cy="119.00" r="1.35" fill="#dcdcdc" stroke="#363636" stroke-width="0.55"/>
<circle cx="348.64" cy="136.75" r="1.35" fill="#dcdcdc" stroke="#363636" stroke-width="0.55"/>
<circle cx="308.40" cy="133.41" r="1.35" fill="#dcdcdc" stroke="#363636" stroke-width="0.55"/>
<circle cx="291.49" cy="136.62" r="1.35" fill="#dcdcdc" stroke="#363636" stroke-width="0.55"/>
<circle cx="318.65" cy="134.29" r="1.35" fill="#dcdcdc" stroke="#363636" stroke-width="0.55"/>
<circle cx="319.09" cy="143.37" r="1.35" fill="#dcdcdc" stroke="#363636" stroke-width="0.55"/>
<circle cx="304.89" cy="140.57" r="1.35" fill="#dcdcdc" stroke="#363636" stroke-width="0.55"/>
<circle cx="297.36" cy="135.77" r="1.35" fill="#dcdcdc" stroke="#363636" stroke-width="0.55"/>
<circle cx="307.60" cy="143.14" r="1.35" fill="#dcdcdc" stroke="#363636" stroke-width="0.55"/>
<circle cx="298.85" cy="141.39" r="1.35" fill="#dcdcdc" stroke="#363636" stroke-width="0.55"/>
<circle cx="323.28" cy="105.52" r="1.35" fill="#dcdcdc" stroke="#363636" stroke-width="0.55"/>
<circle cx="296.54" cy="127.45" r="1.35" fill="#dcdcdc" stroke="#363636" stroke-width="0.55"/>
<circle cx="306.40" cy="130.67" r="1.35" fill="#dcdcdc" stroke="#363636" stroke-width="0.55"/>
<circle cx="284.87" cy="133.39" r="1.35" fill="#dcdcdc" stroke="#363636" stroke-width="0.55"/>
<circle cx="301.00" cy="122.77" r="1.35" fill="#dcdcdc" stroke="#363636" stroke-width="0.55"/>
<circle cx="308.20" cy="142.33" r="1.35" fill="#dcdcdc" stroke="#363636" stroke-width="0.55"/>
<circle cx="329.52" cy="130.18" r="1.35" fill="#dcdcdc" stroke="#363636" stroke-width="0.55"/>
<circle cx="296.20" cy="123.38" r="1.35" fill="#dcdcdc" stroke="#363636" stroke-width="0.55"/>
<circle cx="347.59" cy="113.86" r="1.35" fill="#dcbeba" stroke="#7a4646" stroke-width="0.65"/>
<circle cx="329.77" cy="82.77" r="1.35" fill="#dcdcdc" stroke="#363636" stroke-width="0.55"/>
<circle cx="303.47" cy="138.89" r="1.35" fill="#dcdcdc" stroke="#363636" stroke-width="0.55"/>
<circle cx="329.98" cy="135.42" r="1.35" fill="#dcdcdc" stroke="#363636" stroke-width="0.55"/>
<circle cx="328.95" cy="100.25" r="1.35" fill="#dcdcdc" stroke="#363636" stroke-width="0.55"/>
<circle cx="316.64" cy="145.17" r="1.35" fill="#dcdcdc" stroke="#363636" stroke-width="0.55"/>
<circle cx="318.88" cy="140.19" r="1.35" fill="#dcdcdc" stroke="#363636" stroke-width="0.55"/>
<circle cx="304.93" cy="137.84" r="1.35" fill="#dcdcdc" stroke="#363636" stroke-width="0.55"/>
<circle cx="295.45" cy="141.30" r="1.35" fill="#dcdcdc" stroke="#363636" stroke-width="0.55"/>
<circle cx="321.28" cy="127.76" r="1.35" fill="#dcdcdc" stroke="#363636" stroke-width="0.55"/>
<circle cx="324.96" cy="141.81" r="1.35" fill="#dcdcdc" stroke="#363636" stroke-width="0.55"/>
<circle cx="286.66" cy="117.04" r="1.35" fill="#dcdcdc" stroke="#363636" stroke-width="0.55"/>
<circle cx="314.55" cy="145.26" r="1.35" fill="#dcdcdc" stroke="#363636" stroke-width="0.55"/>
<circle cx="317.88" cy="141.24" r="1.35" fill="#dcdcdc" stroke="#363636" stroke-width="0.55"/>
<circle cx="369.35" cy="133.19" r="1.35" fill="#dcdcdc" stroke="#363636" stroke-width="0.55"/>
<circle cx="342.01" cy="135.04" r="1.35" fill="#dcdcdc" stroke="#363636" stroke-width="0.55"/>
<circle cx="315.31" cy="144.91" r="1.35" fill="#dcdcdc" stroke="#363636" stroke-width="0.55"/>
<circle cx="288.61" cy="132.99" r="1.35" fill="#dcdcdc" stroke="#363636" stroke-width="0.55"/>
<circle cx="299.08" cy="111.41" r="1.35" fill="#dcdcdc" stroke="#363636" stroke-width="0.55"/>
<circle cx="370.80" cy="119.86" r="1.35" fill="#dea593" stroke="#7a4646" stroke-width="0.65"/>
<circle cx="320.30" cy="143.01" r="1.35" fill="#dcdcdc" stroke="#363636" stroke-width="0.55"/>
<circle cx="310.05" cy="144.09" r="1.35" fill="#dcdcdc" stroke="#363636" stroke-width="0.55"/>
<circle cx="343.60" cy="125.64" r="1.35" fill="#dcdcdc" stroke="#363636" stroke-width="0.55"/>
<circle cx="295.15" cy="111.57" r="1.35" fill="#dcdcdc" stroke="#363636" stroke-width="0.55"/>
<circle cx="303.63" cy="143.18" r="1.35" fill="#dcdcdc" stroke="#363636" stroke-width="0.55"/>
<circle cx="322.72" cy="130.01" r="1.35" fill="#dcdcdc" stroke="#363636" stroke-width="0.55"/>
<circle cx="319.55" cy="140.65" r="1.35" fill="#dcdcdc" stroke="#363636" stroke-width="0.55"/>
<circle cx="316.55" cy="145.01" r="1.35" fill="#dcdcdc" stroke="#363636" stroke-width="0.55"/>
<circle cx="314.47" cy="141.38" r="1.35" fill="#dcdcdc" stroke="#363636" stroke-width="0.55"/>
<circle cx="321.83" cy="118.26" r="1.35" fill="#dcdcdc" stroke="#363636" stroke-width="0.55"/>
<circle cx="307.67" cy="142.26" r="1.35" fill="#dcdcdc" stroke="#363636" stroke-width="0.55"/>
<circle cx="335.75" cy="130.33" r="1.35" fill="#dcdcdc" stroke="#363636" stroke-width="0.55"/>
<circle cx="337.42" cy="125.13" r="1.35" fill="#dcdcdc" stroke="#363636" stroke-width="0.55"/>
<circle cx="339.26" cy="134.00" r="1.35" fill="#dcdcdc" stroke="#363636" stroke-width="0.55"/>
<circle cx="289.15" cy="132.65" r="1.35" fill="#dcdcdc" stroke="#363636" stroke-width="0.55"/>
<circle cx="287.11" cy="79.26" r="1.35" fill="#dcdcdc" stroke="#363636" stroke-width="0.55"/>
<circle cx="277.01" cy="120.16" r="1.35" fill="#dcdcdc" stroke="#363636" stroke-width="0.55"/>
<circle cx="361.27" cy="138.95" r="1.35" fill="#dcdcdc" stroke="#363636" stroke-width="0.55"/>
<circle cx="310.68" cy="145.30" r="1.35" fill="#dcdcdc" stroke="#363636" stroke-width="0.55"/>
<circle cx="327.35" cy="136.71" r="1.35" fill="#dcdcdc" stroke="#363636" stroke-width="0.55"/>
<circle cx="346.47" cy="135.91" r="1.35" fill="#dcdcdc" stroke="#363636" stroke-width="0.55"/>
<circle cx="329.79" cy="131.96" r="1.35" fill="#dcdcdc" stroke="#363636" stroke-width="0.55"/>
<circle cx="343.48" cy="116.95" r="1.35" fill="#dcc2c0" stroke="#7a4646" stroke-width="0.65"/>
<circle cx="314.92" cy="143.97" r="1.35" fill="#dcdcdc" stroke="#363636" stroke-width="0.55"/>
<circle cx="297.33" cy="116.43" r="1.35" fill="#dcdcdc" stroke="#363636" stroke-width="0.55"/>
<circle cx="322.44" cy="109.09" r="1.35" fill="#dcdcdc" stroke="#363636" stroke-width="0.55"/>
<circle cx="324.16" cy="122.71" r="1.35" fill="#dcdcdc" stroke="#363636" stroke-width="0.55"/>
<circle cx="314.28" cy="144.16" r="1.35" fill="#dcdcdc" stroke="#363636" stroke-width="0.55"/>
<circle cx="336.52" cy="131.77" r="1.35" fill="#dcdcdc" stroke="#363636" stroke-width="0.55"/>
<circle cx="327.15" cy="136.27" r="1.35" fill="#dcdcdc" stroke="#363636" stroke-width="0.55"/>
<circle cx="341.86" cy="122.69" r="1.35" fill="#dcdcdc" stroke="#363636" stroke-width="0.55"/>
<circle cx="330.32" cy="133.40" r="1.35" fill="#dcdcdc" stroke="#363636" stroke-width="0.55"/>
<circle cx="307.57" cy="141.31" r="1.35" fill="#dcdcdc" stroke="#363636" stroke-width="0.55"/>
<circle cx="318.85" cy="116.73" r="1.35" fill="#dcdcdc" stroke="#363636" stroke-width="0.55"/>
<circle cx="302.74" cy="125.34" r="1.35" fill="#dcdcdc" stroke="#363636" stroke-width="0.55"/>
<circle cx="314.83" cy="145.33" r="1.35" fill="#dcdcdc" stroke="#363636" stroke-width="0.55"/>
<circle cx="296.89" cy="111.21" r="1.35" fill="#dcdcdc" stroke="#363636" stroke-width="0.55"/>
<circle cx="314.82" cy="145.25" r="1.35" fill="#dcdcdc" stroke="#363636" stroke-width="0.55"/>
<circle cx="292.76" cy="121.60" r="1.35" fill="#dcdcdc" stroke="#363636" stroke-width="0.55"/>
<circle cx="293.15" cy="133.85" r="1.35" fill="#dcdcdc" stroke="#363636" stroke-width="0.55"/>
<circle cx="342.18" cy="132.31" r="1.35" fill="#dcdcdc" stroke="#363636" stroke-width="0.55"/>
<circle cx="297.47" cy="130.41" r="1.35" fill="#dcdcdc" stroke="#363636" stroke-width="0.55"/>
<circle cx="322.06" cy="133.36" r="1.35" fill="#dcdcdc" stroke="#363636" stroke-width="0.55"/>
<circle cx="337.39" cy="136.00" r="1.35" fill="#dcdcdc" stroke="#363636" stroke-width="0.55"/>
<circle cx="320.91" cy="143.37" r="1.35" fill="#dcdcdc" stroke="#363636" stroke-width="0.55"/>
<circle cx="372.93" cy="92.11" r="1.35" fill="#dea38f" stroke="#7a4646" stroke-width="0.65"/>
<circle cx="316.08" cy="145.21" r="1.35" fill="#dcdcdc" stroke="#363636" stroke-width="0.55"/>
<circle cx="338.39" cy="137.93" r="1.35" fill="#dcdcdc" stroke="#363636" stroke-width="0.55"/>
<circle cx="283.31" cy="126.66" r="1.35" fill="#dcdcdc" stroke="#363636" stroke-width="0.55"/>
<circle cx="305.54" cy="138.92" r="1.35" fill="#dcdcdc" stroke="#363636" stroke-width="0.55"/>
<circle cx="334.71" cy="135.44" r="1.35" fill="#dcdcdc" stroke="#363636" stroke-width="0.55"/>
<circle cx="324.13" cy="131.54" r="1.35" fill="#dcdcdc" stroke="#363636" stroke-width="0.55"/>
<circle cx="342.62" cy="114.06" r="1.35" fill="#dcdcdc" stroke="#363636" stroke-width="0.55"/>
<circle cx="283.49" cy="134.78" r="1.35" fill="#dcdcdc" stroke="#363636" stroke-width="0.55"/>
<circle cx="315.42" cy="137.56" r="1.35" fill="#dcdcdc" stroke="#363636" stroke-width="0.55"/>
<circle cx="339.44" cy="133.30" r="1.35" fill="#dcdcdc" stroke="#363636" stroke-width="0.55"/>
<circle cx="334.24" cy="125.89" r="1.35" fill="#dcdcdc" stroke="#363636" stroke-width="0.55"/>
<circle cx="322.15" cy="130.83" r="1.35" fill="#dcdcdc" stroke="#363636" stroke-width="0.55"/>
<circle cx="286.18" cy="84.83" r="1.35" fill="#dcdcdc" stroke="#363636" stroke-width="0.55"/>
<circle cx="347.09" cy="120.99" r="1.35" fill="#dcbfba" stroke="#7a4646" stroke-width="0.65"/>
<circle cx="308.02" cy="134.90" r="1.35" fill="#dcdcdc" stroke="#363636" stroke-width="0.55"/>
<circle cx="283.85" cy="128.88" r="1.35" fill="#dcdcdc" stroke="#363636" stroke-width="0.55"/>
<circle cx="346.75" cy="120.90" r="1.35" fill="#dcbfbb" stroke="#7a4646" stroke-width="0.65"/>
<circle cx="319.08" cy="122.09" r="1.35" fill="#dcdcdc" stroke="#363636" stroke-width="0.55"/>
<circle cx="309.63" cy="140.08" r="1.35" fill="#dcdcdc" stroke="#363636" stroke-width="0.55"/>
<circle cx="316.70" cy="128.27" r="1.35" fill="#dcdcdc" stroke="#363636" stroke-width="0.55"/>
<circle cx="324.51" cy="131.61" r="1.35" fill="#dcdcdc" stroke="#363636" stroke-width="0.55"/>
<circle cx="327.27" cy="141.31" r="1.35" fill="#dcdcdc" stroke="#363636" stroke-width="0.55"/>
<circle cx="289.98" cy="134.96" r="1.35" fill="#dcdcdc" stroke="#363636" stroke-width="0.55"/>
<circle cx="324.59" cy="140.61" r="1.35" fill="#dcdcdc" stroke="#363636" stroke-width="0.55"/>
<circle cx="305.32" cy="141.60" r="1.35" fill="#dcdcdc" stroke="#363636" stroke-width="0.55"/>
<circle cx="327.53" cy="100.13" r="1.35" fill="#dcdcdc" stroke="#363636" stroke-width="0.55"/>
<circle cx="318.02" cy="144.75" r="1.35" fill="#dcdcdc" stroke="#363636" stroke-width="0.55"/>
<circle cx="316.25" cy="142.50" r="1.35" fill="#dcdcdc" stroke="#363636" stroke-width="0.55"/>
<circle cx="320.63" cy="136.13" r="1.35" fill="#dcdcdc" stroke="#363636" stroke-width="0.55"/>
<circle cx="345.91" cy="112.86" r="1.35" fill="#dcc0bc" stroke="#7a4646" stroke-width="0.65"/>
<circle cx="356.50" cy="124.59" r="1.35" fill="#dcdcdc" stroke="#363636" stroke-width="0.55"/>
<circle cx="308.83" cy="140.71" r="1.35" fill="#dcdcdc" stroke="#363636" stroke-width="0.55"/>
<circle cx="339.42" cy="104.18" r="1.35" fill="#dcdcdc" stroke="#363636" stroke-width="0.55"/>
<circle cx="309.94" cy="142.12" r="1.35" fill="#dcdcdc" stroke="#363636" stroke-width="0.55"/>
<circle cx="366.01" cy="128.65" r="1.35" fill="#dcdcdc" stroke="#363636" stroke-width="0.55"/>
<circle cx="326.22" cy="132.56" r="1.35" fill="#dcdcdc" stroke="#363636" stroke-width="0.55"/>
<circle cx="333.90" cy="132.30" r="1.35" fill="#dcdcdc" stroke="#363636" stroke-width="0.55"/>
<circle cx="304.13" cy="114.28" r="1.35" fill="#dcdcdc" stroke="#363636" stroke-width="0.55"/>
<circle cx="280.64" cy="106.45" r="1.35" fill="#dcdcdc" stroke="#363636" stroke-width="0.55"/>
<circle cx="285.74" cy="96.29" r="1.35" fill="#dcdcdc" stroke="#363636" stroke-width="0.55"/>
<circle cx="294.91" cy="116.25" r="1.35" fill="#dcdcdc" stroke="#363636" stroke-width="0.55"/>
<circle cx="319.41" cy="142.94" r="1.35" fill="#dcdcdc" stroke="#363636" stroke-width="0.55"/>
<circle cx="336.04" cy="116.06" r="1.35" fill="#dcdcdc" stroke="#363636" stroke-width="0.55"/>
<circle cx="309.68" cy="142.13" r="1.35" fill="#dcdcdc" stroke="#363636" stroke-width="0.55"/>
<circle cx="306.53" cy="127.66" r="1.35" fill="#dcdcdc" stroke="#363636" stroke-width="0.55"/>
<circle cx="319.13" cy="142.37" r="1.35" fill="#dcdcdc" stroke="#363636" stroke-width="0.55"/>
<circle cx="328.56" cy="138.61" r="1.35" fill="#dcdcdc" stroke="#363636" stroke-width="0.55"/>
<circle cx="315.62" cy="144.87" r="1.35" fill="#dcdcdc" stroke="#363636" stroke-width="0.55"/>
<circle cx="345.67" cy="135.55" r="1.35" fill="#dcdcdc" stroke="#363636" stroke-width="0.55"/>
<circle cx="290.37" cy="133.33" r="1.35" fill="#dcdcdc" stroke="#363636" stroke-width="0.55"/>
<circle cx="302.94" cy="115.79" r="1.35" fill="#dcdcdc" stroke="#363636" stroke-width="0.55"/>
<circle cx="325.08" cy="121.78" r="1.35" fill="#dcdcdc" stroke="#363636" stroke-width="0.55"/>
<circle cx="315.53" cy="140.41" r="1.35" fill="#dcdcdc" stroke="#363636" stroke-width="0.55"/>
<circle cx="326.40" cy="130.22" r="1.35" fill="#dcdcdc" stroke="#363636" stroke-width="0.55"/>
<circle cx="347.08" cy="131.57" r="1.35" fill="#dcdcdc" stroke="#363636" stroke-width="0.55"/>
<circle cx="317.58" cy="137.97" r="1.35" fill="#dcdcdc" stroke="#363636" stroke-width="0.55"/>
<circle cx="323.67" cy="112.81" r="1.35" fill="#dcdcdc" stroke="#363636" stroke-width="0.55"/>
<circle cx="323.03" cy="139.42" r="1.35" fill="#dcdcdc" stroke="#363636" stroke-width="0.55"/>
<circle cx="305.80" cy="139.37" r="1.35" fill="#dcdcdc" stroke="#363636" stroke-width="0.55"/>
<circle cx="321.01" cy="143.27" r="1.35" fill="#dcdcdc" stroke="#363636" stroke-width="0.55"/>
<circle cx="322.86" cy="139.58" r="1.35" fill="#dcdcdc" stroke="#363636" stroke-width="0.55"/>
<circle cx="307.17" cy="131.11" r="1.35" fill="#dcdcdc" stroke="#363636" stroke-width="0.55"/>
<circle cx="330.05" cy="125.75" r="1.35" fill="#dcdcdc" stroke="#363636" stroke-width="0.55"/>
<circle cx="318.23" cy="138.71" r="1.35" fill="#dcdcdc" stroke="#363636" stroke-width="0.55"/>
<circle cx="305.32" cy="138.95" r="1.35" fill="#dcdcdc" stroke="#363636" stroke-width="0.55"/>
<circle cx="324.47" cy="115.90" r="1.35" fill="#dcdcdc" stroke="#363636" stroke-width="0.55"/>
<circle cx="330.76" cy="108.86" r="1.35" fill="#dcdcdc" stroke="#363636" stroke-width="0.55"/>
<circle cx="328.79" cy="116.92" r="1.35" fill="#dcdcdc" stroke="#363636" stroke-width="0.55"/>
<circle cx="315.94" cy="144.57" r="1.35" fill="#dcdcdc" stroke="#363636" stroke-width="0.55"/>
<circle cx="324.30" cy="141.75" r="1.35" fill="#dcdcdc" stroke="#363636" stroke-width="0.55"/>
<circle cx="324.76" cy="102.48" r="1.35" fill="#dcdcdc" stroke="#363636" stroke-width="0.55"/>
<circle cx="325.43" cy="126.91" r="1.35" fill="#dcdcdc" stroke="#363636" stroke-width="0.55"/>
<circle cx="309.35" cy="143.85" r="1.35" fill="#dcdcdc" stroke="#363636" stroke-width="0.55"/>
<circle cx="323.47" cy="101.68" r="1.35" fill="#dcdcdc" stroke="#363636" stroke-width="0.55"/>
<circle cx="317.46" cy="141.54" r="1.35" fill="#dcdcdc" stroke="#363636" stroke-width="0.55"/>
<circle cx="366.96" cy="85.71" r="1.35" fill="#dda999" stroke="#7a4646" stroke-width="0.65"/>
<circle cx="347.68" cy="136.83" r="1.35" fill="#dcdcdc" stroke="#363636" stroke-width="0.55"/>
<circle cx="318.09" cy="139.38" r="1.35" fill="#dcdcdc" stroke="#363636" stroke-width="0.55"/>
<circle cx="347.67" cy="132.94" r="1.35" fill="#dcdcdc" stroke="#363636" stroke-width="0.55"/>
<circle cx="302.17" cy="130.53" r="1.35" fill="#dcdcdc" stroke="#363636" stroke-width="0.55"/>
<circle cx="320.00" cy="144.35" r="1.35" fill="#dcdcdc" stroke="#363636" stroke-width="0.55"/>
<circle cx="329.44" cy="123.24" r="1.35" fill="#dcdcdc" stroke="#363636" stroke-width="0.55"/>
<circle cx="307.65" cy="144.30" r="1.35" fill="#dcdcdc" stroke="#363636" stroke-width="0.55"/>
<circle cx="324.34" cy="131.37" r="1.35" fill="#dcdcdc" stroke="#363636" stroke-width="0.55"/>
<circle cx="337.84" cy="138.23" r="1.35" fill="#dcdcdc" stroke="#363636" stroke-width="0.55"/>
<circle cx="302.66" cy="138.63" r="1.35" fill="#dcdcdc" stroke="#363636" stroke-width="0.55"/>
<circle cx="305.24" cy="118.89" r="1.35" fill="#dcdcdc" stroke="#363636" stroke-width="0.55"/>
<circle cx="319.37" cy="142.25" r="1.35" fill="#dcdcdc" stroke="#363636" stroke-width="0.55"/>
<circle cx="345.71" cy="115.37" r="1.35" fill="#dcc0bd" stroke="#7a4646" stroke-width="0.65"/>
<circle cx="320.35" cy="141.66" r="1.35" fill="#dcdcdc" stroke="#363636" stroke-width="0.55"/>
<circle cx="302.36" cy="125.36" r="1.35" fill="#dcdcdc" stroke="#363636" stroke-width="0.55"/>
<circle cx="343.00" cy="131.77" r="1.35" fill="#dcdcdc" stroke="#363636" stroke-width="0.55"/>
<circle cx="319.85" cy="139.29" r="1.35" fill="#dcdcdc" stroke="#363636" stroke-width="0.55"/>
<circle cx="299.28" cy="133.67" r="1.35" fill="#dcdcdc" stroke="#363636" stroke-width="0.55"/>
<circle cx="324.35" cy="123.42" r="1.35" fill="#dcdcdc" stroke="#363636" stroke-width="0.55"/>
<circle cx="278.17" cy="119.69" r="1.35" fill="#dcdcdc" stroke="#363636" stroke-width="0.55"/>
<circle cx="322.58" cy="137.29" r="1.35" fill="#dcdcdc" stroke="#363636" stroke-width="0.55"/>
<circle cx="299.23" cy="140.56" r="1.35" fill="#dcdcdc" stroke="#363636" stroke-width="0.55"/>
<circle cx="340.60" cy="114.06" r="1.35" fill="#dcdcdc" stroke="#363636" stroke-width="0.55"/>
<circle cx="306.44" cy="129.38" r="1.35" fill="#dcdcdc" stroke="#363636" stroke-width="0.55"/>
<circle cx="306.82" cy="126.70" r="1.35" fill="#dcdcdc" stroke="#363636" stroke-width="0.55"/>
<circle cx="297.90" cy="140.80" r="1.35" fill="#dcdcdc" stroke="#363636" stroke-width="0.55"/>
<circle cx="331.50" cy="126.19" r="1.35" fill="#dcdcdc" stroke="#363636" stroke-width="0.55"/>
<circle cx="322.00" cy="110.07" r="1.35" fill="#dcdcdc" stroke="#363636" stroke-width="0.55"/>
<circle cx="326.84" cy="131.13" r="1.35" fill="#dcdcdc" stroke="#363636" stroke-width="0.55"/>
<circle cx="300.17" cy="133.72" r="1.35" fill="#dcdcdc" stroke="#363636" stroke-width="0.55"/>
<circle cx="303.19" cy="116.26" r="1.35" fill="#dcdcdc" stroke="#363636" stroke-width="0.55"/>
<circle cx="317.53" cy="142.81" r="1.35" fill="#dcdcdc" stroke="#363636" stroke-width="0.55"/>
<circle cx="316.58" cy="127.66" r="1.35" fill="#dcdcdc" stroke="#363636" stroke-width="0.55"/>
<circle cx="307.78" cy="133.45" r="1.35" fill="#dcdcdc" stroke="#363636" stroke-width="0.55"/>
<circle cx="297.67" cy="90.98" r="1.35" fill="#dcdcdc" stroke="#363636" stroke-width="0.55"/>
<circle cx="322.69" cy="141.55" r="1.35" fill="#dcdcdc" stroke="#363636" stroke-width="0.55"/>
<circle cx="318.68" cy="139.18" r="1.35" fill="#dcdcdc" stroke="#363636" stroke-width="0.55"/>
<circle cx="338.69" cy="124.55" r="1.35" fill="#dcdcdc" stroke="#363636" stroke-width="0.55"/>
<circle cx="316.67" cy="144.85" r="1.35" fill="#dcdcdc" stroke="#363636" stroke-width="0.55"/>
<circle cx="302.96" cy="141.13" r="1.35" fill="#dcdcdc" stroke="#363636" stroke-width="0.55"/>
<circle cx="339.24" cy="73.30" r="1.35" fill="#dcdcdc" stroke="#363636" stroke-width="0.55"/>
<circle cx="306.42" cy="141.64" r="1.35" fill="#dcdcdc" stroke="#363636" stroke-width="0.55"/>
<circle cx="316.20" cy="143.85" r="1.35" fill="#dcdcdc" stroke="#363636" stroke-width="0.55"/>
<circle cx="307.07" cy="143.72" r="1.35" fill="#dcdcdc" stroke="#363636" stroke-width="0.55"/>
<circle cx="358.35" cy="127.75" r="1.35" fill="#dcdcdc" stroke="#363636" stroke-width="0.55"/>
<circle cx="297.40" cy="135.45" r="1.35" fill="#dcdcdc" stroke="#363636" stroke-width="0.55"/>
<circle cx="342.51" cy="128.13" r="1.35" fill="#dcdcdc" stroke="#363636" stroke-width="0.55"/>
<circle cx="343.04" cy="135.09" r="1.35" fill="#dcdcdc" stroke="#363636" stroke-width="0.55"/>
<circle cx="323.80" cy="135.07" r="1.35" fill="#dcdcdc" stroke="#363636" stroke-width="0.55"/>
<circle cx="303.44" cy="141.69" r="1.35" fill="#dcdcdc" stroke="#363636" stroke-width="0.55"/>
<circle cx="309.30" cy="137.41" r="1.35" fill="#dcdcdc" stroke="#363636" stroke-width="0.55"/>
<circle cx="333.26" cy="132.63" r="1.35" fill="#dcdcdc" stroke="#363636" stroke-width="0.55"/>
<circle cx="317.74" cy="124.32" r="1.35" fill="#dcdcdc" stroke="#363636" stroke-width="0.55"/>
<circle cx="329.49" cy="114.32" r="1.35" fill="#dcdcdc" stroke="#363636" stroke-width="0.55"/>
<circle cx="318.47" cy="138.58" r="1.35" fill="#dcdcdc" stroke="#363636" stroke-width="0.55"/>
<circle cx="325.45" cy="126.33" r="1.35" fill="#dcdcdc" stroke="#363636" stroke-width="0.55"/>
<circle cx="316.70" cy="141.57" r="1.35" fill="#dcdcdc" stroke="#363636" stroke-width="0.55"/>
<circle cx="319.18" cy="137.91" r="1.35" fill="#dcdcdc" stroke="#363636" stroke-width="0.55"/>
<circle cx="327.48" cy="134.02" r="1.35" fill="#dcdcdc" stroke="#363636" stroke-width="0.55"/>
<circle cx="319.83" cy="143.33" r="1.35" fill="#dcdcdc" stroke="#363636" stroke-width="0.55"/>
<circle cx="317.34" cy="144.49" r="1.35" fill="#dcdcdc" stroke="#363636" stroke-width="0.55"/>
<circle cx="284.40" cy="92.99" r="1.35" fill="#dcdcdc" stroke="#363636" stroke-width="0.55"/>
<circle cx="323.15" cy="136.83" r="1.35" fill="#dcdcdc" stroke="#363636" stroke-width="0.55"/>
<circle cx="303.14" cy="135.45" r="1.35" fill="#dcdcdc" stroke="#363636" stroke-width="0.55"/>
<circle cx="319.47" cy="141.64" r="1.35" fill="#dcdcdc" stroke="#363636" stroke-width="0.55"/>
<circle cx="316.80" cy="126.43" r="1.35" fill="#dcdcdc" stroke="#363636" stroke-width="0.55"/>
<circle cx="324.01" cy="137.25" r="1.35" fill="#dcdcdc" stroke="#363636" stroke-width="0.55"/>
<circle cx="316.66" cy="145.21" r="1.35" fill="#dcdcdc" stroke="#363636" stroke-width="0.55"/>
<circle cx="298.83" cy="135.22" r="1.35" fill="#dcdcdc" stroke="#363636" stroke-width="0.55"/>
<circle cx="319.15" cy="118.07" r="1.35" fill="#dcdcdc" stroke="#363636" stroke-width="0.55"/>
<circle cx="328.30" cy="71.76" r="1.35" fill="#dcdcdc" stroke="#363636" stroke-width="0.55"/>
<circle cx="314.95" cy="143.70" r="1.35" fill="#dcdcdc" stroke="#363636" stroke-width="0.55"/>
<circle cx="322.22" cy="142.60" r="1.35" fill="#dcdcdc" stroke="#363636" stroke-width="0.55"/>
<circle cx="328.69" cy="132.81" r="1.35" fill="#dcdcdc" stroke="#363636" stroke-width="0.55"/>
<circle cx="329.52" cy="121.45" r="1.35" fill="#dcdcdc" stroke="#363636" stroke-width="0.55"/>
<circle cx="310.22" cy="143.56" r="1.35" fill="#dcdcdc" stroke="#363636" stroke-width="0.55"/>
<circle cx="366.71" cy="119.99" r="1.35" fill="#ddaa9a" stroke="#7a4646" stroke-width="0.65"/>
<circle cx="299.26" cy="98.36" r="1.35" fill="#dcdcdc" stroke="#363636" stroke-width="0.55"/>
<circle cx="307.26" cy="142.72" r="1.35" fill="#dcdcdc" stroke="#363636" stroke-width="0.55"/>
<circle cx="301.49" cy="129.22" r="1.35" fill="#dcdcdc" stroke="#363636" stroke-width="0.55"/>
<circle cx="356.32" cy="74.38" r="1.35" fill="#ddb5ab" stroke="#7a4646" stroke-width="0.65"/>
<circle cx="331.15" cy="128.22" r="1.35" fill="#dcdcdc" stroke="#363636" stroke-width="0.55"/>
<circle cx="315.07" cy="144.78" r="1.35" fill="#dcdcdc" stroke="#363636" stroke-width="0.55"/>
<circle cx="303.50" cy="100.56" r="1.35" fill="#dcdcdc" stroke="#363636" stroke-width="0.55"/>
<circle cx="302.88" cy="126.30" r="1.35" fill="#dcdcdc" stroke="#363636" stroke-width="0.55"/>
<circle cx="300.58" cy="139.06" r="1.35" fill="#dcdcdc" stroke="#363636" stroke-width="0.55"/>
<circle cx="281.69" cy="123.34" r="1.35" fill="#dcdcdc" stroke="#363636" stroke-width="0.55"/>
<circle cx="297.56" cy="122.32" r="1.35" fill="#dcdcdc" stroke="#363636" stroke-width="0.55"/>
<circle cx="277.96" cy="134.67" r="1.35" fill="#dcdcdc" stroke="#363636" stroke-width="0.55"/>
<circle cx="343.53" cy="103.30" r="1.35" fill="#dcc2c0" stroke="#7a4646" stroke-width="0.65"/>
<circle cx="292.85" cy="136.01" r="1.35" fill="#dcdcdc" stroke="#363636" stroke-width="0.55"/>
<circle cx="337.13" cy="93.08" r="1.35" fill="#dcdcdc" stroke="#363636" stroke-width="0.55"/>
<circle cx="308.13" cy="137.40" r="1.35" fill="#dcdcdc" stroke="#363636" stroke-width="0.55"/>
<circle cx="343.01" cy="129.71" r="1.35" fill="#dcdcdc" stroke="#363636" stroke-width="0.55"/>
<circle cx="301.88" cy="135.34" r="1.35" fill="#dcdcdc" stroke="#363636" stroke-width="0.55"/>
<circle cx="336.12" cy="135.40" r="1.35" fill="#dcdcdc" stroke="#363636" stroke-width="0.55"/>
<circle cx="366.48" cy="71.93" r="1.35" fill="#ddaa9a" stroke="#7a4646" stroke-width="0.65"/>
<circle cx="331.71" cy="128.12" r="1.35" fill="#dcdcdc" stroke="#363636" stroke-width="0.55"/>
<circle cx="304.44" cy="107.71" r="1.35" fill="#dcdcdc" stroke="#363636" stroke-width="0.55"/>
<circle cx="325.82" cy="129.57" r="1.35" fill="#dcdcdc" stroke="#363636" stroke-width="0.55"/>
<circle cx="298.03" cy="136.86" r="1.35" fill="#dcdcdc" stroke="#363636" stroke-width="0.55"/>
<circle cx="334.44" cy="131.36" r="1.35" fill="#dcdcdc" stroke="#363636" stroke-width="0.55"/>
<circle cx="305.67" cy="141.11" r="1.35" fill="#dcdcdc" stroke="#363636" stroke-width="0.55"/>
<circle cx="343.61" cy="119.84" r="1.35" fill="#dcc2c0" stroke="#7a4646" stroke-width="0.65"/>
<circle cx="349.08" cy="119.12" r="1.35" fill="#dcbcb7" stroke="#7a4646" stroke-width="0.65"/>
<circle cx="317.38" cy="135.39" r="1.35" fill="#dcdcdc" stroke="#363636" stroke-width="0.55"/>
<circle cx="339.38" cy="138.52" r="1.35" fill="#dcdcdc" stroke="#363636" stroke-width="0.55"/>
<circle cx="341.12" cy="137.44" r="1.35" fill="#dcdcdc" stroke="#363636" stroke-width="0.55"/>
<circle cx="301.35" cy="137.34" r="1.35" fill="#dcdcdc" stroke="#363636" stroke-width="0.55"/>
<circle cx="324.25" cy="116.56" r="1.35" fill="#dcdcdc" stroke="#363636" stroke-width="0.55"/>
<circle cx="308.16" cy="144.26" r="1.35" fill="#dcdcdc" stroke="#363636" stroke-width="0.55"/>
<circle cx="327.09" cy="89.29" r="1.35" fill="#dcdcdc" stroke="#363636" stroke-width="0.55"/>
<circle cx="284.06" cy="115.48" r="1.35" fill="#dcdcdc" stroke="#363636" stroke-width="0.55"/>
<circle cx="322.75" cy="135.09" r="1.35" fill="#dcdcdc" stroke="#363636" stroke-width="0.55"/>
<circle cx="319.91" cy="137.65" r="1.35" fill="#dcdcdc" stroke="#363636" stroke-width="0.55"/>
<circle cx="295.78" cy="130.95" r="1.35" fill="#dcdcdc" stroke="#363636" stroke-width="0.55"/>
<circle cx="305.77" cy="142.92" r="1.35" fill="#dcdcdc" stroke="#363636" stroke-width="0.55"/>
<circle cx="352.24" cy="93.53" r="1.35" fill="#ddb9b2" stroke="#7a4646" stroke-width="0.65"/>
<circle cx="329.40" cy="117.11" r="1.35" fill="#dcdcdc" stroke="#363636" stroke-width="0.55"/>
<circle cx="326.09" cy="82.62" r="1.35" fill="#dcdcdc" stroke="#363636" stroke-width="0.55"/>
<circle cx="308.34" cy="142.42" r="1.35" fill="#dcdcdc" stroke="#363636" stroke-width="0.55"/>
<circle cx="324.99" cy="81.16" r="1.35" fill="#dcdcdc" stroke="#363636" stroke-width="0.55"/>
<circle cx="292.23" cy="94.61" r="1.35" fill="#dcdcdc" stroke="#363636" stroke-width="0.55"/>
<circle cx="309.20" cy="143.79" r="1.35" fill="#dcdcdc" stroke="#363636" stroke-width="0.55"/>
<circle cx="322.25" cy="112.81" r="1.35" fill="#dcdcdc" stroke="#363636" stroke-width="0.55"/>
<circle cx="322.12" cy="129.74" r="1.35" fill="#dcdcdc" stroke="#363636" stroke-width="0.55"/>
<circle cx="345.64" cy="96.40" r="1.35" fill="#dcc0bd" stroke="#7a4646" stroke-width="0.65"/>
<circle cx="308.57" cy="144.42" r="1.35" fill="#dcdcdc" stroke="#363636" stroke-width="0.55"/>
<circle cx="305.49" cy="129.93" r="1.35" fill="#dcdcdc" stroke="#363636" stroke-width="0.55"/>
<circle cx="310.37" cy="145.46" r="1.35" fill="#dcdcdc" stroke="#363636" stroke-width="0.55"/>
<circle cx="319.87" cy="109.89" r="1.35" fill="#dcdcdc" stroke="#363636" stroke-width="0.55"/>
<circle cx="294.20" cy="132.76" r="1.35" fill="#dcdcdc" stroke="#363636" stroke-width="0.55"/>
<circle cx="305.85" cy="120.42" r="1.35" fill="#dcdcdc" stroke="#363636" stroke-width="0.55"/>
<circle cx="305.91" cy="143.94" r="1.35" fill="#dcdcdc" stroke="#363636" stroke-width="0.55"/>
<circle cx="303.10" cy="107.26" r="1.35" fill="#dcdcdc" stroke="#363636" stroke-width="0.55"/>
<circle cx="296.75" cy="137.45" r="1.35" fill="#dcdcdc" stroke="#363636" stroke-width="0.55"/>
<circle cx="300.57" cy="116.83" r="1.35" fill="#dcdcdc" stroke="#363636" stroke-width="0.55"/>
<circle cx="330.41" cy="126.82" r="1.35" fill="#dcdcdc" stroke="#363636" stroke-width="0.55"/>
<circle cx="347.61" cy="92.01" r="1.35" fill="#dcbeb9" stroke="#7a4646" stroke-width="0.65"/>
<circle cx="297.98" cy="131.50" r="1.35" fill="#dcdcdc" stroke="#363636" stroke-width="0.55"/>
<circle cx="298.35" cy="139.29" r="1.35" fill="#dcdcdc" stroke="#363636" stroke-width="0.55"/>
<circle cx="324.92" cy="135.74" r="1.35" fill="#dcdcdc" stroke="#363636" stroke-width="0.55"/>
<circle cx="297.73" cy="135.06" r="1.35" fill="#dcdcdc" stroke="#363636" stroke-width="0.55"/>
<circle cx="340.69" cy="118.98" r="1.35" fill="#dcdcdc" stroke="#363636" stroke-width="0.55"/>
<circle cx="316.30" cy="145.42" r="1.35" fill="#dcdcdc" stroke="#363636" stroke-width="0.55"/>
<circle cx="333.99" cy="132.62" r="1.35" fill="#dcdcdc" stroke="#363636" stroke-width="0.55"/>
<circle cx="324.61" cy="119.10" r="1.35" fill="#dcdcdc" stroke="#363636" stroke-width="0.55"/>
<circle cx="329.23" cy="135.45" r="1.35" fill="#dcdcdc" stroke="#363636" stroke-width="0.55"/>
<circle cx="310.75" cy="145.39" r="1.35" fill="#dcdcdc" stroke="#363636" stroke-width="0.55"/>
<circle cx="338.51" cy="131.30" r="1.35" fill="#dcdcdc" stroke="#363636" stroke-width="0.55"/>
<circle cx="293.24" cy="122.10" r="1.35" fill="#dcdcdc" stroke="#363636" stroke-width="0.55"/>
<circle cx="297.96" cy="89.47" r="1.35" fill="#dcdcdc" stroke="#363636" stroke-width="0.55"/>
<circle cx="297.26" cy="110.92" r="1.35" fill="#dcdcdc" stroke="#363636" stroke-width="0.55"/>
<circle cx="337.04" cy="128.53" r="1.35" fill="#dcdcdc" stroke="#363636" stroke-width="0.55"/>
<circle cx="333.26" cy="124.82" r="1.35" fill="#dcdcdc" stroke="#363636" stroke-width="0.55"/>
<circle cx="346.66" cy="109.39" r="1.35" fill="#dcbfbb" stroke="#7a4646" stroke-width="0.65"/>
<circle cx="309.43" cy="141.63" r="1.35" fill="#dcdcdc" stroke="#363636" stroke-width="0.55"/>
<circle cx="306.76" cy="144.09" r="1.35" fill="#dcdcdc" stroke="#363636" stroke-width="0.55"/>
<circle cx="322.25" cy="132.25" r="1.35" fill="#dcdcdc" stroke="#363636" stroke-width="0.55"/>
<circle cx="307.35" cy="144.73" r="1.35" fill="#dcdcdc" stroke="#363636" stroke-width="0.55"/>
<circle cx="314.22" cy="144.79" r="1.35" fill="#dcdcdc" stroke="#363636" stroke-width="0.55"/>
<circle cx="319.49" cy="143.05" r="1.35" fill="#dcdcdc" stroke="#363636" stroke-width="0.55"/>
<circle cx="323.41" cy="143.39" r="1.35" fill="#dcdcdc" stroke="#363636" stroke-width="0.55"/>
<circle cx="332.35" cy="138.48" r="1.35" fill="#dcdcdc" stroke="#363636" stroke-width="0.55"/>
<circle cx="330.82" cy="82.84" r="1.35" fill="#dcdcdc" stroke="#363636" stroke-width="0.55"/>
<circle cx="330.90" cy="111.21" r="1.35" fill="#dcdcdc" stroke="#363636" stroke-width="0.55"/>
<circle cx="315.10" cy="142.79" r="1.35" fill="#dcdcdc" stroke="#363636" stroke-width="0.55"/>
<circle cx="302.69" cy="138.92" r="1.35" fill="#dcdcdc" stroke="#363636" stroke-width="0.55"/>
<circle cx="294.06" cy="137.29" r="1.35" fill="#dcdcdc" stroke="#363636" stroke-width="0.55"/>
<circle cx="325.93" cy="112.92" r="1.35" fill="#dcdcdc" stroke="#363636" stroke-width="0.55"/>
<circle cx="324.27" cy="138.19" r="1.35" fill="#dcdcdc" stroke="#363636" stroke-width="0.55"/>
<circle cx="302.95" cy="139.59" r="1.35" fill="#dcdcdc" stroke="#363636" stroke-width="0.55"/>
<circle cx="336.25" cy="97.27" r="1.35" fill="#dcdcdc" stroke="#363636" stroke-width="0.55"/>
<circle cx="320.85" cy="143.81" r="1.35" fill="#dcdcdc" stroke="#363636" stroke-width="0.55"/>
<circle cx="309.33" cy="145.11" r="1.35" fill="#dcdcdc" stroke="#363636" stroke-width="0.55"/>
<circle cx="343.25" cy="126.39" r="1.35" fill="#dcdcdc" stroke="#363636" stroke-width="0.55"/>
<circle cx="320.93" cy="140.84" r="1.35" fill="#dcdcdc" stroke="#363636" stroke-width="0.55"/>
<circle cx="329.64" cy="105.06" r="1.35" fill="#dcdcdc" stroke="#363636" stroke-width="0.55"/>
<circle cx="305.29" cy="119.23" r="1.35" fill="#dcdcdc" stroke="#363636" stroke-width="0.55"/>
<circle cx="324.65" cy="125.01" r="1.35" fill="#dcdcdc" stroke="#363636" stroke-width="0.55"/>
<circle cx="302.67" cy="111.95" r="1.35" fill="#dcdcdc" stroke="#363636" stroke-width="0.55"/>
<circle cx="347.79" cy="79.13" r="1.35" fill="#dcbeb9" stroke="#7a4646" stroke-width="0.65"/>
<circle cx="343.64" cy="134.03" r="1.35" fill="#dcdcdc" stroke="#363636" stroke-width="0.55"/>
<circle cx="340.37" cy="125.94" r="1.35" fill="#dcdcdc" stroke="#363636" stroke-width="0.55"/>
<circle cx="372.98" cy="79.84" r="1.35" fill="#dea38f" stroke="#7a4646" stroke-width="0.65"/>
<circle cx="332.51" cy="122.82" r="1.35" fill="#dcdcdc" stroke="#363636" stroke-width="0.55"/>
<circle cx="291.61" cy="82.19" r="1.35" fill="#dcdcdc" stroke="#363636" stroke-width="0.55"/>
<circle cx="331.68" cy="137.05" r="1.35" fill="#dcdcdc" stroke="#363636" stroke-width="0.55"/>
<circle cx="356.68" cy="131.93" r="1.35" fill="#dcdcdc" stroke="#363636" stroke-width="0.55"/>
<circle cx="287.03" cy="106.62" r="1.35" fill="#dcdcdc" stroke="#363636" stroke-width="0.55"/>
<circle cx="345.27" cy="103.52" r="1.35" fill="#dcc0bd" stroke="#7a4646" stroke-width="0.65"/>
<circle cx="305.19" cy="136.43" r="1.35" fill="#dcdcdc" stroke="#363636" stroke-width="0.55"/>
<circle cx="321.73" cy="143.20" r="1.35" fill="#dcdcdc" stroke="#363636" stroke-width="0.55"/>
<circle cx="329.04" cy="134.56" r="1.35" fill="#dcdcdc" stroke="#363636" stroke-width="0.55"/>
<circle cx="309.99" cy="144.90" r="1.35" fill="#dcdcdc" stroke="#363636" stroke-width="0.55"/>
<circle cx="295.38" cy="128.63" r="1.35" fill="#dcdcdc" stroke="#363636" stroke-width="0.55"/>
<circle cx="340.43" cy="122.26" r="1.35" fill="#dcdcdc" stroke="#363636" stroke-width="0.55"/>
<circle cx="287.53" cy="137.50" r="1.35" fill="#dcdcdc" stroke="#363636" stroke-width="0.55"/>
<circle cx="318.16" cy="142.87" r="1.35" fill="#dcdcdc" stroke="#363636" stroke-width="0.55"/>
<circle cx="316.86" cy="144.94" r="1.35" fill="#dcdcdc" stroke="#363636" stroke-width="0.55"/>
<circle cx="343.28" cy="129.10" r="1.35" fill="#dcdcdc" stroke="#363636" stroke-width="0.55"/>
<circle cx="319.25" cy="110.04" r="1.35" fill="#dcdcdc" stroke="#363636" stroke-width="0.55"/>
<circle cx="306.95" cy="137.99" r="1.35" fill="#dcdcdc" stroke="#363636" stroke-width="0.55"/>
<circle cx="330.92" cy="71.78" r="1.35" fill="#dcdcdc" stroke="#363636" stroke-width="0.55"/>
<circle cx="315.83" cy="142.42" r="1.35" fill="#dcdcdc" stroke="#363636" stroke-width="0.55"/>
<circle cx="343.08" cy="108.41" r="1.35" fill="#dcdcdc" stroke="#363636" stroke-width="0.55"/>
<circle cx="318.28" cy="144.16" r="1.35" fill="#dcdcdc" stroke="#363636" stroke-width="0.55"/>
<circle cx="288.45" cy="82.22" r="1.35" fill="#dcdcdc" stroke="#363636" stroke-width="0.55"/>
<circle cx="293.48" cy="127.10" r="1.35" fill="#dcdcdc" stroke="#363636" stroke-width="0.55"/>
<circle cx="292.20" cy="114.80" r="1.35" fill="#dcdcdc" stroke="#363636" stroke-width="0.55"/>
<circle cx="328.19" cy="122.07" r="1.35" fill="#dcdcdc" stroke="#363636" stroke-width="0.55"/>
<circle cx="317.57" cy="144.88" r="1.35" fill="#dcdcdc" stroke="#363636" stroke-width="0.55"/>
<circle cx="338.98" cy="134.27" r="1.35" fill="#dcdcdc" stroke="#363636" stroke-width="0.55"/>
<circle cx="293.15" cy="126.33" r="1.35" fill="#dcdcdc" stroke="#363636" stroke-width="0.55"/>
<circle cx="295.24" cy="96.15" r="1.35" fill="#dcdcdc" stroke="#363636" stroke-width="0.55"/>
<circle cx="273.61" cy="129.52" r="1.35" fill="#dcdcdc" stroke="#363636" stroke-width="0.55"/>
<circle cx="309.63" cy="141.80" r="1.35" fill="#dcdcdc" stroke="#363636" stroke-width="0.55"/>
<circle cx="314.01" cy="145.41" r="1.35" fill="#dcdcdc" stroke="#363636" stroke-width="0.55"/>
<circle cx="319.92" cy="110.47" r="1.35" fill="#dcdcdc" stroke="#363636" stroke-width="0.55"/>
<circle cx="308.65" cy="144.82" r="1.35" fill="#dcdcdc" stroke="#363636" stroke-width="0.55"/>
<circle cx="314.25" cy="145.03" r="1.35" fill="#dcdcdc" stroke="#363636" stroke-width="0.55"/>
<circle cx="300.78" cy="128.87" r="1.35" fill="#dcdcdc" stroke="#363636" stroke-width="0.55"/>
<circle cx="331.23" cy="87.20" r="1.35" fill="#dcdcdc" stroke="#363636" stroke-width="0.55"/>
<circle cx="336.59" cy="135.68" r="1.35" fill="#dcdcdc" stroke="#363636" stroke-width="0.55"/>
<circle cx="332.67" cy="133.43" r="1.35" fill="#dcdcdc" stroke="#363636" stroke-width="0.55"/>
<circle cx="342.46" cy="113.23" r="1.35" fill="#dcdcdc" stroke="#363636" stroke-width="0.55"/>
<circle cx="279.20" cy="116.74" r="1.35" fill="#dcdcdc" stroke="#363636" stroke-width="0.55"/>
<circle cx="290.19" cy="127.25" r="1.35" fill="#dcdcdc" stroke="#363636" stroke-width="0.55"/>
<circle cx="356.09" cy="114.03" r="1.35" fill="#ddb5ab" stroke="#7a4646" stroke-width="0.65"/>
<circle cx="315.63" cy="143.69" r="1.35" fill="#dcdcdc" stroke="#363636" stroke-width="0.55"/>
<circle cx="336.35" cy="137.44" r="1.35" fill="#dcdcdc" stroke="#363636" stroke-width="0.55"/>
<circle cx="324.76" cy="129.54" r="1.35" fill="#dcdcdc" stroke="#363636" stroke-width="0.55"/>
<circle cx="307.72" cy="144.65" r="1.35" fill="#dcdcdc" stroke="#363636" stroke-width="0.55"/>
<circle cx="296.50" cy="133.53" r="1.35" fill="#dcdcdc" stroke="#363636" stroke-width="0.55"/>
<circle cx="329.28" cy="110.04" r="1.35" fill="#dcdcdc" stroke="#363636" stroke-width="0.55"/>
<circle cx="286.86" cy="136.67" r="1.35" fill="#dcdcdc" stroke="#363636" stroke-width="0.55"/>
<circle cx="315.21" cy="144.93" r="1.35" fill="#dcdcdc" stroke="#363636" stroke-width="0.55"/>
<circle cx="301.34" cy="134.61" r="1.35" fill="#dcdcdc" stroke="#363636" stroke-width="0.55"/>
<circle cx="299.59" cy="110.64" r="1.35" fill="#dcdcdc" stroke="#363636" stroke-width="0.55"/>
<circle cx="338.38" cy="133.97" r="1.35" fill="#dcdcdc" stroke="#363636" stroke-width="0.55"/>
<circle cx="310.28" cy="142.87" r="1.35" fill="#dcdcdc" stroke="#363636" stroke-width="0.55"/>
<circle cx="294.68" cy="107.01" r="1.35" fill="#dcdcdc" stroke="#363636" stroke-width="0.55"/>
<circle cx="331.25" cy="94.92" r="1.35" fill="#dcdcdc" stroke="#363636" stroke-width="0.55"/>
<circle cx="320.51" cy="136.80" r="1.35" fill="#dcdcdc" stroke="#363636" stroke-width="0.55"/>
<circle cx="369.08" cy="101.81" r="1.35" fill="#dda796" stroke="#7a4646" stroke-width="0.65"/>
<circle cx="322.04" cy="120.53" r="1.35" fill="#dcdcdc" stroke="#363636" stroke-width="0.55"/>
<circle cx="299.32" cy="130.50" r="1.35" fill="#dcdcdc" stroke="#363636" stroke-width="0.55"/>
<circle cx="314.04" cy="144.28" r="1.35" fill="#dcdcdc" stroke="#363636" stroke-width="0.55"/>
<circle cx="321.82" cy="93.05" r="1.35" fill="#dcdcdc" stroke="#363636" stroke-width="0.55"/>
<circle cx="319.92" cy="141.09" r="1.35" fill="#dcdcdc" stroke="#363636" stroke-width="0.55"/>
<circle cx="305.03" cy="140.75" r="1.35" fill="#dcdcdc" stroke="#363636" stroke-width="0.55"/>
<circle cx="314.99" cy="144.66" r="1.35" fill="#dcdcdc" stroke="#363636" stroke-width="0.55"/>
<circle cx="316.79" cy="139.34" r="1.35" fill="#dcdcdc" stroke="#363636" stroke-width="0.55"/>
<circle cx="339.09" cy="134.04" r="1.35" fill="#dcdcdc" stroke="#363636" stroke-width="0.55"/>
<circle cx="332.61" cy="105.66" r="1.35" fill="#dcdcdc" stroke="#363636" stroke-width="0.55"/>
<circle cx="343.49" cy="98.48" r="1.35" fill="#dcc2c0" stroke="#7a4646" stroke-width="0.65"/>
<circle cx="320.81" cy="136.95" r="1.35" fill="#dcdcdc" stroke="#363636" stroke-width="0.55"/>
<circle cx="305.25" cy="135.36" r="1.35" fill="#dcdcdc" stroke="#363636" stroke-width="0.55"/>
<circle cx="309.01" cy="135.43" r="1.35" fill="#dcdcdc" stroke="#363636" stroke-width="0.55"/>
<circle cx="314.27" cy="144.27" r="1.35" fill="#dcdcdc" stroke="#363636" stroke-width="0.55"/>
<circle cx="305.68" cy="114.18" r="1.35" fill="#dcdcdc" stroke="#363636" stroke-width="0.55"/>
<circle cx="332.21" cy="129.75" r="1.35" fill="#dcdcdc" stroke="#363636" stroke-width="0.55"/>
<circle cx="332.21" cy="114.30" r="1.35" fill="#dcdcdc" stroke="#363636" stroke-width="0.55"/>
<circle cx="333.93" cy="128.83" r="1.35" fill="#dcdcdc" stroke="#363636" stroke-width="0.55"/>
<circle cx="307.29" cy="145.01" r="1.35" fill="#dcdcdc" stroke="#363636" stroke-width="0.55"/>
<circle cx="315.25" cy="144.83" r="1.35" fill="#dcdcdc" stroke="#363636" stroke-width="0.55"/>
<circle cx="304.22" cy="112.33" r="1.35" fill="#dcdcdc" stroke="#363636" stroke-width="0.55"/>
<circle cx="303.07" cy="133.90" r="1.35" fill="#dcdcdc" stroke="#363636" stroke-width="0.55"/>
<circle cx="302.62" cy="137.60" r="1.35" fill="#dcdcdc" stroke="#363636" stroke-width="0.55"/>
<circle cx="322.99" cy="100.97" r="1.35" fill="#dcdcdc" stroke="#363636" stroke-width="0.55"/>
<circle cx="325.22" cy="102.30" r="1.35" fill="#dcdcdc" stroke="#363636" stroke-width="0.55"/>
<circle cx="320.72" cy="134.56" r="1.35" fill="#dcdcdc" stroke="#363636" stroke-width="0.55"/>
<circle cx="364.27" cy="137.32" r="1.35" fill="#dcdcdc" stroke="#363636" stroke-width="0.55"/>
<circle cx="347.01" cy="127.19" r="1.35" fill="#dcdcdc" stroke="#363636" stroke-width="0.55"/>
<circle cx="325.98" cy="72.72" r="1.35" fill="#dcdcdc" stroke="#363636" stroke-width="0.55"/>
<circle cx="296.85" cy="97.86" r="1.35" fill="#dcdcdc" stroke="#363636" stroke-width="0.55"/>
<circle cx="314.39" cy="144.42" r="1.35" fill="#dcdcdc" stroke="#363636" stroke-width="0.55"/>
<circle cx="344.66" cy="122.76" r="1.35" fill="#dcc1be" stroke="#7a4646" stroke-width="0.65"/>
<circle cx="347.44" cy="121.61" r="1.35" fill="#dcbeba" stroke="#7a4646" stroke-width="0.65"/>
<circle cx="303.27" cy="140.29" r="1.35" fill="#dcdcdc" stroke="#363636" stroke-width="0.55"/>
<circle cx="327.53" cy="128.45" r="1.35" fill="#dcdcdc" stroke="#363636" stroke-width="0.55"/>
<circle cx="293.68" cy="102.39" r="1.35" fill="#dcdcdc" stroke="#363636" stroke-width="0.55"/>
<circle cx="317.37" cy="144.33" r="1.35" fill="#dcdcdc" stroke="#363636" stroke-width="0.55"/>
<circle cx="302.16" cy="110.44" r="1.35" fill="#dcdcdc" stroke="#363636" stroke-width="0.55"/>
<circle cx="310.31" cy="143.59" r="1.35" fill="#dcdcdc" stroke="#363636" stroke-width="0.55"/>
<circle cx="287.48" cy="85.38" r="1.35" fill="#dcdcdc" stroke="#363636" stroke-width="0.55"/>
<circle cx="321.84" cy="107.50" r="1.35" fill="#dcdcdc" stroke="#363636" stroke-width="0.55"/>
<circle cx="322.52" cy="126.98" r="1.35" fill="#dcdcdc" stroke="#363636" stroke-width="0.55"/>
<circle cx="315.40" cy="143.83" r="1.35" fill="#dcdcdc" stroke="#363636" stroke-width="0.55"/>
<circle cx="295.58" cy="131.43" r="1.35" fill="#dcdcdc" stroke="#363636" stroke-width="0.55"/>
<circle cx="322.27" cy="127.11" r="1.35" fill="#dcdcdc" stroke="#363636" stroke-width="0.55"/>
<circle cx="302.73" cy="130.51" r="1.35" fill="#dcdcdc" stroke="#363636" stroke-width="0.55"/>
<circle cx="326.26" cy="97.13" r="1.35" fill="#dcdcdc" stroke="#363636" stroke-width="0.55"/>
<circle cx="331.46" cy="133.12" r="1.35" fill="#dcdcdc" stroke="#363636" stroke-width="0.55"/>
<circle cx="328.08" cy="123.21" r="1.35" fill="#dcdcdc" stroke="#363636" stroke-width="0.55"/>
<circle cx="339.87" cy="83.82" r="1.35" fill="#dcdcdc" stroke="#363636" stroke-width="0.55"/>
<circle cx="307.80" cy="132.57" r="1.35" fill="#dcdcdc" stroke="#363636" stroke-width="0.55"/>
<circle cx="335.11" cy="79.24" r="1.35" fill="#dcdcdc" stroke="#363636" stroke-width="0.55"/>
<circle cx="310.62" cy="145.43" r="1.35" fill="#dcdcdc" stroke="#363636" stroke-width="0.55"/>
<circle cx="342.99" cy="83.73" r="1.35" fill="#dcdcdc" stroke="#363636" stroke-width="0.55"/>
<circle cx="315.05" cy="144.67" r="1.35" fill="#dcdcdc" stroke="#363636" stroke-width="0.55"/>
<circle cx="341.94" cy="126.56" r="1.35" fill="#dcdcdc" stroke="#363636" stroke-width="0.55"/>
<circle cx="294.91" cy="139.03" r="1.35" fill="#dcdcdc" stroke="#363636" stroke-width="0.55"/>
<circle cx="324.06" cy="136.75" r="1.35" fill="#dcdcdc" stroke="#363636" stroke-width="0.55"/>
<circle cx="333.07" cy="127.47" r="1.35" fill="#dcdcdc" stroke="#363636" stroke-width="0.55"/>
<circle cx="343.97" cy="125.37" r="1.35" fill="#dcdcdc" stroke="#363636" stroke-width="0.55"/>
<circle cx="305.29" cy="144.23" r="1.35" fill="#dcdcdc" stroke="#363636" stroke-width="0.55"/>
<circle cx="308.96" cy="139.75" r="1.35" fill="#dcdcdc" stroke="#363636" stroke-width="0.55"/>
<circle cx="345.86" cy="126.54" r="1.35" fill="#dcdcdc" stroke="#363636" stroke-width="0.55"/>
<circle cx="334.06" cy="138.13" r="1.35" fill="#dcdcdc" stroke="#363636" stroke-width="0.55"/>
<circle cx="330.45" cy="96.14" r="1.35" fill="#dcdcdc" stroke="#363636" stroke-width="0.55"/>
<circle cx="326.46" cy="126.00" r="1.35" fill="#dcdcdc" stroke="#363636" stroke-width="0.55"/>
<circle cx="337.43" cy="86.08" r="1.35" fill="#dcdcdc" stroke="#363636" stroke-width="0.55"/>
<circle cx="308.11" cy="144.82" r="1.35" fill="#dcdcdc" stroke="#363636" stroke-width="0.55"/>
<circle cx="320.54" cy="126.86" r="1.35" fill="#dcdcdc" stroke="#363636" stroke-width="0.55"/>
<circle cx="325.87" cy="120.25" r="1.35" fill="#dcdcdc" stroke="#363636" stroke-width="0.55"/>
<circle cx="285.44" cy="137.38" r="1.35" fill="#dcdcdc" stroke="#363636" stroke-width="0.55"/>
<circle cx="326.04" cy="142.39" r="1.35" fill="#dcdcdc" stroke="#363636" stroke-width="0.55"/>
<circle cx="291.13" cy="87.02" r="1.35" fill="#dcdcdc" stroke="#363636" stroke-width="0.55"/>
<circle cx="338.93" cy="133.93" r="1.35" fill="#dcdcdc" stroke="#363636" stroke-width="0.55"/>
<circle cx="309.67" cy="144.42" r="1.35" fill="#dcdcdc" stroke="#363636" stroke-width="0.55"/>
<circle cx="337.27" cy="134.84" r="1.35" fill="#dcdcdc" stroke="#363636" stroke-width="0.55"/>
<circle cx="317.89" cy="142.19" r="1.35" fill="#dcdcdc" stroke="#363636" stroke-width="0.55"/>
<circle cx="318.63" cy="143.04" r="1.35" fill="#dcdcdc" stroke="#363636" stroke-width="0.55"/>
<circle cx="276.61" cy="124.71" r="1.35" fill="#dcdcdc" stroke="#363636" stroke-width="0.55"/>
<circle cx="306.45" cy="134.06" r="1.35" fill="#dcdcdc" stroke="#363636" stroke-width="0.55"/>
<circle cx="306.37" cy="133.25" r="1.35" fill="#dcdcdc" stroke="#363636" stroke-width="0.55"/>
<circle cx="352.72" cy="84.00" r="1.35" fill="#ddb8b1" stroke="#7a4646" stroke-width="0.65"/>
<circle cx="317.22" cy="124.77" r="1.35" fill="#dcdcdc" stroke="#363636" stroke-width="0.55"/>
<circle cx="305.84" cy="137.48" r="1.35" fill="#dcdcdc" stroke="#363636" stroke-width="0.55"/>
<circle cx="322.31" cy="120.44" r="1.35" fill="#dcdcdc" stroke="#363636" stroke-width="0.55"/>
<circle cx="336.15" cy="138.02" r="1.35" fill="#dcdcdc" stroke="#363636" stroke-width="0.55"/>
<circle cx="308.99" cy="139.33" r="1.35" fill="#dcdcdc" stroke="#363636" stroke-width="0.55"/>
<circle cx="336.30" cy="96.55" r="1.35" fill="#dcdcdc" stroke="#363636" stroke-width="0.55"/>
<circle cx="308.00" cy="132.98" r="1.35" fill="#dcdcdc" stroke="#363636" stroke-width="0.55"/>
<circle cx="294.21" cy="113.13" r="1.35" fill="#dcdcdc" stroke="#363636" stroke-width="0.55"/>
<circle cx="301.51" cy="137.55" r="1.35" fill="#dcdcdc" stroke="#363636" stroke-width="0.55"/>
<circle cx="334.74" cy="75.23" r="1.35" fill="#dcdcdc" stroke="#363636" stroke-width="0.55"/>
<circle cx="321.53" cy="103.45" r="1.35" fill="#dcdcdc" stroke="#363636" stroke-width="0.55"/>
<circle cx="321.81" cy="139.82" r="1.35" fill="#dcdcdc" stroke="#363636" stroke-width="0.55"/>
<circle cx="321.66" cy="137.38" r="1.35" fill="#dcdcdc" stroke="#363636" stroke-width="0.55"/>
<circle cx="288.97" cy="119.46" r="1.35" fill="#dcdcdc" stroke="#363636" stroke-width="0.55"/>
<circle cx="288.05" cy="118.28" r="1.35" fill="#dcdcdc" stroke="#363636" stroke-width="0.55"/>
<circle cx="289.28" cy="103.12" r="1.35" fill="#dcdcdc" stroke="#363636" stroke-width="0.55"/>
<circle cx="335.23" cy="134.93" r="1.35" fill="#dcdcdc" stroke="#363636" stroke-width="0.55"/>
<circle cx="320.57" cy="126.62" r="1.35" fill="#dcdcdc" stroke="#363636" stroke-width="0.55"/>
<circle cx="303.09" cy="113.59" r="1.35" fill="#dcdcdc" stroke="#363636" stroke-width="0.55"/>
<circle cx="323.76" cy="140.89" r="1.35" fill="#dcdcdc" stroke="#363636" stroke-width="0.55"/>
<circle cx="338.26" cy="82.15" r="1.35" fill="#dcdcdc" stroke="#363636" stroke-width="0.55"/>
<circle cx="368.67" cy="74.86" r="1.35" fill="#dda796" stroke="#7a4646" stroke-width="0.65"/>
<circle cx="329.51" cy="139.06" r="1.35" fill="#dcdcdc" stroke="#363636" stroke-width="0.55"/>
<circle cx="327.50" cy="137.58" r="1.35" fill="#dcdcdc" stroke="#363636" stroke-width="0.55"/>
<circle cx="329.12" cy="138.50" r="1.35" fill="#dcdcdc" stroke="#363636" stroke-width="0.55"/>
<circle cx="305.78" cy="130.24" r="1.35" fill="#dcdcdc" stroke="#363636" stroke-width="0.55"/>
<circle cx="307.60" cy="134.94" r="1.35" fill="#dcdcdc" stroke="#363636" stroke-width="0.55"/>
<circle cx="322.99" cy="131.71" r="1.35" fill="#dcdcdc" stroke="#363636" stroke-width="0.55"/>
<circle cx="351.66" cy="83.44" r="1.35" fill="#ddbab3" stroke="#7a4646" stroke-width="0.65"/>
<circle cx="288.51" cy="128.10" r="1.35" fill="#dcdcdc" stroke="#363636" stroke-width="0.55"/>
<circle cx="345.65" cy="123.76" r="1.35" fill="#dcdcdc" stroke="#363636" stroke-width="0.55"/>
<circle cx="279.74" cy="133.82" r="1.35" fill="#dcdcdc" stroke="#363636" stroke-width="0.55"/>
<circle cx="303.65" cy="120.47" r="1.35" fill="#dcdcdc" stroke="#363636" stroke-width="0.55"/>
<circle cx="339.65" cy="113.29" r="1.35" fill="#dcdcdc" stroke="#363636" stroke-width="0.55"/>
<circle cx="280.67" cy="93.22" r="1.35" fill="#dcdcdc" stroke="#363636" stroke-width="0.55"/>
<circle cx="317.94" cy="130.40" r="1.35" fill="#dcdcdc" stroke="#363636" stroke-width="0.55"/>
<circle cx="299.97" cy="128.17" r="1.35" fill="#dcdcdc" stroke="#363636" stroke-width="0.55"/>
<circle cx="317.46" cy="143.01" r="1.35" fill="#dcdcdc" stroke="#363636" stroke-width="0.55"/>
<circle cx="313.99" cy="144.89" r="1.35" fill="#dcdcdc" stroke="#363636" stroke-width="0.55"/>
<circle cx="303.52" cy="137.07" r="1.35" fill="#dcdcdc" stroke="#363636" stroke-width="0.55"/>
<circle cx="309.27" cy="145.28" r="1.35" fill="#dcdcdc" stroke="#363636" stroke-width="0.55"/>
<circle cx="302.02" cy="135.50" r="1.35" fill="#dcdcdc" stroke="#363636" stroke-width="0.55"/>
<circle cx="301.19" cy="121.97" r="1.35" fill="#dcdcdc" stroke="#363636" stroke-width="0.55"/>
<circle cx="335.50" cy="118.36" r="1.35" fill="#dcdcdc" stroke="#363636" stroke-width="0.55"/>
<circle cx="313.98" cy="144.57" r="1.35" fill="#dcdcdc" stroke="#363636" stroke-width="0.55"/>
<circle cx="292.49" cy="111.13" r="1.35" fill="#dcdcdc" stroke="#363636" stroke-width="0.55"/>
<circle cx="308.43" cy="144.33" r="1.35" fill="#dcdcdc" stroke="#363636" stroke-width="0.55"/>
<circle cx="301.61" cy="134.10" r="1.35" fill="#dcdcdc" stroke="#363636" stroke-width="0.55"/>
<circle cx="350.96" cy="139.24" r="1.35" fill="#dcdcdc" stroke="#363636" stroke-width="0.55"/>
<circle cx="302.54" cy="118.61" r="1.35" fill="#dcdcdc" stroke="#363636" stroke-width="0.55"/>
<circle cx="298.86" cy="128.71" r="1.35" fill="#dcdcdc" stroke="#363636" stroke-width="0.55"/>
<circle cx="355.41" cy="112.78" r="1.35" fill="#ddb6ac" stroke="#7a4646" stroke-width="0.65"/>
<circle cx="314.44" cy="142.89" r="1.35" fill="#dcdcdc" stroke="#363636" stroke-width="0.55"/>
<circle cx="327.40" cy="130.66" r="1.35" fill="#dcdcdc" stroke="#363636" stroke-width="0.55"/>
<circle cx="336.65" cy="113.61" r="1.35" fill="#dcdcdc" stroke="#363636" stroke-width="0.55"/>
<circle cx="325.53" cy="121.44" r="1.35" fill="#dcdcdc" stroke="#363636" stroke-width="0.55"/>
<circle cx="304.74" cy="124.16" r="1.35" fill="#dcdcdc" stroke="#363636" stroke-width="0.55"/>
<circle cx="341.43" cy="127.70" r="1.35" fill="#dcdcdc" stroke="#363636" stroke-width="0.55"/>
<circle cx="305.56" cy="142.61" r="1.35" fill="#dcdcdc" stroke="#363636" stroke-width="0.55"/>
<circle cx="335.58" cy="121.40" r="1.35" fill="#dcdcdc" stroke="#363636" stroke-width="0.55"/>
<circle cx="329.69" cy="101.72" r="1.35" fill="#dcdcdc" stroke="#363636" stroke-width="0.55"/>
<circle cx="314.92" cy="139.80" r="1.35" fill="#dcdcdc" stroke="#363636" stroke-width="0.55"/>
<circle cx="307.92" cy="127.14" r="1.35" fill="#dcdcdc" stroke="#363636" stroke-width="0.55"/>
<circle cx="302.86" cy="140.06" r="1.35" fill="#dcdcdc" stroke="#363636" stroke-width="0.55"/>
<circle cx="299.98" cy="127.87" r="1.35" fill="#dcdcdc" stroke="#363636" stroke-width="0.55"/>
<circle cx="333.61" cy="129.46" r="1.35" fill="#dcdcdc" stroke="#363636" stroke-width="0.55"/>
<circle cx="319.32" cy="125.61" r="1.35" fill="#dcdcdc" stroke="#363636" stroke-width="0.55"/>
<circle cx="294.04" cy="119.25" r="1.35" fill="#dcdcdc" stroke="#363636" stroke-width="0.55"/>
<circle cx="309.89" cy="144.13" r="1.35" fill="#dcdcdc" stroke="#363636" stroke-width="0.55"/>
<circle cx="299.21" cy="118.56" r="1.35" fill="#dcdcdc" stroke="#363636" stroke-width="0.55"/>
<circle cx="339.77" cy="129.28" r="1.35" fill="#dcdcdc" stroke="#363636" stroke-width="0.55"/>
<circle cx="315.71" cy="138.29" r="1.35" fill="#dcdcdc" stroke="#363636" stroke-width="0.55"/>
<circle cx="318.38" cy="136.81" r="1.35" fill="#dcdcdc" stroke="#363636" stroke-width="0.55"/>
<circle cx="305.48" cy="139.68" r="1.35" fill="#dcdcdc" stroke="#363636" stroke-width="0.55"/>
<circle cx="324.80" cy="101.69" r="1.35" fill="#dcdcdc" stroke="#363636" stroke-width="0.55"/>
<circle cx="334.14" cy="134.06" r="1.35" fill="#dcdcdc" stroke="#363636" stroke-width="0.55"/>
<circle cx="345.25" cy="96.22" r="1.35" fill="#dcc0bd" stroke="#7a4646" stroke-width="0.65"/>
<circle cx="337.33" cy="137.35" r="1.35" fill="#dcdcdc" stroke="#363636" stroke-width="0.55"/>
<circle cx="318.19" cy="134.09" r="1.35" fill="#dcdcdc" stroke="#363636" stroke-width="0.55"/>
<circle cx="356.84" cy="116.28" r="1.35" fill="#ddb4aa" stroke="#7a4646" stroke-width="0.65"/>
<circle cx="353.97" cy="90.04" r="1.35" fill="#ddb7af" stroke="#7a4646" stroke-width="0.65"/>
<circle cx="308.15" cy="142.00" r="1.35" fill="#dcdcdc" stroke="#363636" stroke-width="0.55"/>
<circle cx="290.74" cy="74.77" r="1.35" fill="#dcdcdc" stroke="#363636" stroke-width="0.55"/>
<circle cx="344.41" cy="132.53" r="1.35" fill="#dcdcdc" stroke="#363636" stroke-width="0.55"/>
<circle cx="309.64" cy="144.97" r="1.35" fill="#dcdcdc" stroke="#363636" stroke-width="0.55"/>
<circle cx="326.28" cy="132.11" r="1.35" fill="#dcdcdc" stroke="#363636" stroke-width="0.55"/>
<circle cx="323.51" cy="111.39" r="1.35" fill="#dcdcdc" stroke="#363636" stroke-width="0.55"/>
<circle cx="308.82" cy="144.22" r="1.35" fill="#dcdcdc" stroke="#363636" stroke-width="0.55"/>
<circle cx="336.47" cy="115.00" r="1.35" fill="#dcdcdc" stroke="#363636" stroke-width="0.55"/>
<circle cx="299.35" cy="137.36" r="1.35" fill="#dcdcdc" stroke="#363636" stroke-width="0.55"/>
<circle cx="321.34" cy="140.57" r="1.35" fill="#dcdcdc" stroke="#363636" stroke-width="0.55"/>
<circle cx="303.90" cy="137.79" r="1.35" fill="#dcdcdc" stroke="#363636" stroke-width="0.55"/>
<circle cx="294.53" cy="124.60" r="1.35" fill="#dcdcdc" stroke="#363636" stroke-width="0.55"/>
<circle cx="329.92" cy="115.64" r="1.35" fill="#dcdcdc" stroke="#363636" stroke-width="0.55"/>
<circle cx="301.47" cy="96.18" r="1.35" fill="#dcdcdc" stroke="#363636" stroke-width="0.55"/>
<circle cx="346.68" cy="121.07" r="1.35" fill="#dcbfbb" stroke="#7a4646" stroke-width="0.65"/>
<circle cx="349.75" cy="109.52" r="1.35" fill="#dcbcb6" stroke="#7a4646" stroke-width="0.65"/>
<circle cx="337.62" cy="98.92" r="1.35" fill="#dcdcdc" stroke="#363636" stroke-width="0.55"/>
<circle cx="324.93" cy="142.01" r="1.35" fill="#dcdcdc" stroke="#363636" stroke-width="0.55"/>
<circle cx="288.20" cy="132.88" r="1.35" fill="#dcdcdc" stroke="#363636" stroke-width="0.55"/>
<circle cx="340.39" cy="103.87" r="1.35" fill="#dcdcdc" stroke="#363636" stroke-width="0.55"/>
<circle cx="334.91" cy="138.37" r="1.35" fill="#dcdcdc" stroke="#363636" stroke-width="0.55"/>
<circle cx="291.16" cy="125.36" r="1.35" fill="#dcdcdc" stroke="#363636" stroke-width="0.55"/>
<circle cx="288.05" cy="73.03" r="1.35" fill="#dcdcdc" stroke="#363636" stroke-width="0.55"/>
<circle cx="320.42" cy="131.77" r="1.35" fill="#dcdcdc" stroke="#363636" stroke-width="0.55"/>
<circle cx="300.95" cy="127.48" r="1.35" fill="#dcdcdc" stroke="#363636" stroke-width="0.55"/>
<circle cx="346.63" cy="129.34" r="1.35" fill="#dcdcdc" stroke="#363636" stroke-width="0.55"/>
<circle cx="325.65" cy="140.70" r="1.35" fill="#dcdcdc" stroke="#363636" stroke-width="0.55"/>
<circle cx="322.29" cy="137.25" r="1.35" fill="#dcdcdc" stroke="#363636" stroke-width="0.55"/>
<circle cx="286.16" cy="128.89" r="1.35" fill="#dcdcdc" stroke="#363636" stroke-width="0.55"/>
<circle cx="315.34" cy="143.07" r="1.35" fill="#dcdcdc" stroke="#363636" stroke-width="0.55"/>
<circle cx="346.19" cy="125.91" r="1.35" fill="#dcdcdc" stroke="#363636" stroke-width="0.55"/>
<circle cx="327.75" cy="139.99" r="1.35" fill="#dcdcdc" stroke="#363636" stroke-width="0.55"/>
<circle cx="321.42" cy="138.77" r="1.35" fill="#dcdcdc" stroke="#363636" stroke-width="0.55"/>
<circle cx="320.97" cy="135.35" r="1.35" fill="#dcdcdc" stroke="#363636" stroke-width="0.55"/>
<circle cx="314.82" cy="145.40" r="1.35" fill="#dcdcdc" stroke="#363636" stroke-width="0.55"/>
<circle cx="316.12" cy="139.72" r="1.35" fill="#dcdcdc" stroke="#363636" stroke-width="0.55"/>
<circle cx="296.01" cy="136.27" r="1.35" fill="#dcdcdc" stroke="#363636" stroke-width="0.55"/>
<circle cx="298.86" cy="138.23" r="1.35" fill="#dcdcdc" stroke="#363636" stroke-width="0.55"/>
<circle cx="330.72" cy="123.18" r="1.35" fill="#dcdcdc" stroke="#363636" stroke-width="0.55"/>
<circle cx="299.35" cy="132.25" r="1.35" fill="#dcdcdc" stroke="#363636" stroke-width="0.55"/>
<circle cx="297.71" cy="127.29" r="1.35" fill="#dcdcdc" stroke="#363636" stroke-width="0.55"/>
<circle cx="348.28" cy="133.37" r="1.35" fill="#dcdcdc" stroke="#363636" stroke-width="0.55"/>
<circle cx="314.95" cy="141.81" r="1.35" fill="#dcdcdc" stroke="#363636" stroke-width="0.55"/>
<circle cx="303.03" cy="132.42" r="1.35" fill="#dcdcdc" stroke="#363636" stroke-width="0.55"/>
<circle cx="326.13" cy="127.95" r="1.35" fill="#dcdcdc" stroke="#363636" stroke-width="0.55"/>
<circle cx="345.91" cy="106.55" r="1.35" fill="#dcc0bc" stroke="#7a4646" stroke-width="0.65"/>
<circle cx="301.40" cy="131.85" r="1.35" fill="#dcdcdc" stroke="#363636" stroke-width="0.55"/>
<circle cx="303.51" cy="126.43" r="1.35" fill="#dcdcdc" stroke="#363636" stroke-width="0.55"/>
<circle cx="319.54" cy="144.44" r="1.35" fill="#dcdcdc" stroke="#363636" stroke-width="0.55"/>
<circle cx="284.88" cy="115.85" r="1.35" fill="#dcdcdc" stroke="#363636" stroke-width="0.55"/>
<circle cx="290.80" cy="132.64" r="1.35" fill="#dcdcdc" stroke="#363636" stroke-width="0.55"/>
<circle cx="334.39" cy="134.14" r="1.35" fill="#dcdcdc" stroke="#363636" stroke-width="0.55"/>
<circle cx="342.33" cy="115.91" r="1.35" fill="#dcdcdc" stroke="#363636" stroke-width="0.55"/>
<circle cx="295.60" cy="91.56" r="1.35" fill="#dcdcdc" stroke="#363636" stroke-width="0.55"/>
<circle cx="314.42" cy="145.37" r="1.35" fill="#dcdcdc" stroke="#363636" stroke-width="0.55"/>
<circle cx="321.70" cy="141.62" r="1.35" fill="#dcdcdc" stroke="#363636" stroke-width="0.55"/>
<circle cx="301.06" cy="122.85" r="1.35" fill="#dcdcdc" stroke="#363636" stroke-width="0.55"/>
<circle cx="308.32" cy="144.30" r="1.35" fill="#dcdcdc" stroke="#363636" stroke-width="0.55"/>
<circle cx="302.97" cy="105.60" r="1.35" fill="#dcdcdc" stroke="#363636" stroke-width="0.55"/>
<circle cx="314.69" cy="144.01" r="1.35" fill="#dcdcdc" stroke="#363636" stroke-width="0.55"/>
<circle cx="315.12" cy="140.09" r="1.35" fill="#dcdcdc" stroke="#363636" stroke-width="0.55"/>
<circle cx="303.90" cy="104.56" r="1.35" fill="#dcdcdc" stroke="#363636" stroke-width="0.55"/>
<circle cx="299.33" cy="141.91" r="1.35" fill="#dcdcdc" stroke="#363636" stroke-width="0.55"/>
<circle cx="279.43" cy="109.61" r="1.35" fill="#dcdcdc" stroke="#363636" stroke-width="0.55"/>
<circle cx="316.96" cy="140.79" r="1.35" fill="#dcdcdc" stroke="#363636" stroke-width="0.55"/>
<circle cx="314.29" cy="143.79" r="1.35" fill="#dcdcdc" stroke="#363636" stroke-width="0.55"/>
<circle cx="338.98" cy="98.70" r="1.35" fill="#dcdcdc" stroke="#363636" stroke-width="0.55"/>
<circle cx="318.98" cy="143.94" r="1.35" fill="#dcdcdc" stroke="#363636" stroke-width="0.55"/>
<circle cx="332.07" cy="140.12" r="1.35" fill="#dcdcdc" stroke="#363636" stroke-width="0.55"/>
<circle cx="327.93" cy="96.89" r="1.35" fill="#dcdcdc" stroke="#363636" stroke-width="0.55"/>
<circle cx="318.19" cy="129.92" r="1.35" fill="#dcdcdc" stroke="#363636" stroke-width="0.55"/>
<circle cx="329.54" cy="126.54" r="1.35" fill="#dcdcdc" stroke="#363636" stroke-width="0.55"/>
<circle cx="344.09" cy="110.73" r="1.35" fill="#dcc2bf" stroke="#7a4646" stroke-width="0.65"/>
<circle cx="340.23" cy="124.35" r="1.35" fill="#dcdcdc" stroke="#363636" stroke-width="0.55"/>
<circle cx="314.74" cy="145.44" r="1.35" fill="#dcdcdc" stroke="#363636" stroke-width="0.55"/>
<circle cx="307.10" cy="142.33" r="1.35" fill="#dcdcdc" stroke="#363636" stroke-width="0.55"/>
<circle cx="335.29" cy="87.49" r="1.35" fill="#dcdcdc" stroke="#363636" stroke-width="0.55"/>
<circle cx="297.26" cy="125.38" r="1.35" fill="#dcdcdc" stroke="#363636" stroke-width="0.55"/>
<circle cx="305.57" cy="129.88" r="1.35" fill="#dcdcdc" stroke="#363636" stroke-width="0.55"/>
<circle cx="341.80" cy="122.75" r="1.35" fill="#dcdcdc" stroke="#363636" stroke-width="0.55"/>
<circle cx="324.60" cy="140.79" r="1.35" fill="#dcdcdc" stroke="#363636" stroke-width="0.55"/>
<circle cx="310.49" cy="145.43" r="1.35" fill="#dcdcdc" stroke="#363636" stroke-width="0.55"/>
<circle cx="342.29" cy="130.98" r="1.35" fill="#dcdcdc" stroke="#363636" stroke-width="0.55"/>
<circle cx="321.66" cy="96.95" r="1.35" fill="#dcdcdc" stroke="#363636" stroke-width="0.55"/>
<circle cx="321.83" cy="137.67" r="1.35" fill="#dcdcdc" stroke="#363636" stroke-width="0.55"/>
<circle cx="301.58" cy="139.05" r="1.35" fill="#dcdcdc" stroke="#363636" stroke-width="0.55"/>
<circle cx="318.85" cy="132.91" r="1.35" fill="#dcdcdc" stroke="#363636" stroke-width="0.55"/>
<circle cx="332.70" cy="94.87" r="1.35" fill="#dcdcdc" stroke="#363636" stroke-width="0.55"/>
<circle cx="328.29" cy="140.19" r="1.35" fill="#dcdcdc" stroke="#363636" stroke-width="0.55"/>
<circle cx="310.45" cy="144.04" r="1.35" fill="#dcdcdc" stroke="#363636" stroke-width="0.55"/>
<circle cx="317.47" cy="144.95" r="1.35" fill="#dcdcdc" stroke="#363636" stroke-width="0.55"/>
<circle cx="326.48" cy="128.66" r="1.35" fill="#dcdcdc" stroke="#363636" stroke-width="0.55"/>
<circle cx="351.81" cy="88.74" r="1.35" fill="#ddb9b2" stroke="#7a4646" stroke-width="0.65"/>
<circle cx="304.10" cy="138.26" r="1.35" fill="#dcdcdc" stroke="#363636" stroke-width="0.55"/>
<circle cx="288.52" cy="94.87" r="1.35" fill="#dcdcdc" stroke="#363636" stroke-width="0.55"/>
<circle cx="306.53" cy="132.45" r="1.35" fill="#dcdcdc" stroke="#363636" stroke-width="0.55"/>
<circle cx="288.32" cy="132.61" r="1.35" fill="#dcdcdc" stroke="#363636" stroke-width="0.55"/>
<circle cx="385.05" cy="103.88" r="1.35" fill="#de967b" stroke="#7a4646" stroke-width="0.65"/>
<circle cx="349.52" cy="72.94" r="1.35" fill="#dcbcb6" stroke="#7a4646" stroke-width="0.65"/>
<circle cx="324.74" cy="111.77" r="1.35" fill="#dcdcdc" stroke="#363636" stroke-width="0.55"/>
<circle cx="326.21" cy="132.83" r="1.35" fill="#dcdcdc" stroke="#363636" stroke-width="0.55"/>
<circle cx="325.82" cy="124.45" r="1.35" fill="#dcdcdc" stroke="#363636" stroke-width="0.55"/>
<circle cx="337.35" cy="128.67" r="1.35" fill="#dcdcdc" stroke="#363636" stroke-width="0.55"/>
<circle cx="327.03" cy="134.69" r="1.35" fill="#dcdcdc" stroke="#363636" stroke-width="0.55"/>
<circle cx="296.92" cy="104.48" r="1.35" fill="#dcdcdc" stroke="#363636" stroke-width="0.55"/>
<circle cx="339.72" cy="102.89" r="1.35" fill="#dcdcdc" stroke="#363636" stroke-width="0.55"/>
<circle cx="319.53" cy="131.58" r="1.35" fill="#dcdcdc" stroke="#363636" stroke-width="0.55"/>
<circle cx="328.74" cy="129.02" r="1.35" fill="#dcdcdc" stroke="#363636" stroke-width="0.55"/>
<circle cx="289.32" cy="131.62" r="1.35" fill="#dcdcdc" stroke="#363636" stroke-width="0.55"/>
<circle cx="301.88" cy="99.73" r="1.35" fill="#dcdcdc" stroke="#363636" stroke-width="0.55"/>
<circle cx="289.92" cy="99.16" r="1.35" fill="#dcdcdc" stroke="#363636" stroke-width="0.55"/>
<circle cx="332.44" cy="107.14" r="1.35" fill="#dcdcdc" stroke="#363636" stroke-width="0.55"/>
<circle cx="297.28" cy="89.61" r="1.35" fill="#dcdcdc" stroke="#363636" stroke-width="0.55"/>
<circle cx="338.32" cy="75.94" r="1.35" fill="#dcdcdc" stroke="#363636" stroke-width="0.55"/>
<circle cx="333.18" cy="100.39" r="1.35" fill="#dcdcdc" stroke="#363636" stroke-width="0.55"/>
<circle cx="344.81" cy="134.95" r="1.35" fill="#dcdcdc" stroke="#363636" stroke-width="0.55"/>
<circle cx="301.52" cy="123.09" r="1.35" fill="#dcdcdc" stroke="#363636" stroke-width="0.55"/>
<circle cx="321.09" cy="103.45" r="1.35" fill="#dcdcdc" stroke="#363636" stroke-width="0.55"/>
<circle cx="335.72" cy="116.45" r="1.35" fill="#dcdcdc" stroke="#363636" stroke-width="0.55"/>
<circle cx="332.14" cy="128.87" r="1.35" fill="#dcdcdc" stroke="#363636" stroke-width="0.55"/>
<circle cx="346.31" cy="130.79" r="1.35" fill="#dcdcdc" stroke="#363636" stroke-width="0.55"/>
<circle cx="332.00" cy="98.73" r="1.35" fill="#dcdcdc" stroke="#363636" stroke-width="0.55"/>
<circle cx="342.45" cy="103.04" r="1.35" fill="#dcdcdc" stroke="#363636" stroke-width="0.55"/>
<circle cx="331.94" cy="74.33" r="1.35" fill="#dcdcdc" stroke="#363636" stroke-width="0.55"/>
<circle cx="333.67" cy="128.28" r="1.35" fill="#dcdcdc" stroke="#363636" stroke-width="0.55"/>
<circle cx="294.20" cy="120.68" r="1.35" fill="#dcdcdc" stroke="#363636" stroke-width="0.55"/>
<circle cx="320.66" cy="140.85" r="1.35" fill="#dcdcdc" stroke="#363636" stroke-width="0.55"/>
<circle cx="345.14" cy="124.64" r="1.35" fill="#dcdcdc" stroke="#363636" stroke-width="0.55"/>
<circle cx="307.35" cy="142.92" r="1.35" fill="#dcdcdc" stroke="#363636" stroke-width="0.55"/>
<circle cx="303.39" cy="128.96" r="1.35" fill="#dcdcdc" stroke="#363636" stroke-width="0.55"/>
<circle cx="289.35" cy="112.17" r="1.35" fill="#dcdcdc" stroke="#363636" stroke-width="0.55"/>
<circle cx="314.56" cy="145.26" r="1.35" fill="#dcdcdc" stroke="#363636" stroke-width="0.55"/>
<circle cx="328.25" cy="136.01" r="1.35" fill="#dcdcdc" stroke="#363636" stroke-width="0.55"/>
<circle cx="307.11" cy="133.02" r="1.35" fill="#dcdcdc" stroke="#363636" stroke-width="0.55"/>
<circle cx="279.94" cy="129.80" r="1.35" fill="#dcdcdc" stroke="#363636" stroke-width="0.55"/>
<circle cx="361.17" cy="130.94" r="1.35" fill="#dcdcdc" stroke="#363636" stroke-width="0.55"/>
<circle cx="330.27" cy="138.34" r="1.35" fill="#dcdcdc" stroke="#363636" stroke-width="0.55"/>
<circle cx="321.77" cy="109.68" r="1.35" fill="#dcdcdc" stroke="#363636" stroke-width="0.55"/>
<circle cx="284.30" cy="59.60" r="1.35" fill="#dcdcdc" stroke="#363636" stroke-width="0.55"/>
<circle cx="291.90" cy="61.00" r="1.35" fill="#dcdcdc" stroke="#363636" stroke-width="0.55"/>
<circle cx="283.00" cy="69.90" r="1.35" fill="#dcdcdc" stroke="#363636" stroke-width="0.55"/>
<circle cx="287.10" cy="80.40" r="1.35" fill="#dcdcdc" stroke="#363636" stroke-width="0.55"/>
<circle cx="303.30" cy="82.30" r="1.35" fill="#dcdcdc" stroke="#363636" stroke-width="0.55"/>
<circle cx="284.30" cy="87.00" r="1.35" fill="#dcdcdc" stroke="#363636" stroke-width="0.55"/>
<circle cx="293.40" cy="85.30" r="1.35" fill="#dcdcdc" stroke="#363636" stroke-width="0.55"/>
<circle cx="289.60" cy="90.90" r="1.35" fill="#dcdcdc" stroke="#363636" stroke-width="0.55"/>
<circle cx="295.70" cy="90.50" r="1.35" fill="#dcdcdc" stroke="#363636" stroke-width="0.55"/>
<circle cx="302.40" cy="89.10" r="1.35" fill="#dcdcdc" stroke="#363636" stroke-width="0.55"/>
<circle cx="305.00" cy="89.00" r="1.35" fill="#dcdcdc" stroke="#363636" stroke-width="0.55"/>
<circle cx="332.40" cy="57.30" r="1.35" fill="#dcdcdc" stroke="#363636" stroke-width="0.55"/>
<circle cx="338.00" cy="72.00" r="1.35" fill="#dcdcdc" stroke="#363636" stroke-width="0.55"/>
<circle cx="340.50" cy="75.00" r="1.35" fill="#dcdcdc" stroke="#363636" stroke-width="0.55"/>
<circle cx="336.60" cy="73.50" r="1.35" fill="#dcdcdc" stroke="#363636" stroke-width="0.55"/>
<circle cx="341.00" cy="78.00" r="1.35" fill="#dcdcdc" stroke="#363636" stroke-width="0.55"/>
<circle cx="331.80" cy="80.10" r="1.35" fill="#dcdcdc" stroke="#363636" stroke-width="0.55"/>
<circle cx="215.0" cy="22.7" r="1.6" fill="#2a2a6a" stroke="#1a1a4a" stroke-width="0.5"/>
<text x="205.50" y="26.60" font-size="3.7" fill="#333" text-anchor="start" font-weight="normal" font-style="normal" stroke="#333" stroke-width="0.06" >ARG2</text>
<circle cx="205.8" cy="107.8" r="1.1" fill="#1a1a1a" stroke="#111" stroke-width="0.5"/>
<text x="204.30" y="106.20" font-size="3.7" fill="#333" text-anchor="start" font-weight="normal" font-style="normal" stroke="#333" stroke-width="0.06" >DHX3</text>
<circle cx="237.4" cy="90.0" r="1.1" fill="#2a2a3a" stroke="#111" stroke-width="0.5"/>
<text x="238.60" y="87.60" font-size="3.7" fill="#333" text-anchor="start" font-weight="normal" font-style="normal" stroke="#333" stroke-width="0.06" >DSC3</text>
<circle cx="223.4" cy="122.2" r="1.1" fill="#1a1a1a" stroke="#111" stroke-width="0.5"/>
<text x="216.00" y="126.60" font-size="3.7" fill="#333" text-anchor="start" font-weight="normal" font-style="normal" stroke="#333" stroke-width="0.06" >CSP</text>
<circle cx="253.0" cy="105.2" r="1.1" fill="#3a3a4a" stroke="#222" stroke-width="0.5"/>
<text x="245.00" y="103.60" font-size="3.7" fill="#333" text-anchor="start" font-weight="normal" font-style="normal" stroke="#333" stroke-width="0.06" >WBP5</text>
<circle cx="265.2" cy="86.7" r="1.1" fill="#4a4a5a" stroke="#333" stroke-width="0.5"/>
<text x="256.50" y="91.00" font-size="3.7" fill="#333" text-anchor="start" font-weight="normal" font-style="normal" stroke="#333" stroke-width="0.06" >KRT1</text>
<circle cx="272.5" cy="86.3" r="1.3" fill="#c8c8d8" stroke="#555" stroke-width="0.5"/>
<text x="273.50" y="84.40" font-size="3.7" fill="#333" text-anchor="start" font-weight="normal" font-style="normal" stroke="#333" stroke-width="0.06" >KRT8</text>
<circle cx="278.0" cy="56.8" r="1.5" fill="#9a9a9a" stroke="#444" stroke-width="0.5"/>
<text x="268.50" y="60.60" font-size="3.7" fill="#333" text-anchor="start" font-weight="normal" font-style="normal" stroke="#333" stroke-width="0.06" >WARS1</text>
<circle cx="269.2" cy="99.6" r="1.3" fill="#8a8ac8" stroke="#5050a0" stroke-width="0.5"/>
<text x="268.00" y="95.30" font-size="3.7" fill="#333" text-anchor="start" font-weight="normal" font-style="normal" stroke="#333" stroke-width="0.06" >CDKN2B</text>
<circle cx="271.2" cy="97.4" r="1.3" fill="#8a8ac8" stroke="#5050a0" stroke-width="0.5"/>
<circle cx="264.8" cy="102.4" r="1.0" fill="#555" stroke="#333" stroke-width="0.5"/>
<circle cx="267.6" cy="115.0" r="1.0" fill="#555" stroke="#333" stroke-width="0.5"/>
<text x="249.50" y="115.50" font-size="3.7" fill="#333" text-anchor="start" font-weight="normal" font-style="normal" stroke="#333" stroke-width="0.06" >GOLGA3</text>
<circle cx="274.3" cy="110.4" r="1.0" fill="#555" stroke="#333" stroke-width="0.5"/>
<text x="263.80" y="109.70" font-size="3.7" fill="#333" text-anchor="start" font-weight="normal" font-style="normal" stroke="#333" stroke-width="0.06" >SEMA7A</text>
<circle cx="281.0" cy="115.2" r="1.0" fill="#666" stroke="#444" stroke-width="0.5"/>
<text x="278.00" y="114.50" font-size="3.7" fill="#333" text-anchor="start" font-weight="normal" font-style="normal" stroke="#333" stroke-width="0.06" >AGL</text>
<circle cx="276.6" cy="119.4" r="1.0" fill="#555" stroke="#333" stroke-width="0.5"/>
<text x="254.00" y="121.30" font-size="3.7" fill="#333" text-anchor="start" font-weight="normal" font-style="normal" stroke="#333" stroke-width="0.06" >SESN1</text>
<circle cx="276.0" cy="115.6" r="1.0" fill="#555" stroke="#333" stroke-width="0.5"/>
<circle cx="272.6" cy="122.6" r="1.0" fill="#555" stroke="#333" stroke-width="0.5"/>
<circle cx="279.2" cy="119.0" r="1.0" fill="#555" stroke="#333" stroke-width="0.5"/>
<circle cx="271.4" cy="131.4" r="1.0" fill="#555" stroke="#333" stroke-width="0.5"/>
<circle cx="276.2" cy="131.0" r="1.0" fill="#555" stroke="#333" stroke-width="0.5"/>
<circle cx="262.4" cy="128.0" r="1.0" fill="#555" stroke="#333" stroke-width="0.5"/>
<circle cx="258.6" cy="137.6" r="1.0" fill="#555" stroke="#333" stroke-width="0.5"/>
<circle cx="266.0" cy="140.0" r="1.0" fill="#555" stroke="#333" stroke-width="0.5"/>
<circle cx="382.5" cy="97.3" r="1.6" fill="#e0702c" stroke="#b05020" stroke-width="0.5"/>
<text x="381.00" y="95.40" font-size="3.7" fill="#333" text-anchor="start" font-weight="normal" font-style="normal" stroke="#333" stroke-width="0.06" >AURKA</text>
<circle cx="394.3" cy="104.9" r="1.3" fill="#6a3040" stroke="#4a2030" stroke-width="0.5"/>
<text x="385.00" y="108.70" font-size="3.7" fill="#333" text-anchor="start" font-weight="normal" font-style="normal" stroke="#333" stroke-width="0.06" >NCOA4</text>
<circle cx="387.0" cy="121.0" r="1.2" fill="#5a3a40" stroke="#3a2020" stroke-width="0.5"/>
<text x="385.70" y="125.00" font-size="3.7" fill="#333" text-anchor="start" font-weight="normal" font-style="normal" stroke="#333" stroke-width="0.06" >TPST1</text>
<circle cx="369.3" cy="84.3" r="1.3" fill="#8b3a4a" stroke="#6a2a3a" stroke-width="0.5"/>
<text x="368.90" y="88.60" font-size="3.7" fill="#333" text-anchor="start" font-weight="normal" font-style="normal" stroke="#333" stroke-width="0.06" >CEBPZ</text>
<circle cx="367.7" cy="77.5" r="1.4" fill="#e08040" stroke="#a05030" stroke-width="0.5"/>
<text x="366.50" y="75.30" font-size="3.7" fill="#333" text-anchor="start" font-weight="normal" font-style="normal" stroke="#333" stroke-width="0.06" >RNF20</text>
<circle cx="370.5" cy="114.6" r="1.3" fill="#8b3a4a" stroke="#6a2a3a" stroke-width="0.5"/>
<text x="369.10" y="118.90" font-size="3.7" fill="#333" text-anchor="start" font-weight="normal" font-style="normal" stroke="#333" stroke-width="0.06" >ACSS3</text>
<line x1="258.50" y1="124.60" x2="276.50" y2="112.40" stroke="#333" stroke-width="0.6" />
<text x="247.00" y="126.80" font-size="3.7" fill="#333" text-anchor="start" font-weight="normal" font-style="normal" stroke="#333" stroke-width="0.06" >ENO2</text>
<text x="334.80" y="83.80" font-size="3.7" fill="#333" text-anchor="start" font-weight="normal" font-style="normal" stroke="#333" stroke-width="0.06" >CYP51A1</text>
<text x="354.00" y="82.60" font-size="3.7" fill="#333" text-anchor="start" font-weight="normal" font-style="normal" stroke="#333" stroke-width="0.06" >HBM</text>
<text x="346.30" y="88.60" font-size="3.7" fill="#333" text-anchor="start" font-weight="normal" font-style="normal" stroke="#333" stroke-width="0.06" >CIT</text>
<text x="359.40" y="88.60" font-size="3.7" fill="#333" text-anchor="start" font-weight="normal" font-style="normal" stroke="#333" stroke-width="0.06" >RRM1</text>
<text x="356.00" y="98.30" font-size="3.7" fill="#333" text-anchor="start" font-weight="normal" font-style="normal" stroke="#333" stroke-width="0.06" >NOLC1</text>
<text x="368.50" y="104.20" font-size="3.7" fill="#333" text-anchor="start" font-weight="normal" font-style="normal" stroke="#333" stroke-width="0.06" >TMSAP</text>
<text x="348.80" y="105.40" font-size="3.7" fill="#333" text-anchor="start" font-weight="normal" font-style="normal" stroke="#333" stroke-width="0.06" >NEMF</text>
<text x="357.00" y="108.40" font-size="3.7" fill="#333" text-anchor="start" font-weight="normal" font-style="normal" stroke="#333" stroke-width="0.06" >RANBP2</text>
<text x="367.90" y="112.20" font-size="3.7" fill="#333" text-anchor="start" font-weight="normal" font-style="normal" stroke="#333" stroke-width="0.06" >APOL3</text>
<text x="382.50" y="113.50" font-size="3.7" fill="#333" text-anchor="start" font-weight="normal" font-style="normal" stroke="#333" stroke-width="0.06" >SCN8</text>
<text x="361.50" y="123.60" font-size="3.7" fill="#333" text-anchor="start" font-weight="normal" font-style="normal" stroke="#333" stroke-width="0.06" >SLC3B</text>
<text x="338.00" y="94.80" font-size="3.7" fill="#333" text-anchor="start" font-weight="normal" font-style="normal" stroke="#333" stroke-width="0.06" >SMN1</text>
<text x="336.00" y="99.80" font-size="3.7" fill="#333" text-anchor="start" font-weight="normal" font-style="normal" stroke="#333" stroke-width="0.06" >TEC</text>
<rect x="196.5" y="17.0" width="207.40" height="135.30" fill="none" stroke="#1e1e1e" stroke-width="1.3"/>
<line x1="193.40" y1="146.40" x2="196.50" y2="146.40" stroke="#333" stroke-width="0.8" />
<text x="189.80" y="148.40" font-size="5.8" fill="#333" text-anchor="end" font-weight="normal" font-style="normal" stroke="#333" stroke-width="0.08" >0</text>
<line x1="193.40" y1="122.80" x2="196.50" y2="122.80" stroke="#333" stroke-width="0.8" />
<text x="189.80" y="124.80" font-size="5.8" fill="#333" text-anchor="end" font-weight="normal" font-style="normal" stroke="#333" stroke-width="0.08" >1</text>
<line x1="193.40" y1="99.20" x2="196.50" y2="99.20" stroke="#333" stroke-width="0.8" />
<text x="189.80" y="101.20" font-size="5.8" fill="#333" text-anchor="end" font-weight="normal" font-style="normal" stroke="#333" stroke-width="0.08" >2</text>
<line x1="193.40" y1="75.60" x2="196.50" y2="75.60" stroke="#333" stroke-width="0.8" />
<text x="189.80" y="77.60" font-size="5.8" fill="#333" text-anchor="end" font-weight="normal" font-style="normal" stroke="#333" stroke-width="0.08" >3</text>
<line x1="193.40" y1="52.00" x2="196.50" y2="52.00" stroke="#333" stroke-width="0.8" />
<text x="189.80" y="54.00" font-size="5.8" fill="#333" text-anchor="end" font-weight="normal" font-style="normal" stroke="#333" stroke-width="0.08" >4</text>
<line x1="193.40" y1="28.40" x2="196.50" y2="28.40" stroke="#333" stroke-width="0.8" />
<text x="189.80" y="30.40" font-size="5.8" fill="#333" text-anchor="end" font-weight="normal" font-style="normal" stroke="#333" stroke-width="0.08" >5</text>
<line x1="250.50" y1="152.30" x2="250.50" y2="155.10" stroke="#333" stroke-width="0.8" />
<text x="250.50" y="163.70" font-size="5.6" fill="#333" text-anchor="middle" font-weight="normal" font-style="normal" stroke="#333" stroke-width="0.08" >−2</text>
<line x1="312.30" y1="152.30" x2="312.30" y2="155.10" stroke="#333" stroke-width="0.8" />
<text x="312.30" y="163.70" font-size="5.6" fill="#333" text-anchor="middle" font-weight="normal" font-style="normal" stroke="#333" stroke-width="0.08" >0</text>
<line x1="374.10" y1="152.30" x2="374.10" y2="155.10" stroke="#333" stroke-width="0.8" />
<text x="374.10" y="163.70" font-size="5.6" fill="#333" text-anchor="middle" font-weight="normal" font-style="normal" stroke="#333" stroke-width="0.08" >2</text>
<text x="0" y="0" font-size="5.8" fill="#222" stroke="#222" stroke-width="0.12" text-anchor="middle" transform="translate(181.9 86) rotate(-90)">-log10(<tspan font-style="italic">P</tspan>-value)</text>
<text x="300.00" y="175.50" font-size="6.0" fill="#222" text-anchor="middle" font-weight="normal" font-style="normal" stroke="#222" stroke-width="0.08" >log2(FC)</text>
<line x1="202.00" y1="174.30" x2="286.00" y2="174.30" stroke="#3d6590" stroke-width="1.2" />
<path d="M196.5 174.3 L204.2 171.4 L202.3 174.3 L204.2 177.2 Z" fill="#2c4f7c"/>
<line x1="313.80" y1="174.30" x2="398.50" y2="174.30" stroke="#b03050" stroke-width="1.2" />
<path d="M404.0 174.3 L396.3 171.4 L398.2 174.3 L396.3 177.2 Z" fill="#b0203c"/>
<text x="241.30" y="182.60" font-size="6.0" fill="#4a6a98" text-anchor="middle" font-weight="normal" font-style="italic" stroke="#4a6a98" stroke-width="0.03" >Lower in βThal</text>
<text x="359.30" y="182.60" font-size="6.0" fill="#c44866" text-anchor="middle" font-weight="normal" font-style="italic" stroke="#c44866" stroke-width="0.03" >Higher in βThal</text>
<defs><linearGradient id="lgC" x1="0" y1="0" x2="0" y2="1"><stop offset="0" stop-color="#e8542c"/><stop offset="0.2" stop-color="#ef9a80"/><stop offset="0.42" stop-color="#f4f0f2"/><stop offset="0.7" stop-color="#a898d0"/><stop offset="1" stop-color="#2c1f7a"/></linearGradient></defs>
<text x="378.60" y="23.30" font-size="3.7" fill="#333" text-anchor="start" font-weight="normal" font-style="normal" >FoldChange</text>
<rect x="379.00" y="26.20" width="5.30" height="29.00" fill="url(#lgC)" />
<text x="386.20" y="30.50" font-size="3.6" fill="#444" text-anchor="start" font-weight="normal" font-style="normal" >2</text>
<text x="386.20" y="35.30" font-size="3.6" fill="#444" text-anchor="start" font-weight="normal" font-style="normal" >1</text>
<text x="386.20" y="40.00" font-size="3.6" fill="#444" text-anchor="start" font-weight="normal" font-style="normal" >0</text>
<text x="386.20" y="44.80" font-size="3.6" fill="#444" text-anchor="start" font-weight="normal" font-style="normal" >−1</text>
<text x="386.20" y="49.60" font-size="3.6" fill="#444" text-anchor="start" font-weight="normal" font-style="normal" >−2</text>
<text x="386.20" y="54.50" font-size="3.6" fill="#444" text-anchor="start" font-weight="normal" font-style="normal" >−3</text>
<rect x="196.60" y="222.20" width="5.07" height="8.22" fill="#7cc0de" />
<rect x="201.62" y="222.20" width="5.07" height="8.22" fill="#2a90c4" />
<rect x="206.64" y="222.20" width="5.07" height="8.22" fill="#fde6de" />
<rect x="211.66" y="222.20" width="5.07" height="8.22" fill="#eef5f9" />
<rect x="216.68" y="222.20" width="5.07" height="8.22" fill="#dce9f2" />
<rect x="221.70" y="222.20" width="5.07" height="8.22" fill="#f9b9a4" />
<rect x="226.72" y="222.20" width="5.07" height="8.22" fill="#e5604c" />
<rect x="231.74" y="222.20" width="5.07" height="8.22" fill="#f9b49c" />
<rect x="236.76" y="222.20" width="5.07" height="8.22" fill="#f4eeec" />
<rect x="196.60" y="230.37" width="5.07" height="8.22" fill="#3e9fcd" />
<rect x="201.62" y="230.37" width="5.07" height="8.22" fill="#f4f8fb" />
<rect x="206.64" y="230.37" width="5.07" height="8.22" fill="#8cc6e0" />
<rect x="211.66" y="230.37" width="5.07" height="8.22" fill="#f0f6f9" />
<rect x="216.68" y="230.37" width="5.07" height="8.22" fill="#e4eef5" />
<rect x="221.70" y="230.37" width="5.07" height="8.22" fill="#f08c70" />
<rect x="226.72" y="230.37" width="5.07" height="8.22" fill="#e35a48" />
<rect x="231.74" y="230.37" width="5.07" height="8.22" fill="#f7b39b" />
<rect x="236.76" y="230.37" width="5.07" height="8.22" fill="#f8ece8" />
<rect x="196.60" y="238.54" width="5.07" height="8.22" fill="#d4e8f2" />
<rect x="201.62" y="238.54" width="5.07" height="8.22" fill="#f6fafc" />
<rect x="206.64" y="238.54" width="5.07" height="8.22" fill="#2d95c6" />
<rect x="211.66" y="238.54" width="5.07" height="8.22" fill="#a9d3e6" />
<rect x="216.68" y="238.54" width="5.07" height="8.22" fill="#f7f9fa" />
<rect x="221.70" y="238.54" width="5.07" height="8.22" fill="#f7fbfc" />
<rect x="226.72" y="238.54" width="5.07" height="8.22" fill="#e45b49" />
<rect x="231.74" y="238.54" width="5.07" height="8.22" fill="#ec7a62" />
<rect x="236.76" y="238.54" width="5.07" height="8.22" fill="#f6dad2" />
<rect x="196.60" y="246.71" width="5.07" height="8.22" fill="#6fb7d9" />
<rect x="201.62" y="246.71" width="5.07" height="8.22" fill="#f2f7fa" />
<rect x="206.64" y="246.71" width="5.07" height="8.22" fill="#9ecde3" />
<rect x="211.66" y="246.71" width="5.07" height="8.22" fill="#8cc4de" />
<rect x="216.68" y="246.71" width="5.07" height="8.22" fill="#89c3dd" />
<rect x="221.70" y="246.71" width="5.07" height="8.22" fill="#f9cfc4" />
<rect x="226.72" y="246.71" width="5.07" height="8.22" fill="#fad1c6" />
<rect x="231.74" y="246.71" width="5.07" height="8.22" fill="#e86650" />
<rect x="236.76" y="246.71" width="5.07" height="8.22" fill="#f3a48b" />
<rect x="196.60" y="254.88" width="5.07" height="8.22" fill="#d3e7f1" />
<rect x="201.62" y="254.88" width="5.07" height="8.22" fill="#a6d1e5" />
<rect x="206.64" y="254.88" width="5.07" height="8.22" fill="#f9fafb" />
<rect x="211.66" y="254.88" width="5.07" height="8.22" fill="#d6e9f3" />
<rect x="216.68" y="254.88" width="5.07" height="8.22" fill="#9ccbe0" />
<rect x="221.70" y="254.88" width="5.07" height="8.22" fill="#c9151f" />
<rect x="226.72" y="254.88" width="5.07" height="8.22" fill="#f3a283" />
<rect x="231.74" y="254.88" width="5.07" height="8.22" fill="#8ac7df" />
<rect x="236.76" y="254.88" width="5.07" height="8.22" fill="#f8e1da" />
<rect x="196.60" y="263.05" width="5.07" height="8.22" fill="#fbe3dc" />
<rect x="201.62" y="263.05" width="5.07" height="8.22" fill="#eef4f8" />
<rect x="206.64" y="263.05" width="5.07" height="8.22" fill="#fadbd2" />
<rect x="211.66" y="263.05" width="5.07" height="8.22" fill="#2f98c8" />
<rect x="216.68" y="263.05" width="5.07" height="8.22" fill="#1d8ec2" />
<rect x="221.70" y="263.05" width="5.07" height="8.22" fill="#f6ac94" />
<rect x="226.72" y="263.05" width="5.07" height="8.22" fill="#f39c82" />
<rect x="231.74" y="263.05" width="5.07" height="8.22" fill="#fbfbfb" />
<rect x="236.76" y="263.05" width="5.07" height="8.22" fill="#f6cfc3" />
<rect x="196.60" y="216.20" width="25.40" height="2.70" fill="#dce6f0" />
<rect x="222.00" y="216.20" width="19.80" height="2.70" fill="#15305e" />
<text x="211.70" y="214.30" font-size="6.1" fill="#222" text-anchor="middle" font-weight="normal" font-style="normal" stroke="#222" stroke-width="0.08" >HC</text>
<text x="224.20" y="214.30" font-size="6.1" fill="#222" text-anchor="start" font-weight="normal" font-style="normal" stroke="#222" stroke-width="0.08" >βThal</text>
<text x="244.40" y="228.40" font-size="5.6" fill="#333" text-anchor="start" font-weight="normal" font-style="normal" stroke="#333" stroke-width="0.08" >PRDX1</text>
<text x="244.40" y="236.57" font-size="5.6" fill="#333" text-anchor="start" font-weight="normal" font-style="normal" stroke="#333" stroke-width="0.08" >PRDX3</text>
<text x="244.40" y="244.74" font-size="5.6" fill="#333" text-anchor="start" font-weight="normal" font-style="normal" stroke="#333" stroke-width="0.08" >PRDX2</text>
<text x="244.40" y="252.91" font-size="5.6" fill="#333" text-anchor="start" font-weight="normal" font-style="normal" stroke="#333" stroke-width="0.08" >PRDX6</text>
<text x="244.40" y="261.08" font-size="5.6" fill="#333" text-anchor="start" font-weight="normal" font-style="normal" stroke="#333" stroke-width="0.08" >PRDX4</text>
<text x="244.40" y="269.25" font-size="5.6" fill="#333" text-anchor="start" font-weight="normal" font-style="normal" stroke="#333" stroke-width="0.08" >PRDX5</text>
<defs><linearGradient id="lgD" x1="0" y1="0" x2="0" y2="1"><stop offset="0" stop-color="#b8283c"/><stop offset="0.3" stop-color="#f0a8a8"/><stop offset="0.55" stop-color="#f7f7f7"/><stop offset="0.8" stop-color="#a8d4e4"/><stop offset="1" stop-color="#2a8aa8"/></linearGradient></defs>
<rect x="181.70" y="226.00" width="1.90" height="33.80" fill="url(#lgD)" />
<text x="184.60" y="233.20" font-size="5.2" fill="#444" text-anchor="start" font-weight="normal" font-style="normal" >1.9</text>
<text x="186.60" y="252.00" font-size="5.2" fill="#444" text-anchor="start" font-weight="normal" font-style="normal" >0</text>
<text x="183.80" y="266.60" font-size="5.2" fill="#444" text-anchor="start" font-weight="normal" font-style="normal" >−1.6</text>
<path d="M196 226 H192 V234 H196 M192 230 H190 V246 H193.5 V242 H196 M193.5 246 V250 H196 M190 246 H189 V262 H196 M192.5 262 V258 H196" fill="none" stroke="#d0b8c0" stroke-width="0.5"/>
<defs>
<filter id="bl1" x="-20%" y="-150%" width="140%" height="400%"><feGaussianBlur stdDeviation="0.95"/></filter>
<filter id="bl2" x="-20%" y="-150%" width="140%" height="400%"><feGaussianBlur stdDeviation="1.6"/></filter>
<linearGradient id="hspR" x1="0" y1="0" x2="0" y2="1"><stop offset="0" stop-color="#8e8e8e"/><stop offset="0.3" stop-color="#a8a8a8"/><stop offset="0.62" stop-color="#b4b4b4"/><stop offset="1" stop-color="#d8d8d8"/></linearGradient>
</defs>
<text x="344.60" y="213.20" font-size="6.3" fill="#111" text-anchor="middle" font-weight="normal" font-style="normal" stroke="#111" stroke-width="0.08" >14d</text>
<text x="298.90" y="220.60" font-size="6.3" fill="#111" text-anchor="start" font-weight="normal" font-style="normal" stroke="#111" stroke-width="0.08" >Wb</text>
<text x="301.00" y="229.00" font-size="6.3" fill="#111" text-anchor="start" font-weight="normal" font-style="normal" stroke="#111" stroke-width="0.08" textLength="21.6" lengthAdjust="spacingAndGlyphs">HSP-70</text>
<text x="298.90" y="241.60" font-size="6.3" fill="#111" text-anchor="start" font-weight="normal" font-style="normal" stroke="#111" stroke-width="0.08" textLength="24.2" lengthAdjust="spacingAndGlyphs">Catalase</text>
<rect x="325.00" y="216.20" width="20.80" height="13.60" fill="#ededed" />
<rect x="345.60" y="216.20" width="16.20" height="13.60" fill="url(#hspR)" />
<rect x="346.6" y="221.6" width="14.6" height="2.9" fill="#111" filter="url(#bl1)"/>
<rect x="346.0" y="216.6" width="15.6" height="4.0" fill="#7c7c7c" filter="url(#bl2)"/>
<rect x="325.00" y="231.60" width="36.80" height="13.00" fill="#e2e2e2" />
<rect x="327.0" y="236.8" width="34" height="5.5" fill="#c4c4c4" filter="url(#bl2)"/>
<rect x="328.0" y="238.2" width="15.5" height="2.8" fill="#151515" rx="1" filter="url(#bl1)"/>
<rect x="346.3" y="238.2" width="15.0" height="2.8" fill="#151515" rx="1" filter="url(#bl1)"/>
<text x="335.20" y="253.60" font-size="6.3" fill="#111" text-anchor="middle" font-weight="normal" font-style="normal" stroke="#111" stroke-width="0.08" >HC</text>
<text x="352.80" y="253.60" font-size="6.3" fill="#111" text-anchor="middle" font-weight="normal" font-style="normal" stroke="#111" stroke-width="0.08" >β-Thal</text>
<text x="345.20" y="264.20" font-size="6.3" fill="#111" text-anchor="middle" font-weight="normal" font-style="normal" stroke="#111" stroke-width="0.08" >14d</text>
<text x="298.60" y="268.40" font-size="6.3" fill="#111" text-anchor="start" font-weight="normal" font-style="normal" stroke="#111" stroke-width="0.08" >Wb</text>
<text x="307.10" y="280.80" font-size="6.3" fill="#111" text-anchor="start" font-weight="normal" font-style="normal" stroke="#111" stroke-width="0.08" textLength="15.6" lengthAdjust="spacingAndGlyphs">Prdx2</text>
<text x="298.60" y="294.50" font-size="6.3" fill="#111" text-anchor="start" font-weight="normal" font-style="normal" stroke="#111" stroke-width="0.08" textLength="24.4" lengthAdjust="spacingAndGlyphs">Catalase</text>
<rect x="326.90" y="266.30" width="33.10" height="14.90" fill="#f6f6f6" />
<path d="M342 275.0 C347 273.0 354 273.4 357.5 275.3 C354 277.6 347 277.8 342 276.8 Z" fill="#151515" filter="url(#bl1)"/>
<path d="M328 275.3 L343 274.7 L343 277.0 L328 277.0 Z" fill="#5a5a5a" filter="url(#bl1)"/>
<rect x="326.90" y="285.20" width="33.10" height="13.70" fill="#e4e4e4" />
<rect x="327.5" y="291.2" width="32" height="5.6" fill="#c8c8c8" filter="url(#bl2)"/>
<rect x="328.0" y="292.9" width="14.3" height="2.6" fill="#151515" rx="1" filter="url(#bl1)"/>
<rect x="344.6" y="292.9" width="14.3" height="2.6" fill="#151515" rx="1" filter="url(#bl1)"/>
<text x="335.50" y="307.40" font-size="6.3" fill="#111" text-anchor="middle" font-weight="normal" font-style="normal" stroke="#111" stroke-width="0.08" >HC</text>
<text x="354.70" y="307.40" font-size="6.3" fill="#111" text-anchor="middle" font-weight="normal" font-style="normal" stroke="#111" stroke-width="0.08" >β−Thal</text>
<rect x="444.00" y="31.20" width="5.13" height="4.47" fill="#a8d9ec" />
<rect x="449.08" y="31.20" width="5.13" height="4.47" fill="#a8d9ec" />
<rect x="454.16" y="31.20" width="5.13" height="4.47" fill="#a8d9ec" />
<rect x="459.24" y="31.20" width="5.13" height="4.47" fill="#a8d9ec" />
<rect x="464.32" y="31.20" width="5.13" height="4.47" fill="#a8d9ec" />
<rect x="469.40" y="31.20" width="5.13" height="4.47" fill="#e54944" />
<rect x="474.48" y="31.20" width="5.13" height="4.47" fill="#fbd6c8" />
<rect x="479.56" y="31.20" width="5.13" height="4.47" fill="#f7b8a4" />
<rect x="484.64" y="31.20" width="5.13" height="4.47" fill="#fadcd1" />
<rect x="444.00" y="35.62" width="5.13" height="4.47" fill="#a4d8ec" />
<rect x="449.08" y="35.62" width="5.13" height="4.47" fill="#a4d8ec" />
<rect x="454.16" y="35.62" width="5.13" height="4.47" fill="#a4d8ec" />
<rect x="459.24" y="35.62" width="5.13" height="4.47" fill="#a4d8ec" />
<rect x="464.32" y="35.62" width="5.13" height="4.47" fill="#a4d8ec" />
<rect x="469.40" y="35.62" width="5.13" height="4.47" fill="#ef7f6a" />
<rect x="474.48" y="35.62" width="5.13" height="4.47" fill="#fbd6c8" />
<rect x="479.56" y="35.62" width="5.13" height="4.47" fill="#f5a691" />
<rect x="484.64" y="35.62" width="5.13" height="4.47" fill="#f7b8a4" />
<rect x="444.00" y="40.04" width="5.13" height="4.47" fill="#90d1e9" />
<rect x="449.08" y="40.04" width="5.13" height="4.47" fill="#90d1e9" />
<rect x="454.16" y="40.04" width="5.13" height="4.47" fill="#daecf3" />
<rect x="459.24" y="40.04" width="5.13" height="4.47" fill="#daecf3" />
<rect x="464.32" y="40.04" width="5.13" height="4.47" fill="#a8d9ec" />
<rect x="469.40" y="40.04" width="5.13" height="4.47" fill="#f39c87" />
<rect x="474.48" y="40.04" width="5.13" height="4.47" fill="#f8bfad" />
<rect x="479.56" y="40.04" width="5.13" height="4.47" fill="#f5a691" />
<rect x="484.64" y="40.04" width="5.13" height="4.47" fill="#f9c7b6" />
<rect x="444.00" y="44.46" width="5.13" height="4.47" fill="#a0d6eb" />
<rect x="449.08" y="44.46" width="5.13" height="4.47" fill="#ebf1f4" />
<rect x="454.16" y="44.46" width="5.13" height="4.47" fill="#a8d9ec" />
<rect x="459.24" y="44.46" width="5.13" height="4.47" fill="#a8d9ec" />
<rect x="464.32" y="44.46" width="5.13" height="4.47" fill="#a8d9ec" />
<rect x="469.40" y="44.46" width="5.13" height="4.47" fill="#f2937e" />
<rect x="474.48" y="44.46" width="5.13" height="4.47" fill="#f8bfad" />
<rect x="479.56" y="44.46" width="5.13" height="4.47" fill="#f6b09b" />
<rect x="484.64" y="44.46" width="5.13" height="4.47" fill="#fbd6c8" />
<rect x="444.00" y="48.88" width="5.13" height="4.47" fill="#a8d9ec" />
<rect x="449.08" y="48.88" width="5.13" height="4.47" fill="#daecf3" />
<rect x="454.16" y="48.88" width="5.13" height="4.47" fill="#a8d9ec" />
<rect x="459.24" y="48.88" width="5.13" height="4.47" fill="#a8d9ec" />
<rect x="464.32" y="48.88" width="5.13" height="4.47" fill="#b8e0ef" />
<rect x="469.40" y="48.88" width="5.13" height="4.47" fill="#f2937e" />
<rect x="474.48" y="48.88" width="5.13" height="4.47" fill="#ef7f6a" />
<rect x="479.56" y="48.88" width="5.13" height="4.47" fill="#f7b8a4" />
<rect x="484.64" y="48.88" width="5.13" height="4.47" fill="#fbd6c8" />
<rect x="444.00" y="53.30" width="5.13" height="4.47" fill="#a8d9ec" />
<rect x="449.08" y="53.30" width="5.13" height="4.47" fill="#a8d9ec" />
<rect x="454.16" y="53.30" width="5.13" height="4.47" fill="#a8d9ec" />
<rect x="459.24" y="53.30" width="5.13" height="4.47" fill="#d1eaf2" />
<rect x="464.32" y="53.30" width="5.13" height="4.47" fill="#e2eff3" />
<rect x="469.40" y="53.30" width="5.13" height="4.47" fill="#f5a691" />
<rect x="474.48" y="53.30" width="5.13" height="4.47" fill="#e8594d" />
<rect x="479.56" y="53.30" width="5.13" height="4.47" fill="#f9c7b6" />
<rect x="484.64" y="53.30" width="5.13" height="4.47" fill="#fbd6c8" />
<rect x="444.00" y="57.72" width="5.13" height="4.47" fill="#a8d9ec" />
<rect x="449.08" y="57.72" width="5.13" height="4.47" fill="#a8d9ec" />
<rect x="454.16" y="57.72" width="5.13" height="4.47" fill="#acdbed" />
<rect x="459.24" y="57.72" width="5.13" height="4.47" fill="#e7f0f3" />
<rect x="464.32" y="57.72" width="5.13" height="4.47" fill="#c0e4f1" />
<rect x="469.40" y="57.72" width="5.13" height="4.47" fill="#e65046" />
<rect x="474.48" y="57.72" width="5.13" height="4.47" fill="#fbd6c8" />
<rect x="479.56" y="57.72" width="5.13" height="4.47" fill="#f5a691" />
<rect x="484.64" y="57.72" width="5.13" height="4.47" fill="#f0f3f4" />
<rect x="444.00" y="62.14" width="5.13" height="4.47" fill="#acdbed" />
<rect x="449.08" y="62.14" width="5.13" height="4.47" fill="#acdbed" />
<rect x="454.16" y="62.14" width="5.13" height="4.47" fill="#a8d9ec" />
<rect x="459.24" y="62.14" width="5.13" height="4.47" fill="#b8e0ef" />
<rect x="464.32" y="62.14" width="5.13" height="4.47" fill="#cce8f2" />
<rect x="469.40" y="62.14" width="5.13" height="4.47" fill="#f39c87" />
<rect x="474.48" y="62.14" width="5.13" height="4.47" fill="#f7b8a4" />
<rect x="479.56" y="62.14" width="5.13" height="4.47" fill="#f5a691" />
<rect x="484.64" y="62.14" width="5.13" height="4.47" fill="#f4f4f4" />
<rect x="444.00" y="66.56" width="5.13" height="4.47" fill="#a8d9ec" />
<rect x="449.08" y="66.56" width="5.13" height="4.47" fill="#acdbed" />
<rect x="454.16" y="66.56" width="5.13" height="4.47" fill="#a0d6eb" />
<rect x="459.24" y="66.56" width="5.13" height="4.47" fill="#e2eff3" />
<rect x="464.32" y="66.56" width="5.13" height="4.47" fill="#c4e5f1" />
<rect x="469.40" y="66.56" width="5.13" height="4.47" fill="#f6ebe7" />
<rect x="474.48" y="66.56" width="5.13" height="4.47" fill="#cd162e" />
<rect x="479.56" y="66.56" width="5.13" height="4.47" fill="#f5a691" />
<rect x="484.64" y="66.56" width="5.13" height="4.47" fill="#fadcd1" />
<rect x="444.00" y="70.98" width="5.13" height="4.47" fill="#a8d9ec" />
<rect x="449.08" y="70.98" width="5.13" height="4.47" fill="#a0d6eb" />
<rect x="454.16" y="70.98" width="5.13" height="4.47" fill="#a8d9ec" />
<rect x="459.24" y="70.98" width="5.13" height="4.47" fill="#a8d9ec" />
<rect x="464.32" y="70.98" width="5.13" height="4.47" fill="#c8e7f2" />
<rect x="469.40" y="70.98" width="5.13" height="4.47" fill="#fad9cc" />
<rect x="474.48" y="70.98" width="5.13" height="4.47" fill="#e0343d" />
<rect x="479.56" y="70.98" width="5.13" height="4.47" fill="#f6b4a0" />
<rect x="484.64" y="70.98" width="5.13" height="4.47" fill="#fad9cc" />
<rect x="444.00" y="75.40" width="5.13" height="4.47" fill="#e7f0f3" />
<rect x="449.08" y="75.40" width="5.13" height="4.47" fill="#c8e7f2" />
<rect x="454.16" y="75.40" width="5.13" height="4.47" fill="#a0d6eb" />
<rect x="459.24" y="75.40" width="5.13" height="4.47" fill="#a8d9ec" />
<rect x="464.32" y="75.40" width="5.13" height="4.47" fill="#a0d6eb" />
<rect x="469.40" y="75.40" width="5.13" height="4.47" fill="#fad2c4" />
<rect x="474.48" y="75.40" width="5.13" height="4.47" fill="#e54944" />
<rect x="479.56" y="75.40" width="5.13" height="4.47" fill="#f8bba8" />
<rect x="484.64" y="75.40" width="5.13" height="4.47" fill="#f8e2da" />
<rect x="444.00" y="79.82" width="5.13" height="4.47" fill="#a8d9ec" />
<rect x="449.08" y="79.82" width="5.13" height="4.47" fill="#daecf3" />
<rect x="454.16" y="79.82" width="5.13" height="4.47" fill="#acdbed" />
<rect x="459.24" y="79.82" width="5.13" height="4.47" fill="#a8d9ec" />
<rect x="464.32" y="79.82" width="5.13" height="4.47" fill="#a8d9ec" />
<rect x="469.40" y="79.82" width="5.13" height="4.47" fill="#f8c3b2" />
<rect x="474.48" y="79.82" width="5.13" height="4.47" fill="#e0343d" />
<rect x="479.56" y="79.82" width="5.13" height="4.47" fill="#f4f4f4" />
<rect x="484.64" y="79.82" width="5.13" height="4.47" fill="#facbba" />
<rect x="444.00" y="84.24" width="5.13" height="4.47" fill="#c0e4f1" />
<rect x="449.08" y="84.24" width="5.13" height="4.47" fill="#c0e4f1" />
<rect x="454.16" y="84.24" width="5.13" height="4.47" fill="#c8e7f2" />
<rect x="459.24" y="84.24" width="5.13" height="4.47" fill="#c0e4f1" />
<rect x="464.32" y="84.24" width="5.13" height="4.47" fill="#2dafdc" />
<rect x="469.40" y="84.24" width="5.13" height="4.47" fill="#f9c7b6" />
<rect x="474.48" y="84.24" width="5.13" height="4.47" fill="#e0343d" />
<rect x="479.56" y="84.24" width="5.13" height="4.47" fill="#f9dfd5" />
<rect x="484.64" y="84.24" width="5.13" height="4.47" fill="#f9c7b6" />
<rect x="444.00" y="88.66" width="5.13" height="4.47" fill="#c8e7f2" />
<rect x="449.08" y="88.66" width="5.13" height="4.47" fill="#c8e7f2" />
<rect x="454.16" y="88.66" width="5.13" height="4.47" fill="#c0e4f1" />
<rect x="459.24" y="88.66" width="5.13" height="4.47" fill="#c8e7f2" />
<rect x="464.32" y="88.66" width="5.13" height="4.47" fill="#c8e7f2" />
<rect x="469.40" y="88.66" width="5.13" height="4.47" fill="#e54944" />
<rect x="474.48" y="88.66" width="5.13" height="4.47" fill="#fad9cc" />
<rect x="479.56" y="88.66" width="5.13" height="4.47" fill="#f0f3f4" />
<rect x="484.64" y="88.66" width="5.13" height="4.47" fill="#f5a691" />
<rect x="444.00" y="93.08" width="5.13" height="4.47" fill="#c8e7f2" />
<rect x="449.08" y="93.08" width="5.13" height="4.47" fill="#a8d9ec" />
<rect x="454.16" y="93.08" width="5.13" height="4.47" fill="#c8e7f2" />
<rect x="459.24" y="93.08" width="5.13" height="4.47" fill="#c8e7f2" />
<rect x="464.32" y="93.08" width="5.13" height="4.47" fill="#c0e4f1" />
<rect x="469.40" y="93.08" width="5.13" height="4.47" fill="#f08974" />
<rect x="474.48" y="93.08" width="5.13" height="4.47" fill="#e65046" />
<rect x="479.56" y="93.08" width="5.13" height="4.47" fill="#f4f4f4" />
<rect x="484.64" y="93.08" width="5.13" height="4.47" fill="#fad9cc" />
<rect x="444.00" y="97.50" width="5.13" height="4.47" fill="#a0d6eb" />
<rect x="449.08" y="97.50" width="5.13" height="4.47" fill="#60c2e5" />
<rect x="454.16" y="97.50" width="5.13" height="4.47" fill="#facbba" />
<rect x="459.24" y="97.50" width="5.13" height="4.47" fill="#90d1e9" />
<rect x="464.32" y="97.50" width="5.13" height="4.47" fill="#b4deee" />
<rect x="469.40" y="97.50" width="5.13" height="4.47" fill="#f39c87" />
<rect x="474.48" y="97.50" width="5.13" height="4.47" fill="#ef7f6a" />
<rect x="479.56" y="97.50" width="5.13" height="4.47" fill="#fad9cc" />
<rect x="484.64" y="97.50" width="5.13" height="4.47" fill="#fad2c4" />
<rect x="444.00" y="101.92" width="5.13" height="4.47" fill="#e2eff3" />
<rect x="449.08" y="101.92" width="5.13" height="4.47" fill="#39b4df" />
<rect x="454.16" y="101.92" width="5.13" height="4.47" fill="#facebf" />
<rect x="459.24" y="101.92" width="5.13" height="4.47" fill="#a0d6eb" />
<rect x="464.32" y="101.92" width="5.13" height="4.47" fill="#c8e7f2" />
<rect x="469.40" y="101.92" width="5.13" height="4.47" fill="#f18e79" />
<rect x="474.48" y="101.92" width="5.13" height="4.47" fill="#f39c87" />
<rect x="479.56" y="101.92" width="5.13" height="4.47" fill="#fadcd1" />
<rect x="484.64" y="101.92" width="5.13" height="4.47" fill="#fad2c4" />
<rect x="444.00" y="106.34" width="5.13" height="4.47" fill="#ebf1f4" />
<rect x="449.08" y="106.34" width="5.13" height="4.47" fill="#50bde3" />
<rect x="454.16" y="106.34" width="5.13" height="4.47" fill="#f4f4f4" />
<rect x="459.24" y="106.34" width="5.13" height="4.47" fill="#e2eff3" />
<rect x="464.32" y="106.34" width="5.13" height="4.47" fill="#c0e4f1" />
<rect x="469.40" y="106.34" width="5.13" height="4.47" fill="#e23b3f" />
<rect x="474.48" y="106.34" width="5.13" height="4.47" fill="#fadcd1" />
<rect x="479.56" y="106.34" width="5.13" height="4.47" fill="#fbd6c8" />
<rect x="484.64" y="106.34" width="5.13" height="4.47" fill="#fad2c4" />
<rect x="444.00" y="110.76" width="5.13" height="4.47" fill="#a8d9ec" />
<rect x="449.08" y="110.76" width="5.13" height="4.47" fill="#90d1e9" />
<rect x="454.16" y="110.76" width="5.13" height="4.47" fill="#ebf1f4" />
<rect x="459.24" y="110.76" width="5.13" height="4.47" fill="#c8e7f2" />
<rect x="464.32" y="110.76" width="5.13" height="4.47" fill="#a8d9ec" />
<rect x="469.40" y="110.76" width="5.13" height="4.47" fill="#e54944" />
<rect x="474.48" y="110.76" width="5.13" height="4.47" fill="#f8e2da" />
<rect x="479.56" y="110.76" width="5.13" height="4.47" fill="#fad9cc" />
<rect x="484.64" y="110.76" width="5.13" height="4.47" fill="#fbd6c8" />
<rect x="444.00" y="115.18" width="5.13" height="4.47" fill="#a8d9ec" />
<rect x="449.08" y="115.18" width="5.13" height="4.47" fill="#a8d9ec" />
<rect x="454.16" y="115.18" width="5.13" height="4.47" fill="#ebf1f4" />
<rect x="459.24" y="115.18" width="5.13" height="4.47" fill="#e2eff3" />
<rect x="464.32" y="115.18" width="5.13" height="4.47" fill="#a8d9ec" />
<rect x="469.40" y="115.18" width="5.13" height="4.47" fill="#ef7f6a" />
<rect x="474.48" y="115.18" width="5.13" height="4.47" fill="#f7e8e2" />
<rect x="479.56" y="115.18" width="5.13" height="4.47" fill="#f8c3b2" />
<rect x="484.64" y="115.18" width="5.13" height="4.47" fill="#f8c3b2" />
<rect x="444.00" y="119.60" width="5.13" height="4.47" fill="#f4f4f4" />
<rect x="449.08" y="119.60" width="5.13" height="4.47" fill="#a0d6eb" />
<rect x="454.16" y="119.60" width="5.13" height="4.47" fill="#a8d9ec" />
<rect x="459.24" y="119.60" width="5.13" height="4.47" fill="#a8d9ec" />
<rect x="464.32" y="119.60" width="5.13" height="4.47" fill="#a8d9ec" />
<rect x="469.40" y="119.60" width="5.13" height="4.47" fill="#cd162e" />
<rect x="474.48" y="119.60" width="5.13" height="4.47" fill="#fad9cc" />
<rect x="479.56" y="119.60" width="5.13" height="4.47" fill="#f8c3b2" />
<rect x="484.64" y="119.60" width="5.13" height="4.47" fill="#facebf" />
<rect x="444.00" y="124.02" width="5.13" height="4.47" fill="#f6ebe7" />
<rect x="449.08" y="124.02" width="5.13" height="4.47" fill="#a8d9ec" />
<rect x="454.16" y="124.02" width="5.13" height="4.47" fill="#a8d9ec" />
<rect x="459.24" y="124.02" width="5.13" height="4.47" fill="#a8d9ec" />
<rect x="464.32" y="124.02" width="5.13" height="4.47" fill="#a8d9ec" />
<rect x="469.40" y="124.02" width="5.13" height="4.47" fill="#e65046" />
<rect x="474.48" y="124.02" width="5.13" height="4.47" fill="#fad2c4" />
<rect x="479.56" y="124.02" width="5.13" height="4.47" fill="#fad9cc" />
<rect x="484.64" y="124.02" width="5.13" height="4.47" fill="#facbba" />
<rect x="444.00" y="128.44" width="5.13" height="4.47" fill="#90d1e9" />
<rect x="449.08" y="128.44" width="5.13" height="4.47" fill="#70c7e6" />
<rect x="454.16" y="128.44" width="5.13" height="4.47" fill="#a8d9ec" />
<rect x="459.24" y="128.44" width="5.13" height="4.47" fill="#f5f1f0" />
<rect x="464.32" y="128.44" width="5.13" height="4.47" fill="#c8e7f2" />
<rect x="469.40" y="128.44" width="5.13" height="4.47" fill="#f39c87" />
<rect x="474.48" y="128.44" width="5.13" height="4.47" fill="#f4f4f4" />
<rect x="479.56" y="128.44" width="5.13" height="4.47" fill="#ef7f6a" />
<rect x="484.64" y="128.44" width="5.13" height="4.47" fill="#facbba" />
<rect x="444.00" y="132.86" width="5.13" height="4.47" fill="#daecf3" />
<rect x="449.08" y="132.86" width="5.13" height="4.47" fill="#a8d9ec" />
<rect x="454.16" y="132.86" width="5.13" height="4.47" fill="#a8d9ec" />
<rect x="459.24" y="132.86" width="5.13" height="4.47" fill="#f0f3f4" />
<rect x="464.32" y="132.86" width="5.13" height="4.47" fill="#78cae7" />
<rect x="469.40" y="132.86" width="5.13" height="4.47" fill="#f8c3b2" />
<rect x="474.48" y="132.86" width="5.13" height="4.47" fill="#f5f1f0" />
<rect x="479.56" y="132.86" width="5.13" height="4.47" fill="#e65046" />
<rect x="484.64" y="132.86" width="5.13" height="4.47" fill="#fad9cc" />
<rect x="444.00" y="137.28" width="5.13" height="4.47" fill="#b4deee" />
<rect x="449.08" y="137.28" width="5.13" height="4.47" fill="#a8d9ec" />
<rect x="454.16" y="137.28" width="5.13" height="4.47" fill="#ebf1f4" />
<rect x="459.24" y="137.28" width="5.13" height="4.47" fill="#acdbed" />
<rect x="464.32" y="137.28" width="5.13" height="4.47" fill="#a0d6eb" />
<rect x="469.40" y="137.28" width="5.13" height="4.47" fill="#f39c87" />
<rect x="474.48" y="137.28" width="5.13" height="4.47" fill="#f8e5de" />
<rect x="479.56" y="137.28" width="5.13" height="4.47" fill="#e8594d" />
<rect x="484.64" y="137.28" width="5.13" height="4.47" fill="#fad9cc" />
<rect x="444.00" y="141.70" width="5.13" height="4.47" fill="#a8d9ec" />
<rect x="449.08" y="141.70" width="5.13" height="4.47" fill="#acdbed" />
<rect x="454.16" y="141.70" width="5.13" height="4.47" fill="#c8e7f2" />
<rect x="459.24" y="141.70" width="5.13" height="4.47" fill="#78cae7" />
<rect x="464.32" y="141.70" width="5.13" height="4.47" fill="#a8d9ec" />
<rect x="469.40" y="141.70" width="5.13" height="4.47" fill="#e8594d" />
<rect x="474.48" y="141.70" width="5.13" height="4.47" fill="#f8e2da" />
<rect x="479.56" y="141.70" width="5.13" height="4.47" fill="#f39c87" />
<rect x="484.64" y="141.70" width="5.13" height="4.47" fill="#f8e2da" />
<rect x="444.00" y="146.12" width="5.13" height="4.47" fill="#c8e7f2" />
<rect x="449.08" y="146.12" width="5.13" height="4.47" fill="#c8e7f2" />
<rect x="454.16" y="146.12" width="5.13" height="4.47" fill="#c8e7f2" />
<rect x="459.24" y="146.12" width="5.13" height="4.47" fill="#c8e7f2" />
<rect x="464.32" y="146.12" width="5.13" height="4.47" fill="#c8e7f2" />
<rect x="469.40" y="146.12" width="5.13" height="4.47" fill="#e8594d" />
<rect x="474.48" y="146.12" width="5.13" height="4.47" fill="#c8e7f2" />
<rect x="479.56" y="146.12" width="5.13" height="4.47" fill="#f39c87" />
<rect x="484.64" y="146.12" width="5.13" height="4.47" fill="#fadcd1" />
<rect x="444.00" y="150.54" width="5.13" height="4.47" fill="#60c2e5" />
<rect x="449.08" y="150.54" width="5.13" height="4.47" fill="#f4f4f4" />
<rect x="454.16" y="150.54" width="5.13" height="4.47" fill="#60c2e5" />
<rect x="459.24" y="150.54" width="5.13" height="4.47" fill="#f5eeeb" />
<rect x="464.32" y="150.54" width="5.13" height="4.47" fill="#60c2e5" />
<rect x="469.40" y="150.54" width="5.13" height="4.47" fill="#fbd6c8" />
<rect x="474.48" y="150.54" width="5.13" height="4.47" fill="#f4f4f4" />
<rect x="479.56" y="150.54" width="5.13" height="4.47" fill="#f08974" />
<rect x="484.64" y="150.54" width="5.13" height="4.47" fill="#fad2c4" />
<rect x="444.00" y="154.96" width="5.13" height="4.47" fill="#78cae7" />
<rect x="449.08" y="154.96" width="5.13" height="4.47" fill="#fadcd1" />
<rect x="454.16" y="154.96" width="5.13" height="4.47" fill="#58c0e4" />
<rect x="459.24" y="154.96" width="5.13" height="4.47" fill="#f0f3f4" />
<rect x="464.32" y="154.96" width="5.13" height="4.47" fill="#58c0e4" />
<rect x="469.40" y="154.96" width="5.13" height="4.47" fill="#facbba" />
<rect x="474.48" y="154.96" width="5.13" height="4.47" fill="#f4f4f4" />
<rect x="479.56" y="154.96" width="5.13" height="4.47" fill="#e8594d" />
<rect x="484.64" y="154.96" width="5.13" height="4.47" fill="#fad9cc" />
<rect x="444.00" y="159.38" width="5.13" height="4.47" fill="#0b7cb9" />
<rect x="449.08" y="159.38" width="5.13" height="4.47" fill="#e2eff3" />
<rect x="454.16" y="159.38" width="5.13" height="4.47" fill="#c8e7f2" />
<rect x="459.24" y="159.38" width="5.13" height="4.47" fill="#c0e4f1" />
<rect x="464.32" y="159.38" width="5.13" height="4.47" fill="#c8e7f2" />
<rect x="469.40" y="159.38" width="5.13" height="4.47" fill="#fad2c4" />
<rect x="474.48" y="159.38" width="5.13" height="4.47" fill="#f4f4f4" />
<rect x="479.56" y="159.38" width="5.13" height="4.47" fill="#f6b4a0" />
<rect x="484.64" y="159.38" width="5.13" height="4.47" fill="#fadcd1" />
<rect x="444.00" y="163.80" width="5.13" height="4.47" fill="#daecf3" />
<rect x="449.08" y="163.80" width="5.13" height="4.47" fill="#facbba" />
<rect x="454.16" y="163.80" width="5.13" height="4.47" fill="#70c7e6" />
<rect x="459.24" y="163.80" width="5.13" height="4.47" fill="#70c7e6" />
<rect x="464.32" y="163.80" width="5.13" height="4.47" fill="#78cae7" />
<rect x="469.40" y="163.80" width="5.13" height="4.47" fill="#fbd6c8" />
<rect x="474.48" y="163.80" width="5.13" height="4.47" fill="#fad9cc" />
<rect x="479.56" y="163.80" width="5.13" height="4.47" fill="#f6b4a0" />
<rect x="484.64" y="163.80" width="5.13" height="4.47" fill="#f5a691" />
<rect x="444.00" y="168.22" width="5.13" height="4.47" fill="#50bde3" />
<rect x="449.08" y="168.22" width="5.13" height="4.47" fill="#f5eeeb" />
<rect x="454.16" y="168.22" width="5.13" height="4.47" fill="#ebf1f4" />
<rect x="459.24" y="168.22" width="5.13" height="4.47" fill="#50bde3" />
<rect x="464.32" y="168.22" width="5.13" height="4.47" fill="#50bde3" />
<rect x="469.40" y="168.22" width="5.13" height="4.47" fill="#fad2c4" />
<rect x="474.48" y="168.22" width="5.13" height="4.47" fill="#fbd6c8" />
<rect x="479.56" y="168.22" width="5.13" height="4.47" fill="#f5a691" />
<rect x="484.64" y="168.22" width="5.13" height="4.47" fill="#fad9cc" />
<rect x="444.00" y="172.64" width="5.13" height="4.47" fill="#58c0e4" />
<rect x="449.08" y="172.64" width="5.13" height="4.47" fill="#ebf1f4" />
<rect x="454.16" y="172.64" width="5.13" height="4.47" fill="#4abbe2" />
<rect x="459.24" y="172.64" width="5.13" height="4.47" fill="#e2eff3" />
<rect x="464.32" y="172.64" width="5.13" height="4.47" fill="#ebf1f4" />
<rect x="469.40" y="172.64" width="5.13" height="4.47" fill="#f8e5de" />
<rect x="474.48" y="172.64" width="5.13" height="4.47" fill="#fadcd1" />
<rect x="479.56" y="172.64" width="5.13" height="4.47" fill="#ef7f6a" />
<rect x="484.64" y="172.64" width="5.13" height="4.47" fill="#f6b4a0" />
<rect x="444.00" y="177.06" width="5.13" height="4.47" fill="#a8d9ec" />
<rect x="449.08" y="177.06" width="5.13" height="4.47" fill="#a8d9ec" />
<rect x="454.16" y="177.06" width="5.13" height="4.47" fill="#a8d9ec" />
<rect x="459.24" y="177.06" width="5.13" height="4.47" fill="#a8d9ec" />
<rect x="464.32" y="177.06" width="5.13" height="4.47" fill="#f5f1f0" />
<rect x="469.40" y="177.06" width="5.13" height="4.47" fill="#fad9cc" />
<rect x="474.48" y="177.06" width="5.13" height="4.47" fill="#f8e5de" />
<rect x="479.56" y="177.06" width="5.13" height="4.47" fill="#e54944" />
<rect x="484.64" y="177.06" width="5.13" height="4.47" fill="#fad2c4" />
<rect x="444.00" y="181.48" width="5.13" height="4.47" fill="#acdbed" />
<rect x="449.08" y="181.48" width="5.13" height="4.47" fill="#c0e4f1" />
<rect x="454.16" y="181.48" width="5.13" height="4.47" fill="#acdbed" />
<rect x="459.24" y="181.48" width="5.13" height="4.47" fill="#b4deee" />
<rect x="464.32" y="181.48" width="5.13" height="4.47" fill="#daecf3" />
<rect x="469.40" y="181.48" width="5.13" height="4.47" fill="#f7e8e2" />
<rect x="474.48" y="181.48" width="5.13" height="4.47" fill="#fadcd1" />
<rect x="479.56" y="181.48" width="5.13" height="4.47" fill="#df2d3b" />
<rect x="484.64" y="181.48" width="5.13" height="4.47" fill="#fad2c4" />
<rect x="444.00" y="185.90" width="5.13" height="4.47" fill="#c0e4f1" />
<rect x="449.08" y="185.90" width="5.13" height="4.47" fill="#c0e4f1" />
<rect x="454.16" y="185.90" width="5.13" height="4.47" fill="#c0e4f1" />
<rect x="459.24" y="185.90" width="5.13" height="4.47" fill="#c0e4f1" />
<rect x="464.32" y="185.90" width="5.13" height="4.47" fill="#c8e7f2" />
<rect x="469.40" y="185.90" width="5.13" height="4.47" fill="#fad9cc" />
<rect x="474.48" y="185.90" width="5.13" height="4.47" fill="#f8e2da" />
<rect x="479.56" y="185.90" width="5.13" height="4.47" fill="#e23b3f" />
<rect x="484.64" y="185.90" width="5.13" height="4.47" fill="#fbd6c8" />
<rect x="444.00" y="190.32" width="5.13" height="4.47" fill="#acdbed" />
<rect x="449.08" y="190.32" width="5.13" height="4.47" fill="#c0e4f1" />
<rect x="454.16" y="190.32" width="5.13" height="4.47" fill="#acdbed" />
<rect x="459.24" y="190.32" width="5.13" height="4.47" fill="#acdbed" />
<rect x="464.32" y="190.32" width="5.13" height="4.47" fill="#c0e4f1" />
<rect x="469.40" y="190.32" width="5.13" height="4.47" fill="#fad9cc" />
<rect x="474.48" y="190.32" width="5.13" height="4.47" fill="#fbd6c8" />
<rect x="479.56" y="190.32" width="5.13" height="4.47" fill="#e65046" />
<rect x="484.64" y="190.32" width="5.13" height="4.47" fill="#f8c3b2" />
<rect x="444.00" y="194.74" width="5.13" height="4.47" fill="#a8d9ec" />
<rect x="449.08" y="194.74" width="5.13" height="4.47" fill="#b4deee" />
<rect x="454.16" y="194.74" width="5.13" height="4.47" fill="#acdbed" />
<rect x="459.24" y="194.74" width="5.13" height="4.47" fill="#acdbed" />
<rect x="464.32" y="194.74" width="5.13" height="4.47" fill="#78cae7" />
<rect x="469.40" y="194.74" width="5.13" height="4.47" fill="#f5eeeb" />
<rect x="474.48" y="194.74" width="5.13" height="4.47" fill="#fbd6c8" />
<rect x="479.56" y="194.74" width="5.13" height="4.47" fill="#f7e8e2" />
<rect x="484.64" y="194.74" width="5.13" height="4.47" fill="#c8102b" />
<rect x="444.00" y="199.16" width="5.13" height="4.47" fill="#a8d9ec" />
<rect x="449.08" y="199.16" width="5.13" height="4.47" fill="#e2eff3" />
<rect x="454.16" y="199.16" width="5.13" height="4.47" fill="#acdbed" />
<rect x="459.24" y="199.16" width="5.13" height="4.47" fill="#a8d9ec" />
<rect x="464.32" y="199.16" width="5.13" height="4.47" fill="#78cae7" />
<rect x="469.40" y="199.16" width="5.13" height="4.47" fill="#f5eeeb" />
<rect x="474.48" y="199.16" width="5.13" height="4.47" fill="#fad9cc" />
<rect x="479.56" y="199.16" width="5.13" height="4.47" fill="#f6b4a0" />
<rect x="484.64" y="199.16" width="5.13" height="4.47" fill="#df2d3b" />
<rect x="444.00" y="203.58" width="5.13" height="4.47" fill="#a8d9ec" />
<rect x="449.08" y="203.58" width="5.13" height="4.47" fill="#a8d9ec" />
<rect x="454.16" y="203.58" width="5.13" height="4.47" fill="#daecf3" />
<rect x="459.24" y="203.58" width="5.13" height="4.47" fill="#daecf3" />
<rect x="464.32" y="203.58" width="5.13" height="4.47" fill="#acdbed" />
<rect x="469.40" y="203.58" width="5.13" height="4.47" fill="#f5eeeb" />
<rect x="474.48" y="203.58" width="5.13" height="4.47" fill="#fadcd1" />
<rect x="479.56" y="203.58" width="5.13" height="4.47" fill="#f6b4a0" />
<rect x="484.64" y="203.58" width="5.13" height="4.47" fill="#df2d3b" />
<rect x="444.00" y="208.00" width="5.13" height="4.47" fill="#c0e4f1" />
<rect x="449.08" y="208.00" width="5.13" height="4.47" fill="#c0e4f1" />
<rect x="454.16" y="208.00" width="5.13" height="4.47" fill="#c0e4f1" />
<rect x="459.24" y="208.00" width="5.13" height="4.47" fill="#c0e4f1" />
<rect x="464.32" y="208.00" width="5.13" height="4.47" fill="#c8e7f2" />
<rect x="469.40" y="208.00" width="5.13" height="4.47" fill="#c8e7f2" />
<rect x="474.48" y="208.00" width="5.13" height="4.47" fill="#ef7f6a" />
<rect x="479.56" y="208.00" width="5.13" height="4.47" fill="#fbd6c8" />
<rect x="484.64" y="208.00" width="5.13" height="4.47" fill="#f18e79" />
<rect x="444.00" y="212.42" width="5.13" height="4.47" fill="#c0e4f1" />
<rect x="449.08" y="212.42" width="5.13" height="4.47" fill="#c8e7f2" />
<rect x="454.16" y="212.42" width="5.13" height="4.47" fill="#c0e4f1" />
<rect x="459.24" y="212.42" width="5.13" height="4.47" fill="#c0e4f1" />
<rect x="464.32" y="212.42" width="5.13" height="4.47" fill="#d1eaf2" />
<rect x="469.40" y="212.42" width="5.13" height="4.47" fill="#fad9cc" />
<rect x="474.48" y="212.42" width="5.13" height="4.47" fill="#fbd6c8" />
<rect x="479.56" y="212.42" width="5.13" height="4.47" fill="#f7e8e2" />
<rect x="484.64" y="212.42" width="5.13" height="4.47" fill="#cd162e" />
<rect x="444.00" y="216.84" width="5.13" height="4.47" fill="#c0e4f1" />
<rect x="449.08" y="216.84" width="5.13" height="4.47" fill="#c8e7f2" />
<rect x="454.16" y="216.84" width="5.13" height="4.47" fill="#acdbed" />
<rect x="459.24" y="216.84" width="5.13" height="4.47" fill="#c8e7f2" />
<rect x="464.32" y="216.84" width="5.13" height="4.47" fill="#acdbed" />
<rect x="469.40" y="216.84" width="5.13" height="4.47" fill="#f6b4a0" />
<rect x="474.48" y="216.84" width="5.13" height="4.47" fill="#f7e8e2" />
<rect x="479.56" y="216.84" width="5.13" height="4.47" fill="#f5eeeb" />
<rect x="484.64" y="216.84" width="5.13" height="4.47" fill="#cd162e" />
<rect x="444.00" y="221.26" width="5.13" height="4.47" fill="#ebf1f4" />
<rect x="449.08" y="221.26" width="5.13" height="4.47" fill="#b4deee" />
<rect x="454.16" y="221.26" width="5.13" height="4.47" fill="#daecf3" />
<rect x="459.24" y="221.26" width="5.13" height="4.47" fill="#c8e7f2" />
<rect x="464.32" y="221.26" width="5.13" height="4.47" fill="#2dafdc" />
<rect x="469.40" y="221.26" width="5.13" height="4.47" fill="#f8c3b2" />
<rect x="474.48" y="221.26" width="5.13" height="4.47" fill="#fad9cc" />
<rect x="479.56" y="221.26" width="5.13" height="4.47" fill="#f5eeeb" />
<rect x="484.64" y="221.26" width="5.13" height="4.47" fill="#e23b3f" />
<rect x="444.00" y="225.68" width="5.13" height="4.47" fill="#facbba" />
<rect x="449.08" y="225.68" width="5.13" height="4.47" fill="#f7e8e2" />
<rect x="454.16" y="225.68" width="5.13" height="4.47" fill="#f8c3b2" />
<rect x="459.24" y="225.68" width="5.13" height="4.47" fill="#e8594d" />
<rect x="464.32" y="225.68" width="5.13" height="4.47" fill="#ef7f6a" />
<rect x="469.40" y="225.68" width="5.13" height="4.47" fill="#f4f4f4" />
<rect x="474.48" y="225.68" width="5.13" height="4.47" fill="#68c4e5" />
<rect x="479.56" y="225.68" width="5.13" height="4.47" fill="#a4d8ec" />
<rect x="484.64" y="225.68" width="5.13" height="4.47" fill="#98d4ea" />
<rect x="444.00" y="230.10" width="5.13" height="4.47" fill="#f5a691" />
<rect x="449.08" y="230.10" width="5.13" height="4.47" fill="#f8e2da" />
<rect x="454.16" y="230.10" width="5.13" height="4.47" fill="#facbba" />
<rect x="459.24" y="230.10" width="5.13" height="4.47" fill="#ef7f6a" />
<rect x="464.32" y="230.10" width="5.13" height="4.47" fill="#fbd6c8" />
<rect x="469.40" y="230.10" width="5.13" height="4.47" fill="#e2eff3" />
<rect x="474.48" y="230.10" width="5.13" height="4.47" fill="#4abbe2" />
<rect x="479.56" y="230.10" width="5.13" height="4.47" fill="#2dafdc" />
<rect x="484.64" y="230.10" width="5.13" height="4.47" fill="#acdbed" />
<rect x="444.00" y="234.52" width="5.13" height="4.47" fill="#f39c87" />
<rect x="449.08" y="234.52" width="5.13" height="4.47" fill="#f7e8e2" />
<rect x="454.16" y="234.52" width="5.13" height="4.47" fill="#f8c3b2" />
<rect x="459.24" y="234.52" width="5.13" height="4.47" fill="#f8e2da" />
<rect x="464.32" y="234.52" width="5.13" height="4.47" fill="#f6b4a0" />
<rect x="469.40" y="234.52" width="5.13" height="4.47" fill="#f8e5de" />
<rect x="474.48" y="234.52" width="5.13" height="4.47" fill="#ebf1f4" />
<rect x="479.56" y="234.52" width="5.13" height="4.47" fill="#16a6d8" />
<rect x="484.64" y="234.52" width="5.13" height="4.47" fill="#16a6d8" />
<rect x="444.00" y="238.94" width="5.13" height="4.47" fill="#ef7f6a" />
<rect x="449.08" y="238.94" width="5.13" height="4.47" fill="#a4d8ec" />
<rect x="454.16" y="238.94" width="5.13" height="4.47" fill="#fad9cc" />
<rect x="459.24" y="238.94" width="5.13" height="4.47" fill="#f8c3b2" />
<rect x="464.32" y="238.94" width="5.13" height="4.47" fill="#f5a691" />
<rect x="469.40" y="238.94" width="5.13" height="4.47" fill="#a4d8ec" />
<rect x="474.48" y="238.94" width="5.13" height="4.47" fill="#a4d8ec" />
<rect x="479.56" y="238.94" width="5.13" height="4.47" fill="#a4d8ec" />
<rect x="484.64" y="238.94" width="5.13" height="4.47" fill="#a4d8ec" />
<rect x="444.00" y="243.36" width="5.13" height="4.47" fill="#ef7f6a" />
<rect x="449.08" y="243.36" width="5.13" height="4.47" fill="#f4f4f4" />
<rect x="454.16" y="243.36" width="5.13" height="4.47" fill="#f8c3b2" />
<rect x="459.24" y="243.36" width="5.13" height="4.47" fill="#fad2c4" />
<rect x="464.32" y="243.36" width="5.13" height="4.47" fill="#f5a691" />
<rect x="469.40" y="243.36" width="5.13" height="4.47" fill="#a4d8ec" />
<rect x="474.48" y="243.36" width="5.13" height="4.47" fill="#a4d8ec" />
<rect x="479.56" y="243.36" width="5.13" height="4.47" fill="#a4d8ec" />
<rect x="484.64" y="243.36" width="5.13" height="4.47" fill="#a4d8ec" />
<rect x="444.00" y="247.78" width="5.13" height="4.47" fill="#f8c3b2" />
<rect x="449.08" y="247.78" width="5.13" height="4.47" fill="#f8c3b2" />
<rect x="454.16" y="247.78" width="5.13" height="4.47" fill="#f6b4a0" />
<rect x="459.24" y="247.78" width="5.13" height="4.47" fill="#f8c3b2" />
<rect x="464.32" y="247.78" width="5.13" height="4.47" fill="#ed7663" />
<rect x="469.40" y="247.78" width="5.13" height="4.47" fill="#a4d8ec" />
<rect x="474.48" y="247.78" width="5.13" height="4.47" fill="#acdbed" />
<rect x="479.56" y="247.78" width="5.13" height="4.47" fill="#a4d8ec" />
<rect x="484.64" y="247.78" width="5.13" height="4.47" fill="#a4d8ec" />
<rect x="443.80" y="23.90" width="25.20" height="2.50" fill="#e4e4ee" />
<rect x="469.00" y="23.90" width="20.20" height="2.50" fill="#15305e" />
<text x="461.20" y="21.90" font-size="6.1" fill="#222" text-anchor="middle" font-weight="normal" font-style="normal" stroke="#222" stroke-width="0.08" >HC</text>
<text x="475.00" y="21.90" font-size="6.1" fill="#222" text-anchor="start" font-weight="normal" font-style="normal" stroke="#222" stroke-width="0.08" >βThal</text>
<text x="492.80" y="34.90" font-size="4.3" fill="#f2cc66" text-anchor="start" font-weight="normal" font-style="normal" >CPOX</text>
<text x="492.80" y="39.32" font-size="4.3" fill="#f2cc66" text-anchor="start" font-weight="normal" font-style="normal" >BPGM</text>
<text x="492.80" y="43.74" font-size="4.3" fill="#a8909f" text-anchor="start" font-weight="normal" font-style="normal" >USP14</text>
<text x="492.80" y="48.16" font-size="4.3" fill="#f2cc66" text-anchor="start" font-weight="normal" font-style="normal" >ACO2</text>
<text x="492.80" y="52.58" font-size="4.3" fill="#a8909f" text-anchor="start" font-weight="normal" font-style="normal" >HSP90AB1</text>
<text x="492.80" y="57.00" font-size="4.3" fill="#a8909f" text-anchor="start" font-weight="normal" font-style="normal" >MGST3</text>
<text x="492.80" y="61.42" font-size="4.3" fill="#f2cc66" text-anchor="start" font-weight="normal" font-style="normal" >CPOX</text>
<text x="492.80" y="65.84" font-size="4.3" fill="#f2cc66" text-anchor="start" font-weight="normal" font-style="normal" >KEL</text>
<text x="492.80" y="70.26" font-size="4.3" fill="#941c58" text-anchor="start" font-weight="normal" font-style="normal" >HSP90AA1</text>
<text x="492.80" y="74.68" font-size="4.3" fill="#a8909f" text-anchor="start" font-weight="normal" font-style="normal" >HSP90AA1</text>
<text x="492.80" y="79.10" font-size="4.3" fill="#f2cc66" text-anchor="start" font-weight="normal" font-style="normal" >CAT</text>
<text x="492.80" y="83.52" font-size="4.3" fill="#f2cc66" text-anchor="start" font-weight="normal" font-style="normal" >ACO2</text>
<text x="492.80" y="87.94" font-size="4.3" fill="#f2cc66" text-anchor="start" font-weight="normal" font-style="normal" >EEF1A1</text>
<text x="492.80" y="92.36" font-size="4.3" fill="#a8909f" text-anchor="start" font-weight="normal" font-style="normal" >PRKCB</text>
<text x="492.80" y="96.78" font-size="4.3" fill="#a8909f" text-anchor="start" font-weight="normal" font-style="normal" >CHORDC1</text>
<text x="492.80" y="101.20" font-size="4.3" fill="#a8909f" text-anchor="start" font-weight="normal" font-style="normal" >NSMAF</text>
<text x="492.80" y="105.62" font-size="4.3" fill="#f2cc66" text-anchor="start" font-weight="normal" font-style="normal" >ARG1</text>
<text x="492.80" y="110.04" font-size="4.3" fill="#dc92a8" text-anchor="start" font-weight="normal" font-style="normal" >PRDX2</text>
<text x="492.80" y="114.46" font-size="4.3" fill="#f2cc66" text-anchor="start" font-weight="normal" font-style="normal" >FLNA</text>
<text x="492.80" y="118.88" font-size="4.3" fill="#f2cc66" text-anchor="start" font-weight="normal" font-style="normal" >TUBB</text>
<text x="492.80" y="123.30" font-size="4.3" fill="#f2cc66" text-anchor="start" font-weight="normal" font-style="normal" >HSPA8</text>
<text x="492.80" y="127.72" font-size="4.3" fill="#f2cc66" text-anchor="start" font-weight="normal" font-style="normal" >PLXNB2</text>
<text x="492.80" y="132.14" font-size="4.3" fill="#8282b8" text-anchor="start" font-weight="normal" font-style="normal" >APEX1</text>
<text x="492.80" y="136.56" font-size="4.3" fill="#f2cc66" text-anchor="start" font-weight="normal" font-style="normal" >UCHL1</text>
<text x="492.80" y="140.98" font-size="4.3" fill="#f2cc66" text-anchor="start" font-weight="normal" font-style="normal" >TPRG1</text>
<text x="492.80" y="145.40" font-size="4.3" fill="#a8909f" text-anchor="start" font-weight="normal" font-style="normal" >BSG</text>
<text x="492.80" y="149.82" font-size="4.3" fill="#f2cc66" text-anchor="start" font-weight="normal" font-style="normal" >PKLR</text>
<text x="492.80" y="154.24" font-size="4.3" fill="#a8909f" text-anchor="start" font-weight="normal" font-style="normal" >EFTUD2</text>
<text x="492.80" y="158.66" font-size="4.3" fill="#a8909f" text-anchor="start" font-weight="normal" font-style="normal" >CCT5</text>
<text x="492.80" y="163.08" font-size="4.3" fill="#a8909f" text-anchor="start" font-weight="normal" font-style="normal" >HNRNPU</text>
<text x="492.80" y="167.50" font-size="4.3" fill="#a8909f" text-anchor="start" font-weight="normal" font-style="normal" >EEF1A1</text>
<text x="492.80" y="171.92" font-size="4.3" fill="#f2cc66" text-anchor="start" font-weight="normal" font-style="normal" >CA1</text>
<text x="492.80" y="176.34" font-size="4.3" fill="#a8909f" text-anchor="start" font-weight="normal" font-style="normal" >EEF1G</text>
<text x="492.80" y="180.76" font-size="4.3" fill="#a8909f" text-anchor="start" font-weight="normal" font-style="normal" >CAT</text>
<text x="492.80" y="185.18" font-size="4.3" fill="#941c58" text-anchor="start" font-weight="normal" font-style="normal" >HSC1</text>
<text x="492.80" y="189.60" font-size="4.3" fill="#f2cc66" text-anchor="start" font-weight="normal" font-style="normal" >HNRNPH1</text>
<text x="492.80" y="194.02" font-size="4.3" fill="#a8909f" text-anchor="start" font-weight="normal" font-style="normal" >HSC1</text>
<text x="492.80" y="198.44" font-size="4.3" fill="#941c58" text-anchor="start" font-weight="normal" font-style="normal" >CALR</text>
<text x="492.80" y="202.86" font-size="4.3" fill="#941c58" text-anchor="start" font-weight="normal" font-style="normal" >EEF1A1</text>
<text x="492.80" y="207.28" font-size="4.3" fill="#f2a858" text-anchor="start" font-weight="normal" font-style="normal" >HBD</text>
<text x="492.80" y="211.70" font-size="4.3" fill="#a8909f" text-anchor="start" font-weight="normal" font-style="normal" >TLN1</text>
<text x="492.80" y="216.12" font-size="4.3" fill="#a8909f" text-anchor="start" font-weight="normal" font-style="normal" >TKT</text>
<text x="492.80" y="220.54" font-size="4.3" fill="#941c58" text-anchor="start" font-weight="normal" font-style="normal" >TKT</text>
<text x="492.80" y="224.96" font-size="4.3" fill="#dc92a8" text-anchor="start" font-weight="normal" font-style="normal" >CALR</text>
<text x="492.80" y="229.38" font-size="4.3" fill="#f2cc66" text-anchor="start" font-weight="normal" font-style="normal" >YBX1</text>
<text x="492.80" y="233.80" font-size="4.3" fill="#f2cc66" text-anchor="start" font-weight="normal" font-style="normal" >EEF1G</text>
<text x="492.80" y="238.22" font-size="4.3" fill="#f2cc66" text-anchor="start" font-weight="normal" font-style="normal" >HNRNPF</text>
<text x="492.80" y="242.64" font-size="4.3" fill="#f2cc66" text-anchor="start" font-weight="normal" font-style="normal" >CBR1</text>
<text x="492.80" y="247.06" font-size="4.3" fill="#f2cc66" text-anchor="start" font-weight="normal" font-style="normal" >HMT1</text>
<text x="492.80" y="251.48" font-size="4.3" fill="#f2cc66" text-anchor="start" font-weight="normal" font-style="normal" >CAP1</text>
<defs><linearGradient id="lgF" x1="0" y1="0" x2="0" y2="1"><stop offset="0" stop-color="#b2182b"/><stop offset="0.25" stop-color="#ee9a9a"/><stop offset="0.55" stop-color="#f7f7f7"/><stop offset="0.8" stop-color="#a8d4e6"/><stop offset="1" stop-color="#3a8cb0"/></linearGradient></defs>
<rect x="424.90" y="32.70" width="2.60" height="33.30" fill="url(#lgF)" />
<text x="429.20" y="38.20" font-size="4.2" fill="#555" text-anchor="start" font-weight="normal" font-style="normal" >2.2</text>
<text x="429.80" y="54.20" font-size="4.2" fill="#555" text-anchor="start" font-weight="normal" font-style="normal" >0</text>
<text x="428.40" y="65.80" font-size="4.2" fill="#555" text-anchor="start" font-weight="normal" font-style="normal" >−2.2</text>
<line x1="434.70" y1="30.00" x2="434.70" y2="70.00" stroke="#e8e8e8" stroke-width="0.5" />
<defs><linearGradient id="cmF" x1="0" y1="0" x2="0" y2="1"><stop offset="0" stop-color="#ececec"/><stop offset="0.6" stop-color="#e2e2e2"/><stop offset="1" stop-color="#ecdde0"/></linearGradient></defs>
<rect x="416.9" y="77.5" width="23.3" height="28.2" rx="2.5" fill="url(#cmF)" stroke="#6a6a6a" stroke-width="0.8"/>
<text x="428.50" y="85.00" font-size="4.0" fill="#444" text-anchor="middle" font-weight="normal" font-style="normal" >Cysteine</text>
<text x="428.50" y="89.50" font-size="4.0" fill="#444" text-anchor="middle" font-weight="normal" font-style="normal" >Mods</text>
<text x="428.50" y="94.40" font-size="3.4" fill="#c8c8c8" text-anchor="middle" font-weight="normal" font-style="normal" >Sulfonation</text>
<text x="428.50" y="98.60" font-size="3.4" fill="#e0a0b0" text-anchor="middle" font-weight="normal" font-style="normal" >Glutathione</text>
<text x="428.50" y="103.80" font-size="4.0" fill="#c02850" text-anchor="middle" font-weight="normal" font-style="normal" >Cys-DHA</text>
<path d="M442 148.4 H437.7 V244 H442" fill="none" stroke="#c8c8c8" stroke-width="0.7"/>
<text x="469.30" y="264.20" font-size="6.0" fill="#222" text-anchor="middle" font-weight="normal" font-style="normal" stroke="#222" stroke-width="0.08" >Cysteine redox modifications</text>
<text x="470.00" y="270.80" font-size="6.4" fill="#222" text-anchor="middle" font-weight="normal" font-style="italic" stroke="#222" stroke-width="0.08" >Top 50 T-test</text>
<rect x="0.5" y="0.5" width="519" height="314" fill="none" stroke="#5c5c5c" stroke-width="1"/>
</svg>
</body></html>
